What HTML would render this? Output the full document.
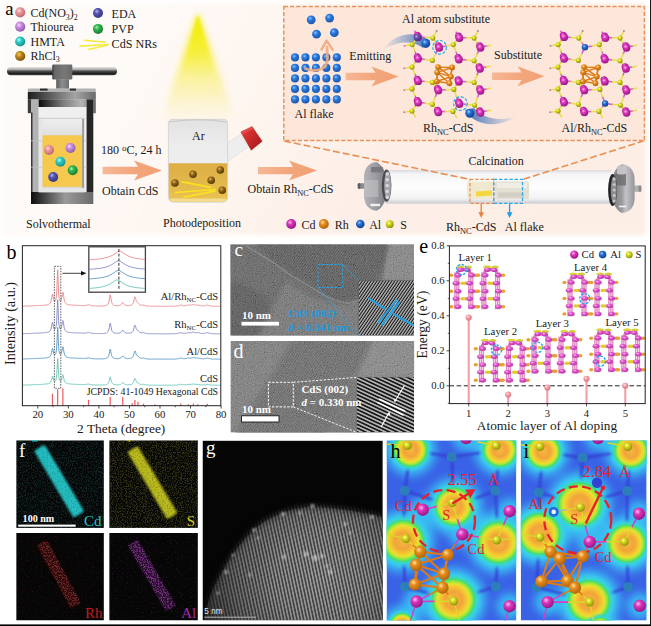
<!DOCTYPE html>
<html><head><meta charset="utf-8"><title>Figure</title>
<style>html,body{margin:0;padding:0;background:#fff;}body{width:651px;height:626px;overflow:hidden;position:relative;font-family:"Liberation Serif",serif;}svg{position:absolute;left:0;top:0;display:block;}text{font-family:"Liberation Serif",serif;}</style></head>
<body>
<svg width="651" height="626" viewBox="0 0 651 626">
<defs><radialGradient id="g_pink" cx="0.38" cy="0.34" r="0.7"><stop offset="0" stop-color="#ffdcd8"/><stop offset="0.35" stop-color="#ec969c"/><stop offset="1" stop-color="#b8646c"/></radialGradient><radialGradient id="g_purp" cx="0.38" cy="0.34" r="0.7"><stop offset="0" stop-color="#f4dcff"/><stop offset="0.35" stop-color="#c88ce0"/><stop offset="1" stop-color="#8a58a8"/></radialGradient><radialGradient id="g_teal" cx="0.38" cy="0.34" r="0.7"><stop offset="0" stop-color="#b8fff8"/><stop offset="0.35" stop-color="#30ccc4"/><stop offset="1" stop-color="#188c88"/></radialGradient><radialGradient id="g_gold" cx="0.38" cy="0.34" r="0.7"><stop offset="0" stop-color="#f4cc70"/><stop offset="0.35" stop-color="#c08a1c"/><stop offset="1" stop-color="#74500a"/></radialGradient><radialGradient id="g_gold2" cx="0.38" cy="0.34" r="0.7"><stop offset="0" stop-color="#e0b860"/><stop offset="0.35" stop-color="#94691a"/><stop offset="1" stop-color="#4e3406"/></radialGradient><radialGradient id="g_cds" cx="0.38" cy="0.34" r="0.7"><stop offset="0" stop-color="#ffd0f6"/><stop offset="0.35" stop-color="#e050cc"/><stop offset="1" stop-color="#b434a4"/></radialGradient><radialGradient id="g_al2" cx="0.38" cy="0.34" r="0.7"><stop offset="0" stop-color="#8cc4ff"/><stop offset="0.35" stop-color="#2a7ade"/><stop offset="1" stop-color="#1a52a8"/></radialGradient><radialGradient id="g_navy" cx="0.38" cy="0.34" r="0.7"><stop offset="0" stop-color="#b4b4f4"/><stop offset="0.35" stop-color="#5454b0"/><stop offset="1" stop-color="#34347c"/></radialGradient><radialGradient id="g_green" cx="0.38" cy="0.34" r="0.7"><stop offset="0" stop-color="#a8f4b0"/><stop offset="0.35" stop-color="#30b44c"/><stop offset="1" stop-color="#187834"/></radialGradient><radialGradient id="g_cd" cx="0.38" cy="0.34" r="0.7"><stop offset="0" stop-color="#ffbcee"/><stop offset="0.35" stop-color="#dc34bc"/><stop offset="1" stop-color="#92147e"/></radialGradient><radialGradient id="g_rh" cx="0.38" cy="0.34" r="0.7"><stop offset="0" stop-color="#ffe0a0"/><stop offset="0.35" stop-color="#e68c1c"/><stop offset="1" stop-color="#ae620c"/></radialGradient><radialGradient id="g_al" cx="0.38" cy="0.34" r="0.7"><stop offset="0" stop-color="#9cc8ff"/><stop offset="0.35" stop-color="#2470d4"/><stop offset="1" stop-color="#103c86"/></radialGradient><radialGradient id="g_s" cx="0.38" cy="0.34" r="0.7"><stop offset="0" stop-color="#ffffa0"/><stop offset="0.35" stop-color="#d6d61c"/><stop offset="1" stop-color="#8c8c0c"/></radialGradient><radialGradient id="g_cdm" cx="0.38" cy="0.34" r="0.7"><stop offset="0" stop-color="#ffa8ec"/><stop offset="0.35" stop-color="#c824b0"/><stop offset="1" stop-color="#7e1270"/></radialGradient><radialGradient id="g_stem" cx="0.38" cy="0.34" r="0.7"><stop offset="0" stop-color="#ffe8e8"/><stop offset="0.35" stop-color="#f4a0a6"/><stop offset="1" stop-color="#d87680"/></radialGradient><filter id="blur05" x="-10%" y="-10%" width="120%" height="120%"><feGaussianBlur stdDeviation="0.5"/></filter><filter id="blur08" x="-20%" y="-20%" width="140%" height="140%"><feGaussianBlur stdDeviation="0.8"/></filter><filter id="blur1" x="-20%" y="-20%" width="140%" height="140%"><feGaussianBlur stdDeviation="1"/></filter><filter id="blur2" x="-20%" y="-20%" width="140%" height="140%"><feGaussianBlur stdDeviation="2"/></filter><filter id="blur3" x="-20%" y="-20%" width="140%" height="140%"><feGaussianBlur stdDeviation="3"/></filter><filter id="blur4" x="-30%" y="-30%" width="160%" height="160%"><feGaussianBlur stdDeviation="5"/></filter><linearGradient id="bgA" x1="0" y1="0" x2="1" y2="0.2"><stop offset="0" stop-color="#fefaf8"/><stop offset="0.22" stop-color="#fefaf7"/><stop offset="0.42" stop-color="#fef6f1"/><stop offset="0.65" stop-color="#fdf0e8"/><stop offset="1" stop-color="#fdeee5"/></linearGradient><linearGradient id="barG" x1="0" y1="0" x2="0" y2="1"><stop offset="0" stop-color="#e4e4e4"/><stop offset="0.28" stop-color="#b4b4b4"/><stop offset="0.5" stop-color="#4c4c4c"/><stop offset="0.82" stop-color="#1a1a1a"/><stop offset="1" stop-color="#4a4a4a"/></linearGradient><linearGradient id="knobG" x1="0" y1="0" x2="1" y2="0"><stop offset="0" stop-color="#3a3a3a"/><stop offset="0.12" stop-color="#686868"/><stop offset="0.6" stop-color="#787878"/><stop offset="1" stop-color="#6a6a6a"/></linearGradient><linearGradient id="neckG" x1="0" y1="0" x2="1" y2="0"><stop offset="0" stop-color="#5a5a5a"/><stop offset="0.45" stop-color="#8e8e8e"/><stop offset="1" stop-color="#6e6e6e"/></linearGradient><linearGradient id="lidG" x1="0" y1="0" x2="1" y2="0"><stop offset="0" stop-color="#1e1e1e"/><stop offset="0.15" stop-color="#3a3a3a"/><stop offset="0.7" stop-color="#a4a4a4"/><stop offset="1" stop-color="#6a6a6a"/></linearGradient><linearGradient id="lid2G" x1="0" y1="0" x2="1" y2="0"><stop offset="0" stop-color="#8a8a8a"/><stop offset="0.3" stop-color="#cfcfcf"/><stop offset="0.8" stop-color="#7a7a7a"/><stop offset="1" stop-color="#3a3a3a"/></linearGradient><linearGradient id="bodyG" x1="0" y1="0" x2="1" y2="0"><stop offset="0" stop-color="#9c9c9c"/><stop offset="0.8" stop-color="#777"/><stop offset="1" stop-color="#333"/></linearGradient><linearGradient id="underG" x1="0" y1="0" x2="1" y2="0"><stop offset="0" stop-color="#0c0c0c"/><stop offset="0.5" stop-color="#7a7a7a"/><stop offset="0.9" stop-color="#b4b4b4"/><stop offset="1" stop-color="#9a9a9a"/></linearGradient><linearGradient id="baseG" x1="0" y1="0" x2="1" y2="0"><stop offset="0" stop-color="#0c0c0c"/><stop offset="0.55" stop-color="#9a9a9a"/><stop offset="1" stop-color="#6a6a6a"/></linearGradient><linearGradient id="glassG" x1="0" y1="0" x2="0" y2="1"><stop offset="0" stop-color="#eeeeee"/><stop offset="1" stop-color="#e0e0e0"/></linearGradient><linearGradient id="coneG" x1="0" y1="0" x2="0" y2="1"><stop offset="0" stop-color="#f4f000" stop-opacity="1"/><stop offset="0.3" stop-color="#f6ee30" stop-opacity="0.9"/><stop offset="0.7" stop-color="#f8ee80" stop-opacity="0.45"/><stop offset="1" stop-color="#fbf2c0" stop-opacity="0"/></linearGradient><linearGradient id="flaskG" x1="0" y1="0" x2="0" y2="1"><stop offset="0" stop-color="#e2e2e2"/><stop offset="0.3" stop-color="#ececec"/><stop offset="1" stop-color="#f2f2f2"/></linearGradient><linearGradient id="liqG" x1="0" y1="0" x2="0" y2="1"><stop offset="0" stop-color="#dcae44"/><stop offset="1" stop-color="#eac252"/></linearGradient><linearGradient id="capG" x1="0" y1="0" x2="1" y2="1"><stop offset="0" stop-color="#e04040"/><stop offset="0.5" stop-color="#c82828"/><stop offset="1" stop-color="#9c1818"/></linearGradient><linearGradient id="arrG" x1="0" y1="0" x2="1" y2="0"><stop offset="0" stop-color="#f6b896"/><stop offset="0.5" stop-color="#f3a67c"/><stop offset="1" stop-color="#f2a074"/></linearGradient><linearGradient id="coneG2" x1="0" y1="0" x2="0" y2="1"><stop offset="0" stop-color="#f0ec00" stop-opacity="1"/><stop offset="0.5" stop-color="#f4ee20" stop-opacity="0.6"/><stop offset="1" stop-color="#f6f040" stop-opacity="0"/></linearGradient><linearGradient id="swoosh1" x1="0" y1="0" x2="1" y2="0"><stop offset="0" stop-color="#3c78c8" stop-opacity="0"/><stop offset="1" stop-color="#2c62b0" stop-opacity="0.9"/></linearGradient><linearGradient id="swoosh2" x1="0" y1="0" x2="1" y2="0"><stop offset="0" stop-color="#2c62b0" stop-opacity="0.9"/><stop offset="1" stop-color="#3c78c8" stop-opacity="0"/></linearGradient><linearGradient id="tubeG" x1="0" y1="0" x2="0" y2="1"><stop offset="0" stop-color="#d9d9dd"/><stop offset="0.12" stop-color="#f6f6f8"/><stop offset="0.5" stop-color="#ffffff"/><stop offset="0.85" stop-color="#f2f2f4"/><stop offset="1" stop-color="#cfcfd4"/></linearGradient><linearGradient id="tubeShadeG" x1="0" y1="0" x2="0" y2="1"><stop offset="0" stop-color="#fff" stop-opacity="0"/><stop offset="1" stop-color="#c8c8ce"/></linearGradient><linearGradient id="flangeG" x1="0" y1="0" x2="1" y2="1"><stop offset="0" stop-color="#dcdce0"/><stop offset="0.35" stop-color="#b4b4b8"/><stop offset="0.7" stop-color="#98989c"/><stop offset="1" stop-color="#c8c8cc"/></linearGradient><linearGradient id="flangeL" x1="0" y1="0" x2="1" y2="0"><stop offset="0" stop-color="#b4b4b8"/><stop offset="0.45" stop-color="#a0a0a4"/><stop offset="0.8" stop-color="#8a8a8e"/><stop offset="1" stop-color="#76767a"/></linearGradient><linearGradient id="flangeR" x1="0" y1="0" x2="1" y2="0"><stop offset="0" stop-color="#7c7c80"/><stop offset="0.45" stop-color="#9c9ca0"/><stop offset="0.62" stop-color="#c4c4c8"/><stop offset="1" stop-color="#94949a"/></linearGradient><filter id="noiseG" x="0" y="0" width="100%" height="100%"><feTurbulence type="fractalNoise" baseFrequency="0.9" numOctaves="2" seed="3"/><feColorMatrix type="matrix" values="0.33 0.33 0.33 0 0  0.33 0.33 0.33 0 0  0.33 0.33 0.33 0 0  0 0 0 0 1"/><feComponentTransfer><feFuncR type="linear" slope="1.8" intercept="-0.46"/><feFuncG type="linear" slope="1.8" intercept="-0.46"/><feFuncB type="linear" slope="1.8" intercept="-0.46"/></feComponentTransfer></filter><filter id="noiseCy" x="0" y="0" width="100%" height="100%"><feTurbulence type="fractalNoise" baseFrequency="0.8" numOctaves="2" seed="5"/><feColorMatrix type="matrix" values="0 0 0 0 0.12  0 0 0 0 0.78  0 0 0 0 0.8  4 4 0 0 -3.88"/><feGaussianBlur stdDeviation="0.6"/></filter><filter id="noiseYe" x="0" y="0" width="100%" height="100%"><feTurbulence type="fractalNoise" baseFrequency="0.8" numOctaves="2" seed="7"/><feColorMatrix type="matrix" values="0 0 0 0 0.8  0 0 0 0 0.8  0 0 0 0 0.12  4 4 0 0 -3.8"/><feGaussianBlur stdDeviation="0.6"/></filter><filter id="noiseRe" x="0" y="0" width="100%" height="100%"><feTurbulence type="fractalNoise" baseFrequency="0.8" numOctaves="2" seed="9"/><feColorMatrix type="matrix" values="0 0 0 0 0.75  0 0 0 0 0.08  0 0 0 0 0.08  6 6 0 0 -7.08"/><feGaussianBlur stdDeviation="0.6"/></filter><filter id="noiseMa" x="0" y="0" width="100%" height="100%"><feTurbulence type="fractalNoise" baseFrequency="0.8" numOctaves="2" seed="11"/><feColorMatrix type="matrix" values="0 0 0 0 0.62  0 0 0 0 0.12  0 0 0 0 0.7  6 6 0 0 -7.08"/><feGaussianBlur stdDeviation="0.6"/></filter><filter id="noiseReD" x="0" y="0" width="100%" height="100%"><feTurbulence type="fractalNoise" baseFrequency="0.8" numOctaves="2" seed="21"/><feColorMatrix type="matrix" values="0 0 0 0 0.85  0 0 0 0 0.1  0 0 0 0 0.1  5 5 0 0 -4.75"/><feGaussianBlur stdDeviation="0.6"/></filter><filter id="noiseMaD" x="0" y="0" width="100%" height="100%"><feTurbulence type="fractalNoise" baseFrequency="0.8" numOctaves="2" seed="23"/><feColorMatrix type="matrix" values="0 0 0 0 0.68  0 0 0 0 0.14  0 0 0 0 0.78  5 5 0 0 -4.75"/><feGaussianBlur stdDeviation="0.6"/></filter><filter id="noiseDark" x="0" y="0" width="100%" height="100%"><feTurbulence type="fractalNoise" baseFrequency="0.8" numOctaves="2" seed="13"/><feColorMatrix type="matrix" values="0 0 0 0 0.0  0 0 0 0 0.0  0 0 0 0 0.0  6 6 0 0 -6.12"/><feGaussianBlur stdDeviation="0.6"/></filter><pattern id="stripeC" width="2.45" height="2.45" patternUnits="userSpaceOnUse" patternTransform="rotate(-55.7)"><rect width="2.45" height="1.3" fill="#c0c0c0"/></pattern><pattern id="stripeD" width="3.35" height="3.35" patternUnits="userSpaceOnUse" patternTransform="rotate(25)"><rect width="3.35" height="1.7" fill="#b4b4b4"/></pattern><pattern id="fringeC" width="2" height="2" patternUnits="userSpaceOnUse" patternTransform="rotate(-55)"><rect width="2" height="1" fill="#828282"/></pattern><pattern id="fringeD" width="2.1" height="2.1" patternUnits="userSpaceOnUse" patternTransform="rotate(-55)"><rect width="2.1" height="1" fill="#8c8c8c"/></pattern><pattern id="stripeG" width="3.25" height="3.25" patternUnits="userSpaceOnUse" patternTransform="rotate(-12)"><rect width="3.25" height="3.25" fill="#343434"/><rect width="1.6" height="3.25" fill="#9c9c9c"/></pattern><radialGradient id="domeShade" gradientUnits="userSpaceOnUse" cx="322" cy="578" r="118"><stop offset="0" stop-color="#000" stop-opacity="0"/><stop offset="0.4" stop-color="#000" stop-opacity="0.1"/><stop offset="0.75" stop-color="#000" stop-opacity="0.4"/><stop offset="1" stop-color="#000" stop-opacity="0.75"/></radialGradient><radialGradient id="elf"><stop offset="0" stop-color="#f4b840"/><stop offset="0.30" stop-color="#f2a43a"/><stop offset="0.46" stop-color="#f4c832"/><stop offset="0.55" stop-color="#e8e030"/><stop offset="0.64" stop-color="#98e83c"/><stop offset="0.72" stop-color="#44dc74"/><stop offset="0.80" stop-color="#36d8d8" stop-opacity="0.9"/><stop offset="1" stop-color="#38c8f0" stop-opacity="0"/></radialGradient></defs>
<rect width="651" height="626" fill="#fff"/>
<g id="p_bgA">
<rect x="2.5" y="3" width="643.5" height="232" fill="url(#bgA)" filter="url(#blur2)"/>
</g>
<g id="p_legend">
<circle cx="20.20" cy="12.30" r="5.10" fill="url(#g_pink)" /><circle cx="20.20" cy="26.70" r="5.10" fill="url(#g_purp)" /><circle cx="20.20" cy="41.50" r="5.10" fill="url(#g_teal)" /><circle cx="20.20" cy="56.00" r="5.10" fill="url(#g_gold)" /><text x="30.50" y="17.00" font-size="12" fill="#1a1a1a" text-anchor="start" font-weight="normal" font-style="normal" >Cd(NO<tspan font-size="8" dy="2.5">3</tspan><tspan dy="-2.5">)</tspan><tspan font-size="8" dy="2.5">2</tspan></text><text x="30.50" y="31.00" font-size="12" fill="#1a1a1a" text-anchor="start" font-weight="normal" font-style="normal" >Thiourea</text><text x="30.50" y="45.50" font-size="12" fill="#1a1a1a" text-anchor="start" font-weight="normal" font-style="normal" >HMTA</text><text x="30.50" y="59.50" font-size="12" fill="#1a1a1a" text-anchor="start" font-weight="normal" font-style="normal" >RhCl<tspan font-size="8" dy="2.5">3</tspan></text><circle cx="98.00" cy="13.00" r="5.00" fill="url(#g_navy)" /><circle cx="98.00" cy="28.90" r="5.00" fill="url(#g_green)" /><text x="111.60" y="17.50" font-size="12" fill="#1a1a1a" text-anchor="start" font-weight="normal" font-style="normal" >EDA</text><text x="111.60" y="33.00" font-size="12" fill="#1a1a1a" text-anchor="start" font-weight="normal" font-style="normal" >PVP</text><text x="111.60" y="47.50" font-size="12.1" fill="#1a1a1a" text-anchor="start" font-weight="normal" font-style="normal" >CdS NRs</text><g stroke="#f6ea40" stroke-width="1.6" stroke-linecap="round" fill="none"><path d="M84.6,40.2 L105.3,42.2"/><path d="M80,46.1 L108.4,44.5"/><path d="M88.4,49.5 L106.9,45.3"/></g>
</g>
<g id="p_autoclave">
<rect x="7" y="67" width="110" height="8.3" rx="4" fill="url(#barG)"/><rect x="52.3" y="64.4" width="20" height="15" rx="1.2" fill="url(#knobG)"/><rect x="56.2" y="79.2" width="12.8" height="9.6" fill="url(#neckG)"/><rect x="27.8" y="88.4" width="68" height="3.8" rx="0.8" fill="#b2b2b2"/><rect x="40" y="88.6" width="7.6" height="2" fill="#2a2a2a"/><rect x="69.8" y="88.6" width="6.2" height="2" fill="#2a2a2a"/><rect x="27.8" y="92" width="68" height="7.6" fill="url(#lidG)"/><rect x="27.8" y="99.4" width="3.4" height="13.8" fill="#3c3c3c"/><rect x="93.2" y="99.4" width="2.6" height="13.8" fill="#6c6c6c"/><rect x="31" y="99.4" width="7.8" height="93" fill="#b2b2b2"/><rect x="31" y="112.5" width="1.5" height="80" fill="#36363e"/><rect x="86.3" y="99.4" width="7" height="93" fill="#262626"/><rect x="85" y="107" width="1.4" height="85.4" fill="#f0f0f0"/><rect x="38.7" y="99.4" width="47.7" height="7.8" fill="url(#underG)"/><rect x="31" y="192" width="62.3" height="12" fill="url(#baseG)"/><rect x="38.7" y="107" width="46.4" height="85.4" fill="#e6e6e6"/><rect x="38.7" y="107" width="46.4" height="11" fill="#efefef"/><rect x="38.7" y="117.8" width="46.4" height="0.9" fill="#c8c8c8"/><rect x="31" y="140.5" width="55.4" height="0.7" fill="#c4c4c4"/><rect x="31" y="166.8" width="55.4" height="0.7" fill="#c4c4c4"/><rect x="42.5" y="119" width="40" height="69.5" fill="#dadada"/><rect x="42.5" y="119" width="40" height="16.5" fill="url(#glassG)"/><rect x="42.5" y="135.3" width="40" height="51.5" fill="#f6c84e"/><rect x="82.3" y="119" width="1.5" height="69" fill="#8a8a8a"/><circle cx="49.00" cy="150.00" r="5.00" fill="url(#g_pink)" /><circle cx="70.50" cy="148.00" r="5.00" fill="url(#g_purp)" /><circle cx="60.40" cy="161.70" r="5.00" fill="url(#g_teal)" /><circle cx="72.70" cy="170.30" r="5.00" fill="url(#g_green)" /><circle cx="53.20" cy="177.00" r="5.00" fill="url(#g_navy)" />
</g>
<g id="p_flask">
<path d="M197.9,13 L160,121 Q197,136 236,121 Z" fill="url(#coneG)" filter="url(#blur3)"/><path d="M197.9,14.5 L181,75 L215,75 Z" fill="url(#coneG2)" filter="url(#blur1)"/><path d="M226.5,143.5 L240.8,134.6 L247.9,147.2 L228,161 Z" fill="#eeeeee" stroke="#d4d4d8" stroke-width="0.5"/><path d="M240.8,132 L252.1,126.6 L262.2,141.3 L251.2,150.3 Z" fill="url(#capG)" stroke="#9a1818" stroke-width="0.4" stroke-linejoin="round"/><path d="M240.8,132 L252.1,126.6 L253.6,128.8 L242.3,134.4 Z" fill="#e85050" opacity="0.8"/><path d="M168.4,123.5 Q168.4,119.4 172.5,119.4 L223.5,119.4 Q227.6,119.4 227.6,123.5 L227.6,196.5 Q227.6,202.2 221.8,202.2 L174.2,202.2 Q168.4,202.2 168.4,196.5 Z" fill="url(#flaskG)" stroke="#cfcfcf" stroke-width="0.8"/><path d="M169.5,122 Q198,117.5 226.5,122" fill="none" stroke="#c4c4c4" stroke-width="0.9"/><path d="M168.8,163.3 L227.2,163.3 L227.2,196.3 Q227.2,201.8 221.6,201.8 L174.4,201.8 Q168.8,201.8 168.8,196.3 Z" fill="url(#liqG)"/><path d="M170,198.4 L226,198.4 Q225,201.6 221.6,201.6 L174.4,201.6 Q171,201.6 170,198.4 Z" fill="#f4e4a0" opacity="0.8"/><text x="198.40" y="139.60" font-size="12" fill="#1a1a1a" text-anchor="middle" font-weight="normal" font-style="normal" >Ar</text><g stroke="#fae220" stroke-width="1.7" stroke-linecap="round"><path d="M182,181.9 L210.7,187.3"/><path d="M175.2,192.5 L214.9,189.5"/><path d="M183.7,197.1 L214.9,191.2"/></g><circle cx="193.00" cy="174.30" r="3.80" fill="url(#g_gold2)" /><circle cx="220.30" cy="170.00" r="3.80" fill="url(#g_gold2)" /><circle cx="211.20" cy="180.20" r="3.80" fill="url(#g_gold2)" /><circle cx="174.90" cy="183.00" r="3.80" fill="url(#g_gold2)" /><circle cx="222.20" cy="190.30" r="3.80" fill="url(#g_gold2)" />
</g>
<g id="p_steps">
<text x="101.00" y="153.60" font-size="12" fill="#1a1a1a" text-anchor="start" font-weight="normal" font-style="normal" >180 <tspan font-size="9" dy="-3">o</tspan><tspan dy="3">C, 24 h</tspan></text><path d="M102.6,166.85 L138,166.85 L134,160.6 L162,170.6 L134,180.6 L138,174.35 L102.6,174.35 Z" fill="url(#arrG)"/><text x="102.00" y="195.30" font-size="12" fill="#1a1a1a" text-anchor="start" font-weight="normal" font-style="normal" >Obtain CdS</text><text x="26.00" y="228.20" font-size="12" fill="#1a1a1a" text-anchor="start" font-weight="normal" font-style="normal" >Solvothermal</text><text x="163.00" y="227.10" font-size="12" fill="#1a1a1a" text-anchor="start" font-weight="normal" font-style="normal" >Photodeposition</text><path d="M258,167.0 L293,167.0 L289,160.6 L317,170.6 L289,180.6 L293,174.2 L258,174.2 Z" fill="url(#arrG)"/><text x="247.50" y="193.20" font-size="12" fill="#1a1a1a" text-anchor="start" font-weight="normal" font-style="normal" >Obtain Rh<tspan font-size="8.4" dy="2.5">NC</tspan><tspan dy="-2.5">-CdS</tspan></text>
</g>
<g id="p_legend2">
<circle cx="291.20" cy="224.00" r="5.00" fill="url(#g_cd)" /><text x="301.40" y="228.60" font-size="12" fill="#1a1a1a" text-anchor="start" font-weight="normal" font-style="normal" >Cd</text><circle cx="323.80" cy="224.00" r="5.00" fill="url(#g_rh)" /><text x="334.80" y="228.60" font-size="12" fill="#1a1a1a" text-anchor="start" font-weight="normal" font-style="normal" >Rh</text><circle cx="360.30" cy="224.00" r="4.30" fill="url(#g_al)" /><text x="369.20" y="228.60" font-size="12" fill="#1a1a1a" text-anchor="start" font-weight="normal" font-style="normal" >Al</text><circle cx="389.80" cy="224.20" r="3.90" fill="url(#g_s)" /><text x="400.20" y="228.60" font-size="12" fill="#1a1a1a" text-anchor="start" font-weight="normal" font-style="normal" >S</text>
</g>
<g id="p_tube">
<rect x="384" y="170" width="228" height="33.8" rx="3" fill="url(#tubeG)" opacity="0.94"/><rect x="386" y="195.5" width="224" height="7.5" fill="url(#tubeShadeG)" opacity="0.55"/><path d="M284,141 L470,179.4 M644.4,140.6 L523,179.4" stroke="#e88e52" stroke-width="1.6" stroke-dasharray="7,3" fill="none"/><rect x="467" y="181.5" width="26.5" height="17.5" rx="1.5" fill="#efe8cc" opacity="0.95"/><path d="M476,191.5 L492,190.4 L492,195.4 L476,196.4 Z" fill="#f6d63c" filter="url(#blur05)"/><rect x="495" y="181.5" width="34" height="17.5" rx="1.5" fill="#e2ded2" opacity="0.95"/><rect x="497" y="183" width="30" height="5" fill="#f0eee6" opacity="0.9"/><rect x="498" y="192.5" width="26" height="5" fill="#cfcbc0" opacity="0.8"/><rect x="470" y="179.4" width="23.8" height="23.9" fill="none" stroke="#e98a4c" stroke-width="1.2" stroke-dasharray="3.4,1.8"/><rect x="493.8" y="179.4" width="28.7" height="23.9" fill="none" stroke="#2aa8ec" stroke-width="1.2" stroke-dasharray="3.4,1.8"/><path d="M481.2,203.5 L481.2,214" stroke="#e8823c" stroke-width="1.3"/><path d="M478.4,212.3 L481.2,218 L484,212.3 Z" fill="#e8823c"/><path d="M509.6,203.5 L509.6,214" stroke="#1e9ce8" stroke-width="1.3"/><path d="M506.8,212.3 L509.6,218 L512.4,212.3 Z" fill="#1e9ce8"/><text x="468.40" y="165.00" font-size="12" fill="#1a1a1a" text-anchor="start" font-weight="normal" font-style="normal" >Calcination</text><text x="446.00" y="231.00" font-size="12" fill="#1a1a1a" text-anchor="start" font-weight="normal" font-style="normal" >Rh<tspan font-size="8.4" dy="2.5">NC</tspan><tspan dy="-2.5">-CdS</tspan></text><text x="504.80" y="231.00" font-size="12" fill="#1a1a1a" text-anchor="start" font-weight="normal" font-style="normal" >Al flake</text><rect x="357.8" y="183.2" width="7" height="5.6" rx="1.3" fill="#8a8a90"/><rect x="357.8" y="183.2" width="2.6" height="5.6" rx="1.1" fill="#5c5c66"/><path d="M376.5,162 Q364,163.5 364,178 L364,195 Q364,209 376.5,210.8 Q386.8,206 386.8,186.4 Q386.8,167 376.5,162 Z" fill="url(#flangeL)"/><rect x="371" y="167" width="12" height="5.4" fill="#747478" opacity="0.85"/><rect x="364.4" y="180" width="14" height="17" fill="#c4c4c8" opacity="0.55"/><rect x="370.5" y="203.8" width="9.5" height="2.4" fill="#f6f6f6" opacity="0.95"/><ellipse cx="386.6" cy="185.6" rx="4.8" ry="16.2" fill="#4a4a4e"/><ellipse cx="387.6" cy="185.6" rx="3.4" ry="14" fill="#a4a4a8"/><circle cx="387.2" cy="174.0" r="1.7" fill="#e0e0e4" opacity="0.9"/><circle cx="387.2" cy="179.8" r="1.7" fill="#e0e0e4" opacity="0.9"/><circle cx="387.2" cy="185.6" r="1.7" fill="#e0e0e4" opacity="0.9"/><circle cx="387.2" cy="191.4" r="1.7" fill="#e0e0e4" opacity="0.9"/><circle cx="387.2" cy="197.2" r="1.7" fill="#e0e0e4" opacity="0.9"/><rect x="633.5" y="185.6" width="7.8" height="6.2" rx="1.3" fill="#b0b0b4"/><rect x="638.6" y="185.6" width="2.7" height="6.2" rx="1.1" fill="#8a8a8e"/><path d="M622,164.3 Q634.6,166 634.6,180 L634.6,198 Q634.6,211.5 622,213.1 Q611.6,208 611.6,188.7 Q611.6,169 622,164.3 Z" fill="url(#flangeR)"/><rect x="615" y="174" width="11" height="11.5" fill="#6c6c70" opacity="0.8"/><rect x="617" y="165.5" width="8.4" height="9" rx="2" fill="#c8c8cc" opacity="0.9"/><rect x="619" y="205.7" width="7.4" height="1.6" fill="#f6f6f6" opacity="0.95"/><ellipse cx="612.6" cy="190" rx="4.5" ry="16" fill="#26262a"/><ellipse cx="613.8" cy="190" rx="3" ry="13.6" fill="#8c8c90"/><circle cx="614.2" cy="179.0" r="1.5" fill="#d0d0d4" opacity="0.85"/><circle cx="614.2" cy="184.5" r="1.5" fill="#d0d0d4" opacity="0.85"/><circle cx="614.2" cy="190.0" r="1.5" fill="#d0d0d4" opacity="0.85"/><circle cx="614.2" cy="195.5" r="1.5" fill="#d0d0d4" opacity="0.85"/><circle cx="614.2" cy="201.0" r="1.5" fill="#d0d0d4" opacity="0.85"/>
</g>
<g id="p_topbox">
<rect x="283.8" y="6.6" width="360.6" height="134" fill="#fde7db"/><rect x="283.8" y="6.6" width="360.6" height="134" fill="none" stroke="#e8925a" stroke-width="1.5" stroke-dasharray="4.2,2"/><circle cx="295.00" cy="57.40" r="4.05" fill="url(#g_al2)" /><circle cx="305.45" cy="57.40" r="4.05" fill="url(#g_al2)" /><circle cx="315.90" cy="57.40" r="4.05" fill="url(#g_al2)" /><circle cx="326.35" cy="57.40" r="4.05" fill="url(#g_al2)" /><circle cx="336.80" cy="57.40" r="4.05" fill="url(#g_al2)" /><circle cx="295.00" cy="67.90" r="4.05" fill="url(#g_al2)" /><circle cx="305.45" cy="67.90" r="4.05" fill="url(#g_al2)" /><circle cx="315.90" cy="67.90" r="4.05" fill="url(#g_al2)" /><circle cx="326.35" cy="67.90" r="4.05" fill="url(#g_al2)" /><circle cx="336.80" cy="67.90" r="4.05" fill="url(#g_al2)" /><circle cx="295.00" cy="78.40" r="4.05" fill="url(#g_al2)" /><circle cx="305.45" cy="78.40" r="4.05" fill="url(#g_al2)" /><circle cx="315.90" cy="78.40" r="4.05" fill="url(#g_al2)" /><circle cx="326.35" cy="78.40" r="4.05" fill="url(#g_al2)" /><circle cx="336.80" cy="78.40" r="4.05" fill="url(#g_al2)" /><circle cx="295.00" cy="88.90" r="4.05" fill="url(#g_al2)" /><circle cx="305.45" cy="88.90" r="4.05" fill="url(#g_al2)" /><circle cx="315.90" cy="88.90" r="4.05" fill="url(#g_al2)" /><circle cx="326.35" cy="88.90" r="4.05" fill="url(#g_al2)" /><circle cx="336.80" cy="88.90" r="4.05" fill="url(#g_al2)" /><circle cx="295.00" cy="99.40" r="4.05" fill="url(#g_al2)" /><circle cx="305.45" cy="99.40" r="4.05" fill="url(#g_al2)" /><circle cx="315.90" cy="99.40" r="4.05" fill="url(#g_al2)" /><circle cx="326.35" cy="99.40" r="4.05" fill="url(#g_al2)" /><circle cx="336.80" cy="99.40" r="4.05" fill="url(#g_al2)" /><circle cx="311.20" cy="19.80" r="4.40" fill="url(#g_al2)" /><circle cx="329.60" cy="18.10" r="4.40" fill="url(#g_al2)" /><circle cx="316.50" cy="34.20" r="4.40" fill="url(#g_al2)" /><circle cx="334.30" cy="32.70" r="4.40" fill="url(#g_al2)" /><path d="M305.5,68.8 C316,72.5 327.5,70 327.5,58 L327,47" fill="none" stroke="#f0ac84" stroke-width="2.8" stroke-linecap="round" opacity="0.9"/><path d="M321.6,49.3 L326.6,40.6 L332.6,49.6" fill="none" stroke="#f0ac84" stroke-width="2.6" stroke-linecap="round" stroke-linejoin="round" opacity="0.95"/><text x="294.60" y="118.00" font-size="12" fill="#1a1a1a" text-anchor="start" font-weight="normal" font-style="normal" >Al flake</text><text x="349.30" y="59.80" font-size="12" fill="#1a1a1a" text-anchor="start" font-weight="normal" font-style="normal" >Emitting</text><path d="M345.7,72.75 L375.5,72.75 L371.5,66.5 L398.5,76.5 L371.5,86.5 L375.5,80.25 L345.7,80.25 Z" fill="url(#arrG)"/><text x="402.00" y="23.30" font-size="12" fill="#1a1a1a" text-anchor="start" font-weight="normal" font-style="normal" >Al atom substitute</text><path d="M382,50 C394,34 414,29 430,40.5 L423,48 C412,40 398,41 382,50 Z" fill="url(#swoosh1)"/><path d="M465,110 C474,126 498,129 517,116 C500,122 484,119 474,108 Z" fill="url(#swoosh2)"/><g stroke-width="1.5" stroke-linecap="round"><path d="M417.8,36.7 L425.3,37.4" stroke="#d45ccc"/><path d="M425.3,37.4 L432.8,38.1" stroke="#e6e04a"/><path d="M417.8,36.7 L415.0,40.7" stroke="#d45ccc"/><path d="M415.0,40.7 L412.2,44.6" stroke="#e6e04a"/><path d="M459.1,37.6 L466.6,37.8" stroke="#d45ccc"/><path d="M466.6,37.8 L474.1,38.1" stroke="#e6e04a"/><path d="M459.1,37.6 L456.2,41.1" stroke="#d45ccc"/><path d="M456.2,41.1 L453.3,44.6" stroke="#e6e04a"/><path d="M438.9,47.2 L435.9,42.7" stroke="#d45ccc"/><path d="M435.9,42.7 L432.8,38.1" stroke="#e6e04a"/><path d="M438.9,47.2 L446.1,45.9" stroke="#d45ccc"/><path d="M446.1,45.9 L453.3,44.6" stroke="#e6e04a"/><path d="M438.9,47.2 L435.7,53.8" stroke="#d45ccc"/><path d="M435.7,53.8 L432.4,60.4" stroke="#e6e04a"/><path d="M480.2,47.2 L477.2,42.7" stroke="#d45ccc"/><path d="M477.2,42.7 L474.1,38.1" stroke="#e6e04a"/><path d="M480.2,47.2 L477.2,54.0" stroke="#d45ccc"/><path d="M477.2,54.0 L474.1,60.8" stroke="#e6e04a"/><path d="M417.8,58.3 L415.0,51.5" stroke="#d45ccc"/><path d="M415.0,51.5 L412.2,44.6" stroke="#e6e04a"/><path d="M417.8,58.3 L425.1,59.4" stroke="#d45ccc"/><path d="M425.1,59.4 L432.4,60.4" stroke="#e6e04a"/><path d="M417.8,58.3 L414.9,62.7" stroke="#d45ccc"/><path d="M414.9,62.7 L412.0,67.1" stroke="#e6e04a"/><path d="M458.6,59.0 L456.0,51.8" stroke="#d45ccc"/><path d="M456.0,51.8 L453.3,44.6" stroke="#e6e04a"/><path d="M458.6,59.0 L466.4,59.9" stroke="#d45ccc"/><path d="M466.4,59.9 L474.1,60.8" stroke="#e6e04a"/><path d="M479.7,68.3 L476.9,64.6" stroke="#d45ccc"/><path d="M476.9,64.6 L474.1,60.8" stroke="#e6e04a"/><path d="M479.7,68.3 L476.9,75.4" stroke="#d45ccc"/><path d="M476.9,75.4 L474.1,82.4" stroke="#e6e04a"/><path d="M417.8,80.6 L414.9,73.9" stroke="#d45ccc"/><path d="M414.9,73.9 L412.0,67.1" stroke="#e6e04a"/><path d="M417.8,80.6 L425.1,81.5" stroke="#d45ccc"/><path d="M425.1,81.5 L432.4,82.4" stroke="#e6e04a"/><path d="M417.8,80.6 L414.9,84.8" stroke="#d45ccc"/><path d="M414.9,84.8 L412.0,88.9" stroke="#e6e04a"/><path d="M458.6,81.2 L466.4,81.8" stroke="#d45ccc"/><path d="M466.4,81.8 L474.1,82.4" stroke="#e6e04a"/><path d="M458.6,81.2 L456.2,85.3" stroke="#d45ccc"/><path d="M456.2,85.3 L453.9,89.4" stroke="#e6e04a"/><path d="M438.1,89.9 L435.2,86.2" stroke="#d45ccc"/><path d="M435.2,86.2 L432.4,82.4" stroke="#e6e04a"/><path d="M438.1,89.9 L446.0,89.7" stroke="#d45ccc"/><path d="M446.0,89.7 L453.9,89.4" stroke="#e6e04a"/><path d="M438.1,89.9 L435.2,97.2" stroke="#d45ccc"/><path d="M435.2,97.2 L432.4,104.4" stroke="#e6e04a"/><path d="M480.2,90.3 L477.2,86.3" stroke="#d45ccc"/><path d="M477.2,86.3 L474.1,82.4" stroke="#e6e04a"/><path d="M480.2,90.3 L477.4,97.8" stroke="#d45ccc"/><path d="M477.4,97.8 L474.6,105.2" stroke="#e6e04a"/><path d="M417.8,102.1 L414.9,95.5" stroke="#d45ccc"/><path d="M414.9,95.5 L412.0,88.9" stroke="#e6e04a"/><path d="M417.8,102.1 L425.1,103.2" stroke="#d45ccc"/><path d="M425.1,103.2 L432.4,104.4" stroke="#e6e04a"/><path d="M417.8,102.1 L414.9,106.6" stroke="#d45ccc"/><path d="M414.9,106.6 L412.0,111.0" stroke="#e6e04a"/><path d="M459.1,103.5 L456.5,96.4" stroke="#d45ccc"/><path d="M456.5,96.4 L453.9,89.4" stroke="#e6e04a"/><path d="M459.1,103.5 L466.9,104.4" stroke="#d45ccc"/><path d="M466.9,104.4 L474.6,105.2" stroke="#e6e04a"/><path d="M459.1,103.5 L456.1,107.4" stroke="#d45ccc"/><path d="M456.1,107.4 L453.0,111.4" stroke="#e6e04a"/><path d="M438.1,111.7 L435.2,108.0" stroke="#d45ccc"/><path d="M435.2,108.0 L432.4,104.4" stroke="#e6e04a"/><path d="M438.1,111.7 L445.5,111.6" stroke="#d45ccc"/><path d="M445.5,111.6 L453.0,111.4" stroke="#e6e04a"/><path d="M480.2,112.3 L477.4,108.8" stroke="#d45ccc"/><path d="M477.4,108.8 L474.6,105.2" stroke="#e6e04a"/><path d="M412.2,44.6 L404.7,45.8" stroke="#e6e04a"/><circle cx="404.4" cy="45.8" r="0.9" fill="#c66ab0" stroke="none"/><path d="M412.0,67.1 L404.5,68.3" stroke="#e6e04a"/><circle cx="404.2" cy="68.3" r="0.9" fill="#c66ab0" stroke="none"/><path d="M412.0,88.9 L404.5,90.1" stroke="#e6e04a"/><circle cx="404.2" cy="90.1" r="0.9" fill="#c66ab0" stroke="none"/><path d="M412.0,111.0 L404.5,112.2" stroke="#e6e04a"/><circle cx="404.2" cy="112.2" r="0.9" fill="#c66ab0" stroke="none"/><path d="M480.2,47.2 L487.2,45.7" stroke="#d45ccc"/><path d="M487.2,45.7 L490.7,45.2" stroke="#e6e04a"/><path d="M479.7,68.3 L486.7,66.8" stroke="#d45ccc"/><path d="M486.7,66.8 L490.2,66.3" stroke="#e6e04a"/><path d="M480.2,90.3 L487.2,88.8" stroke="#d45ccc"/><path d="M487.2,88.8 L490.7,88.3" stroke="#e6e04a"/><path d="M480.2,112.3 L487.2,110.8" stroke="#d45ccc"/><path d="M487.2,110.8 L490.7,110.3" stroke="#e6e04a"/><path d="M432.8,38.1 L436.3,31.6" stroke="#e6e04a"/><circle cx="436.6" cy="31.1" r="1" fill="#b08a70" stroke="none"/><path d="M474.1,38.1 L477.6,31.6" stroke="#e6e04a"/><circle cx="477.9" cy="31.1" r="1" fill="#b08a70" stroke="none"/><path d="M412.0,111.0 L415.5,117.0" stroke="#e6e04a"/><path d="M453.0,111.4 L456.5,117.4" stroke="#e6e04a"/><path d="M417.8,36.7 L414.8,31.2" stroke="#d45ccc"/><path d="M459.1,37.6 L456.1,32.1" stroke="#d45ccc"/></g><g stroke="#e07a14" stroke-width="1.4" stroke-linecap="round"><path d="M438.1,67.1 L452.1,67.5"/><path d="M438.1,67.1 L437.2,72.4"/><path d="M438.1,67.1 L450.9,76.6"/><path d="M438.1,67.1 L436.8,81.5"/><path d="M452.1,67.5 L437.2,72.4"/><path d="M452.1,67.5 L450.9,76.6"/><path d="M452.1,67.5 L449.5,83.3"/><path d="M437.2,72.4 L450.9,76.6"/><path d="M437.2,72.4 L436.8,81.5"/><path d="M437.2,72.4 L449.5,83.3"/><path d="M450.9,76.6 L436.8,81.5"/><path d="M450.9,76.6 L449.5,83.3"/><path d="M436.8,81.5 L449.5,83.3"/></g><circle cx="432.79" cy="38.10" r="2.55" fill="url(#g_s)" /><circle cx="474.09" cy="38.10" r="2.55" fill="url(#g_s)" /><circle cx="412.22" cy="44.60" r="2.55" fill="url(#g_s)" /><circle cx="453.35" cy="44.60" r="2.55" fill="url(#g_s)" /><circle cx="432.43" cy="60.42" r="2.55" fill="url(#g_s)" /><circle cx="474.09" cy="60.77" r="2.55" fill="url(#g_s)" /><circle cx="412.05" cy="67.10" r="2.55" fill="url(#g_s)" /><circle cx="432.43" cy="82.39" r="2.55" fill="url(#g_s)" /><circle cx="474.09" cy="82.39" r="2.55" fill="url(#g_s)" /><circle cx="412.05" cy="88.89" r="2.55" fill="url(#g_s)" /><circle cx="453.88" cy="89.42" r="2.55" fill="url(#g_s)" /><circle cx="432.43" cy="104.36" r="2.55" fill="url(#g_s)" /><circle cx="474.61" cy="105.24" r="2.55" fill="url(#g_s)" /><circle cx="412.05" cy="111.04" r="2.55" fill="url(#g_s)" /><circle cx="453.00" cy="111.39" r="2.55" fill="url(#g_s)" /><circle cx="417.25" cy="35.20" r="3.50" fill="url(#g_cdm)" /><circle cx="418.15" cy="37.20" r="3.90" fill="url(#g_cd)" /><circle cx="458.55" cy="36.07" r="3.50" fill="url(#g_cdm)" /><circle cx="459.45" cy="38.07" r="3.90" fill="url(#g_cd)" /><circle cx="438.34" cy="45.74" r="3.50" fill="url(#g_cdm)" /><circle cx="439.24" cy="47.74" r="3.90" fill="url(#g_cd)" /><circle cx="479.64" cy="45.74" r="3.50" fill="url(#g_cdm)" /><circle cx="480.54" cy="47.74" r="3.90" fill="url(#g_cd)" /><circle cx="417.25" cy="56.81" r="3.50" fill="url(#g_cdm)" /><circle cx="418.15" cy="58.81" r="3.90" fill="url(#g_cd)" /><circle cx="458.02" cy="57.52" r="3.50" fill="url(#g_cdm)" /><circle cx="458.92" cy="59.52" r="3.90" fill="url(#g_cd)" /><circle cx="479.11" cy="66.83" r="3.50" fill="url(#g_cdm)" /><circle cx="480.01" cy="68.83" r="3.90" fill="url(#g_cd)" /><circle cx="417.25" cy="79.13" r="3.50" fill="url(#g_cdm)" /><circle cx="418.15" cy="81.13" r="3.90" fill="url(#g_cd)" /><circle cx="458.02" cy="79.66" r="3.50" fill="url(#g_cdm)" /><circle cx="458.92" cy="81.66" r="3.90" fill="url(#g_cd)" /><circle cx="437.46" cy="88.45" r="3.50" fill="url(#g_cdm)" /><circle cx="438.36" cy="90.45" r="3.90" fill="url(#g_cd)" /><circle cx="479.64" cy="88.80" r="3.50" fill="url(#g_cdm)" /><circle cx="480.54" cy="90.80" r="3.90" fill="url(#g_cd)" /><circle cx="417.25" cy="100.57" r="3.50" fill="url(#g_cdm)" /><circle cx="418.15" cy="102.57" r="3.90" fill="url(#g_cd)" /><circle cx="458.55" cy="101.98" r="3.50" fill="url(#g_cdm)" /><circle cx="459.45" cy="103.98" r="3.90" fill="url(#g_cd)" /><circle cx="437.46" cy="110.24" r="3.50" fill="url(#g_cdm)" /><circle cx="438.36" cy="112.24" r="3.90" fill="url(#g_cd)" /><circle cx="479.64" cy="110.77" r="3.50" fill="url(#g_cdm)" /><circle cx="480.54" cy="112.77" r="3.90" fill="url(#g_cd)" /><circle cx="438.06" cy="67.10" r="2.90" fill="url(#g_rh)" /><circle cx="452.12" cy="67.45" r="2.90" fill="url(#g_rh)" /><circle cx="437.18" cy="72.37" r="2.90" fill="url(#g_rh)" /><circle cx="450.89" cy="76.59" r="2.90" fill="url(#g_rh)" /><circle cx="436.83" cy="81.51" r="2.90" fill="url(#g_rh)" /><circle cx="449.48" cy="83.27" r="2.90" fill="url(#g_rh)" /><circle cx="417.20" cy="37.60" r="3.60" fill="url(#g_navy)" opacity="0.85"/><circle cx="425.80" cy="43.40" r="4.50" fill="url(#g_al)" /><circle cx="469.80" cy="113.20" r="4.50" fill="url(#g_al)" /><circle cx="439.6" cy="47.3" r="6.8" fill="none" stroke="#2aa8ec" stroke-width="1.2" stroke-dasharray="3,1.6"/><circle cx="460.4" cy="103.6" r="6.8" fill="none" stroke="#2aa8ec" stroke-width="1.2" stroke-dasharray="3,1.6"/><text x="494.00" y="59.30" font-size="12" fill="#1a1a1a" text-anchor="start" font-weight="normal" font-style="normal" >Substitute</text><path d="M492,72.45 L521.5,72.45 L517.5,66.2 L544.5,76.2 L517.5,86.2 L521.5,79.95 L492,79.95 Z" fill="url(#arrG)"/><g stroke-width="1.5" stroke-linecap="round"><path d="M563.8,36.7 L571.3,37.4" stroke="#d45ccc"/><path d="M571.3,37.4 L578.8,38.1" stroke="#e6e04a"/><path d="M563.8,36.7 L561.0,40.7" stroke="#d45ccc"/><path d="M561.0,40.7 L558.2,44.6" stroke="#e6e04a"/><path d="M605.1,37.6 L612.6,37.8" stroke="#d45ccc"/><path d="M612.6,37.8 L620.1,38.1" stroke="#e6e04a"/><path d="M605.1,37.6 L602.2,41.1" stroke="#d45ccc"/><path d="M602.2,41.1 L599.3,44.6" stroke="#e6e04a"/><path d="M584.9,47.2 L581.9,42.7" stroke="#d45ccc"/><path d="M581.9,42.7 L578.8,38.1" stroke="#e6e04a"/><path d="M584.9,47.2 L592.1,45.9" stroke="#d45ccc"/><path d="M592.1,45.9 L599.3,44.6" stroke="#e6e04a"/><path d="M584.9,47.2 L581.7,53.8" stroke="#d45ccc"/><path d="M581.7,53.8 L578.4,60.4" stroke="#e6e04a"/><path d="M626.2,47.2 L623.2,42.7" stroke="#d45ccc"/><path d="M623.2,42.7 L620.1,38.1" stroke="#e6e04a"/><path d="M626.2,47.2 L623.2,54.0" stroke="#d45ccc"/><path d="M623.2,54.0 L620.1,60.8" stroke="#e6e04a"/><path d="M563.8,58.3 L561.0,51.5" stroke="#d45ccc"/><path d="M561.0,51.5 L558.2,44.6" stroke="#e6e04a"/><path d="M563.8,58.3 L571.1,59.4" stroke="#d45ccc"/><path d="M571.1,59.4 L578.4,60.4" stroke="#e6e04a"/><path d="M563.8,58.3 L560.9,62.7" stroke="#d45ccc"/><path d="M560.9,62.7 L558.0,67.1" stroke="#e6e04a"/><path d="M604.6,59.0 L602.0,51.8" stroke="#d45ccc"/><path d="M602.0,51.8 L599.3,44.6" stroke="#e6e04a"/><path d="M604.6,59.0 L612.4,59.9" stroke="#d45ccc"/><path d="M612.4,59.9 L620.1,60.8" stroke="#e6e04a"/><path d="M625.7,68.3 L622.9,64.6" stroke="#d45ccc"/><path d="M622.9,64.6 L620.1,60.8" stroke="#e6e04a"/><path d="M625.7,68.3 L622.9,75.4" stroke="#d45ccc"/><path d="M622.9,75.4 L620.1,82.4" stroke="#e6e04a"/><path d="M563.8,80.6 L560.9,73.9" stroke="#d45ccc"/><path d="M560.9,73.9 L558.0,67.1" stroke="#e6e04a"/><path d="M563.8,80.6 L571.1,81.5" stroke="#d45ccc"/><path d="M571.1,81.5 L578.4,82.4" stroke="#e6e04a"/><path d="M563.8,80.6 L560.9,84.8" stroke="#d45ccc"/><path d="M560.9,84.8 L558.0,88.9" stroke="#e6e04a"/><path d="M604.6,81.2 L612.4,81.8" stroke="#d45ccc"/><path d="M612.4,81.8 L620.1,82.4" stroke="#e6e04a"/><path d="M604.6,81.2 L602.2,85.3" stroke="#d45ccc"/><path d="M602.2,85.3 L599.9,89.4" stroke="#e6e04a"/><path d="M584.1,89.9 L581.2,86.2" stroke="#d45ccc"/><path d="M581.2,86.2 L578.4,82.4" stroke="#e6e04a"/><path d="M584.1,89.9 L592.0,89.7" stroke="#d45ccc"/><path d="M592.0,89.7 L599.9,89.4" stroke="#e6e04a"/><path d="M584.1,89.9 L581.2,97.2" stroke="#d45ccc"/><path d="M581.2,97.2 L578.4,104.4" stroke="#e6e04a"/><path d="M626.2,90.3 L623.2,86.3" stroke="#d45ccc"/><path d="M623.2,86.3 L620.1,82.4" stroke="#e6e04a"/><path d="M626.2,90.3 L623.4,97.8" stroke="#d45ccc"/><path d="M623.4,97.8 L620.6,105.2" stroke="#e6e04a"/><path d="M563.8,102.1 L560.9,95.5" stroke="#d45ccc"/><path d="M560.9,95.5 L558.0,88.9" stroke="#e6e04a"/><path d="M563.8,102.1 L571.1,103.2" stroke="#d45ccc"/><path d="M571.1,103.2 L578.4,104.4" stroke="#e6e04a"/><path d="M563.8,102.1 L560.9,106.6" stroke="#d45ccc"/><path d="M560.9,106.6 L558.0,111.0" stroke="#e6e04a"/><path d="M605.1,103.5 L602.5,96.4" stroke="#d45ccc"/><path d="M602.5,96.4 L599.9,89.4" stroke="#e6e04a"/><path d="M605.1,103.5 L612.9,104.4" stroke="#d45ccc"/><path d="M612.9,104.4 L620.6,105.2" stroke="#e6e04a"/><path d="M605.1,103.5 L602.1,107.4" stroke="#d45ccc"/><path d="M602.1,107.4 L599.0,111.4" stroke="#e6e04a"/><path d="M584.1,111.7 L581.2,108.0" stroke="#d45ccc"/><path d="M581.2,108.0 L578.4,104.4" stroke="#e6e04a"/><path d="M584.1,111.7 L591.5,111.6" stroke="#d45ccc"/><path d="M591.5,111.6 L599.0,111.4" stroke="#e6e04a"/><path d="M626.2,112.3 L623.4,108.8" stroke="#d45ccc"/><path d="M623.4,108.8 L620.6,105.2" stroke="#e6e04a"/><path d="M558.2,44.6 L550.7,45.8" stroke="#e6e04a"/><circle cx="550.4" cy="45.8" r="0.9" fill="#c66ab0" stroke="none"/><path d="M558.0,67.1 L550.5,68.3" stroke="#e6e04a"/><circle cx="550.2" cy="68.3" r="0.9" fill="#c66ab0" stroke="none"/><path d="M558.0,88.9 L550.5,90.1" stroke="#e6e04a"/><circle cx="550.2" cy="90.1" r="0.9" fill="#c66ab0" stroke="none"/><path d="M558.0,111.0 L550.5,112.2" stroke="#e6e04a"/><circle cx="550.2" cy="112.2" r="0.9" fill="#c66ab0" stroke="none"/><path d="M626.2,47.2 L633.2,45.7" stroke="#d45ccc"/><path d="M633.2,45.7 L636.7,45.2" stroke="#e6e04a"/><path d="M625.7,68.3 L632.7,66.8" stroke="#d45ccc"/><path d="M632.7,66.8 L636.2,66.3" stroke="#e6e04a"/><path d="M626.2,90.3 L633.2,88.8" stroke="#d45ccc"/><path d="M633.2,88.8 L636.7,88.3" stroke="#e6e04a"/><path d="M626.2,112.3 L633.2,110.8" stroke="#d45ccc"/><path d="M633.2,110.8 L636.7,110.3" stroke="#e6e04a"/><path d="M578.8,38.1 L582.3,31.6" stroke="#e6e04a"/><circle cx="582.6" cy="31.1" r="1" fill="#b08a70" stroke="none"/><path d="M620.1,38.1 L623.6,31.6" stroke="#e6e04a"/><circle cx="623.9" cy="31.1" r="1" fill="#b08a70" stroke="none"/><path d="M558.0,111.0 L561.5,117.0" stroke="#e6e04a"/><path d="M599.0,111.4 L602.5,117.4" stroke="#e6e04a"/><path d="M563.8,36.7 L560.8,31.2" stroke="#d45ccc"/><path d="M605.1,37.6 L602.1,32.1" stroke="#d45ccc"/></g><g stroke="#e07a14" stroke-width="1.4" stroke-linecap="round"><path d="M584.1,67.1 L598.1,67.5"/><path d="M584.1,67.1 L583.2,72.4"/><path d="M584.1,67.1 L596.9,76.6"/><path d="M584.1,67.1 L582.8,81.5"/><path d="M598.1,67.5 L583.2,72.4"/><path d="M598.1,67.5 L596.9,76.6"/><path d="M598.1,67.5 L595.5,83.3"/><path d="M583.2,72.4 L596.9,76.6"/><path d="M583.2,72.4 L582.8,81.5"/><path d="M583.2,72.4 L595.5,83.3"/><path d="M596.9,76.6 L582.8,81.5"/><path d="M596.9,76.6 L595.5,83.3"/><path d="M582.8,81.5 L595.5,83.3"/></g><circle cx="578.79" cy="38.10" r="2.55" fill="url(#g_s)" /><circle cx="620.09" cy="38.10" r="2.55" fill="url(#g_s)" /><circle cx="558.22" cy="44.60" r="2.55" fill="url(#g_s)" /><circle cx="599.35" cy="44.60" r="2.55" fill="url(#g_s)" /><circle cx="578.43" cy="60.42" r="2.55" fill="url(#g_s)" /><circle cx="620.09" cy="60.77" r="2.55" fill="url(#g_s)" /><circle cx="558.05" cy="67.10" r="2.55" fill="url(#g_s)" /><circle cx="578.43" cy="82.39" r="2.55" fill="url(#g_s)" /><circle cx="620.09" cy="82.39" r="2.55" fill="url(#g_s)" /><circle cx="558.05" cy="88.89" r="2.55" fill="url(#g_s)" /><circle cx="599.88" cy="89.42" r="2.55" fill="url(#g_s)" /><circle cx="578.43" cy="104.36" r="2.55" fill="url(#g_s)" /><circle cx="620.61" cy="105.24" r="2.55" fill="url(#g_s)" /><circle cx="558.05" cy="111.04" r="2.55" fill="url(#g_s)" /><circle cx="599.00" cy="111.39" r="2.55" fill="url(#g_s)" /><circle cx="563.25" cy="35.20" r="3.50" fill="url(#g_cdm)" /><circle cx="564.15" cy="37.20" r="3.90" fill="url(#g_cd)" /><circle cx="604.55" cy="36.07" r="3.50" fill="url(#g_cdm)" /><circle cx="605.45" cy="38.07" r="3.90" fill="url(#g_cd)" /><circle cx="584.94" cy="47.24" r="3.20" fill="url(#g_al)" /><circle cx="625.64" cy="45.74" r="3.50" fill="url(#g_cdm)" /><circle cx="626.54" cy="47.74" r="3.90" fill="url(#g_cd)" /><circle cx="563.25" cy="56.81" r="3.50" fill="url(#g_cdm)" /><circle cx="564.15" cy="58.81" r="3.90" fill="url(#g_cd)" /><circle cx="604.02" cy="57.52" r="3.50" fill="url(#g_cdm)" /><circle cx="604.92" cy="59.52" r="3.90" fill="url(#g_cd)" /><circle cx="625.11" cy="66.83" r="3.50" fill="url(#g_cdm)" /><circle cx="626.01" cy="68.83" r="3.90" fill="url(#g_cd)" /><circle cx="563.25" cy="79.13" r="3.50" fill="url(#g_cdm)" /><circle cx="564.15" cy="81.13" r="3.90" fill="url(#g_cd)" /><circle cx="604.02" cy="79.66" r="3.50" fill="url(#g_cdm)" /><circle cx="604.92" cy="81.66" r="3.90" fill="url(#g_cd)" /><circle cx="583.46" cy="88.45" r="3.50" fill="url(#g_cdm)" /><circle cx="584.36" cy="90.45" r="3.90" fill="url(#g_cd)" /><circle cx="625.64" cy="88.80" r="3.50" fill="url(#g_cdm)" /><circle cx="626.54" cy="90.80" r="3.90" fill="url(#g_cd)" /><circle cx="563.25" cy="100.57" r="3.50" fill="url(#g_cdm)" /><circle cx="564.15" cy="102.57" r="3.90" fill="url(#g_cd)" /><circle cx="605.15" cy="103.48" r="3.20" fill="url(#g_al)" /><circle cx="583.46" cy="110.24" r="3.50" fill="url(#g_cdm)" /><circle cx="584.36" cy="112.24" r="3.90" fill="url(#g_cd)" /><circle cx="625.64" cy="110.77" r="3.50" fill="url(#g_cdm)" /><circle cx="626.54" cy="112.77" r="3.90" fill="url(#g_cd)" /><circle cx="584.06" cy="67.10" r="2.90" fill="url(#g_rh)" /><circle cx="598.12" cy="67.45" r="2.90" fill="url(#g_rh)" /><circle cx="583.18" cy="72.37" r="2.90" fill="url(#g_rh)" /><circle cx="596.89" cy="76.59" r="2.90" fill="url(#g_rh)" /><circle cx="582.83" cy="81.51" r="2.90" fill="url(#g_rh)" /><circle cx="595.48" cy="83.27" r="2.90" fill="url(#g_rh)" /><text x="423.00" y="132.20" font-size="12" fill="#1a1a1a" text-anchor="start" font-weight="normal" font-style="normal" >Rh<tspan font-size="8.4" dy="2.5">NC</tspan><tspan dy="-2.5">-CdS</tspan></text><text x="561.60" y="132.20" font-size="12" fill="#1a1a1a" text-anchor="start" font-weight="normal" font-style="normal" >Al/Rh<tspan font-size="8.4" dy="2.5">NC</tspan><tspan dy="-2.5">-CdS</tspan></text>
</g>
<g id="p_b">
<text x="6.50" y="259.20" font-size="20" fill="#000" text-anchor="start" font-weight="normal" font-style="normal" >b</text><rect x="22.4" y="245.7" width="198.4" height="160.0" fill="#fff"/><path d="M22.5,306.23 L22.8,306.08 L23.1,306.09 L23.4,306.18 L23.7,306.13 L24.1,306.13 L24.4,306.08 L24.7,306.05 L25.0,306.18 L25.3,306.18 L25.6,306.02 L25.9,306.09 L26.2,306.01 L26.5,306.16 L26.8,306.06 L27.1,306.00 L27.4,306.08 L27.7,305.93 L28.0,305.93 L28.3,306.10 L28.6,306.09 L28.9,305.97 L29.2,305.88 L29.6,305.99 L29.9,306.01 L30.2,305.96 L30.5,306.02 L30.8,305.98 L31.1,305.92 L31.4,305.90 L31.7,305.94 L32.0,305.93 L32.3,305.92 L32.6,305.86 L32.9,305.88 L33.2,305.92 L33.5,305.75 L33.8,305.79 L34.1,305.76 L34.4,305.84 L34.7,305.66 L35.1,305.68 L35.4,305.81 L35.7,305.76 L36.0,305.66 L36.3,305.65 L36.6,305.59 L36.9,305.68 L37.2,305.58 L37.5,305.60 L37.8,305.66 L38.1,305.59 L38.4,305.51 L38.7,305.50 L39.0,305.56 L39.3,305.52 L39.6,305.62 L39.9,305.56 L40.2,305.43 L40.5,305.49 L40.9,305.52 L41.2,305.42 L41.5,305.37 L41.8,305.36 L42.1,305.40 L42.4,305.36 L42.7,305.33 L43.0,305.25 L43.3,305.28 L43.6,305.28 L43.9,305.23 L44.2,305.30 L44.5,305.27 L44.8,305.10 L45.1,305.01 L45.4,305.06 L45.7,305.06 L46.0,305.06 L46.4,304.95 L46.7,304.81 L47.0,304.79 L47.3,304.78 L47.6,304.64 L47.9,304.69 L48.2,304.54 L48.5,304.34 L48.8,304.28 L49.1,304.14 L49.4,303.98 L49.7,303.67 L50.0,303.26 L50.3,303.02 L50.6,302.28 L50.9,301.46 L51.2,300.32 L51.5,298.79 L51.9,296.83 L52.2,294.96 L52.5,294.04 L52.8,294.81 L53.1,296.65 L53.4,298.26 L53.7,299.68 L54.0,300.66 L54.3,301.14 L54.6,301.41 L54.9,301.46 L55.2,301.25 L55.5,300.73 L55.8,299.87 L56.1,298.47 L56.4,296.16 L56.7,292.25 L57.0,285.41 L57.4,275.73 L57.7,269.73 L58.0,275.56 L58.3,285.23 L58.6,291.99 L58.9,295.95 L59.2,298.36 L59.5,299.59 L59.8,300.41 L60.1,300.93 L60.4,301.05 L60.7,300.91 L61.0,300.35 L61.3,299.71 L61.6,298.58 L61.9,296.83 L62.2,294.83 L62.5,292.93 L62.9,292.10 L63.2,292.99 L63.5,295.17 L63.8,297.38 L64.1,299.12 L64.4,300.54 L64.7,301.56 L65.0,302.26 L65.3,302.89 L65.6,303.23 L65.9,303.54 L66.2,303.83 L66.5,304.05 L66.8,304.05 L67.1,304.27 L67.4,304.44 L67.7,304.46 L68.0,304.50 L68.4,304.73 L68.7,304.80 L69.0,304.83 L69.3,304.77 L69.6,304.92 L69.9,304.86 L70.2,304.90 L70.5,304.96 L70.8,305.06 L71.1,304.94 L71.4,305.01 L71.7,305.09 L72.0,305.17 L72.3,305.11 L72.6,305.19 L72.9,305.17 L73.2,305.24 L73.5,305.20 L73.8,305.34 L74.2,305.31 L74.5,305.19 L74.8,305.23 L75.1,305.36 L75.4,305.27 L75.7,305.39 L76.0,305.28 L76.3,305.34 L76.6,305.42 L76.9,305.47 L77.2,305.53 L77.5,305.37 L77.8,305.55 L78.1,305.41 L78.4,305.39 L78.7,305.48 L79.0,305.58 L79.3,305.45 L79.7,305.44 L80.0,305.50 L80.3,305.55 L80.6,305.59 L80.9,305.60 L81.2,305.64 L81.5,305.55 L81.8,305.61 L82.1,305.66 L82.4,305.68 L82.7,305.57 L83.0,305.65 L83.3,305.61 L83.6,305.64 L83.9,305.52 L84.2,305.51 L84.5,305.67 L84.8,305.62 L85.2,305.57 L85.5,305.40 L85.8,305.40 L86.1,305.44 L86.4,305.40 L86.7,305.23 L87.0,305.10 L87.3,304.96 L87.6,304.96 L87.9,304.74 L88.2,304.70 L88.5,304.72 L88.8,304.66 L89.1,304.91 L89.4,304.94 L89.7,305.21 L90.0,305.32 L90.3,305.29 L90.7,305.53 L91.0,305.50 L91.3,305.60 L91.6,305.61 L91.9,305.76 L92.2,305.80 L92.5,305.85 L92.8,305.76 L93.1,305.84 L93.4,305.80 L93.7,305.83 L94.0,306.00 L94.3,305.93 L94.6,306.04 L94.9,306.06 L95.2,306.07 L95.5,305.92 L95.8,305.94 L96.2,305.94 L96.5,306.05 L96.8,306.00 L97.1,305.97 L97.4,306.06 L97.7,306.02 L98.0,306.10 L98.3,306.13 L98.6,306.09 L98.9,305.97 L99.2,306.03 L99.5,305.96 L99.8,306.05 L100.1,306.09 L100.4,305.98 L100.7,305.97 L101.0,306.13 L101.3,305.99 L101.6,306.10 L102.0,306.08 L102.3,305.92 L102.6,306.07 L102.9,306.02 L103.2,305.85 L103.5,305.94 L103.8,305.98 L104.1,305.94 L104.4,305.89 L104.7,305.74 L105.0,305.82 L105.3,305.60 L105.6,305.64 L105.9,305.44 L106.2,305.34 L106.5,305.34 L106.8,305.18 L107.1,304.93 L107.5,304.74 L107.8,304.28 L108.1,303.94 L108.4,303.30 L108.7,302.23 L109.0,301.15 L109.3,299.44 L109.6,297.47 L109.9,295.61 L110.2,294.84 L110.5,295.49 L110.8,297.36 L111.1,299.36 L111.4,301.17 L111.7,302.37 L112.0,303.17 L112.3,303.73 L112.6,304.28 L113.0,304.60 L113.3,304.86 L113.6,305.15 L113.9,305.25 L114.2,305.42 L114.5,305.53 L114.8,305.64 L115.1,305.66 L115.4,305.57 L115.7,305.71 L116.0,305.70 L116.3,305.72 L116.6,305.68 L116.9,305.79 L117.2,305.81 L117.5,305.80 L117.8,305.78 L118.1,305.65 L118.5,305.61 L118.8,305.68 L119.1,305.62 L119.4,305.50 L119.7,305.40 L120.0,305.27 L120.3,305.19 L120.6,305.03 L120.9,304.73 L121.2,304.44 L121.5,303.96 L121.8,303.60 L122.1,303.14 L122.4,302.67 L122.7,302.60 L123.0,302.64 L123.3,303.06 L123.6,303.44 L124.0,304.02 L124.3,304.35 L124.6,304.61 L124.9,305.00 L125.2,305.02 L125.5,305.33 L125.8,305.33 L126.1,305.38 L126.4,305.49 L126.7,305.64 L127.0,305.72 L127.3,305.67 L127.6,305.61 L127.9,305.74 L128.2,305.62 L128.5,305.77 L128.8,305.60 L129.1,305.75 L129.5,305.66 L129.8,305.50 L130.1,305.46 L130.4,305.37 L130.7,305.30 L131.0,305.22 L131.3,305.10 L131.6,305.03 L131.9,304.77 L132.2,304.56 L132.5,304.10 L132.8,303.66 L133.1,303.15 L133.4,302.41 L133.7,301.20 L134.0,299.96 L134.3,298.60 L134.6,297.37 L134.9,296.76 L135.3,297.25 L135.6,298.34 L135.9,299.60 L136.2,300.70 L136.5,301.54 L136.8,301.94 L137.1,302.29 L137.4,302.41 L137.7,302.62 L138.0,302.74 L138.3,303.06 L138.6,303.44 L138.9,303.81 L139.2,304.07 L139.5,304.47 L139.8,304.73 L140.1,304.88 L140.4,305.11 L140.8,305.27 L141.1,305.24 L141.4,305.28 L141.7,305.26 L142.0,305.28 L142.3,305.18 L142.6,305.10 L142.9,305.11 L143.2,305.00 L143.5,305.00 L143.8,305.12 L144.1,305.20 L144.4,305.32 L144.7,305.40 L145.0,305.53 L145.3,305.76 L145.6,305.77 L145.9,305.96 L146.3,306.02 L146.6,305.98 L146.9,305.94 L147.2,306.12 L147.5,306.02 L147.8,306.02 L148.1,306.16 L148.4,306.10 L148.7,306.09 L149.0,306.20 L149.3,306.14 L149.6,306.15 L149.9,306.18 L150.2,306.14 L150.5,306.14 L150.8,306.14 L151.1,306.22 L151.4,306.31 L151.8,306.30 L152.1,306.31 L152.4,306.24 L152.7,306.21 L153.0,306.35 L153.3,306.23 L153.6,306.23 L153.9,306.31 L154.2,306.28 L154.5,306.35 L154.8,306.24 L155.1,306.38 L155.4,306.19 L155.7,306.23 L156.0,306.27 L156.3,306.34 L156.6,306.22 L156.9,306.21 L157.3,306.37 L157.6,306.25 L157.9,306.24 L158.2,306.27 L158.5,306.27 L158.8,306.32 L159.1,306.22 L159.4,306.22 L159.7,306.33 L160.0,306.25 L160.3,306.32 L160.6,306.38 L160.9,306.35 L161.2,306.39 L161.5,306.23 L161.8,306.22 L162.1,306.39 L162.4,306.29 L162.7,306.33 L163.1,306.39 L163.4,306.35 L163.7,306.36 L164.0,306.26 L164.3,306.41 L164.6,306.37 L164.9,306.32 L165.2,306.41 L165.5,306.29 L165.8,306.29 L166.1,306.24 L166.4,306.37 L166.7,306.35 L167.0,306.30 L167.3,306.35 L167.6,306.29 L167.9,306.35 L168.2,306.26 L168.6,306.24 L168.9,306.23 L169.2,306.20 L169.5,306.28 L169.8,306.29 L170.1,306.21 L170.4,306.23 L170.7,306.27 L171.0,306.30 L171.3,306.31 L171.6,306.35 L171.9,306.20 L172.2,306.33 L172.5,306.20 L172.8,306.24 L173.1,306.14 L173.4,306.18 L173.7,306.13 L174.1,306.28 L174.4,306.20 L174.7,306.17 L175.0,306.21 L175.3,306.16 L175.6,306.17 L175.9,306.11 L176.2,306.19 L176.5,306.08 L176.8,306.04 L177.1,306.03 L177.4,305.97 L177.7,305.84 L178.0,305.80 L178.3,305.77 L178.6,305.65 L178.9,305.61 L179.2,305.54 L179.6,305.46 L179.9,305.29 L180.2,305.13 L180.5,305.00 L180.8,304.98 L181.1,305.06 L181.4,305.02 L181.7,305.21 L182.0,305.23 L182.3,305.41 L182.6,305.44 L182.9,305.46 L183.2,305.66 L183.5,305.73 L183.8,305.68 L184.1,305.72 L184.4,305.76 L184.7,305.83 L185.1,305.74 L185.4,305.71 L185.7,305.68 L186.0,305.54 L186.3,305.54 L186.6,305.43 L186.9,305.31 L187.2,305.24 L187.5,305.20 L187.8,305.05 L188.1,305.00 L188.4,304.96 L188.7,304.96 L189.0,305.03 L189.3,305.03 L189.6,305.08 L189.9,305.06 L190.2,305.11 L190.6,305.10 L190.9,305.09 L191.2,305.03 L191.5,305.00 L191.8,304.96 L192.1,304.86 L192.4,304.66 L192.7,304.52 L193.0,304.51 L193.3,304.56 L193.6,304.44 L193.9,304.59 L194.2,304.69 L194.5,304.89 L194.8,304.90 L195.1,304.94 L195.4,305.07 L195.7,305.12 L196.0,305.08 L196.4,305.19 L196.7,305.07 L197.0,304.94 L197.3,304.96 L197.6,305.00 L197.9,304.96 L198.2,305.02 L198.5,305.18 L198.8,305.28 L199.1,305.25 L199.4,305.48 L199.7,305.61 L200.0,305.54 L200.3,305.68 L200.6,305.77 L200.9,305.79 L201.2,305.78 L201.5,305.93 L201.9,305.85 L202.2,305.85 L202.5,305.84 L202.8,305.95 L203.1,305.88 L203.4,305.95 L203.7,305.86 L204.0,305.91 L204.3,305.76 L204.6,305.69 L204.9,305.74 L205.2,305.70 L205.5,305.46 L205.8,305.42 L206.1,305.29 L206.4,305.35 L206.7,305.09 L207.0,305.08 L207.4,305.12 L207.7,305.13 L208.0,305.14 L208.3,305.23 L208.6,305.46 L208.9,305.49 L209.2,305.69 L209.5,305.62 L209.8,305.81 L210.1,305.79 L210.4,305.88 L210.7,305.96 L211.0,306.07 L211.3,306.06 L211.6,306.17 L211.9,306.19 L212.2,306.10 L212.5,306.19 L212.9,306.13 L213.2,306.25 L213.5,306.17 L213.8,306.18 L214.1,306.28 L214.4,306.33 L214.7,306.28 L215.0,306.27 L215.3,306.35 L215.6,306.34 L215.9,306.37 L216.2,306.27 L216.5,306.22 L216.8,306.36 L217.1,306.40 L217.4,306.27 L217.7,306.25 L218.0,306.22 L218.4,306.30 L218.7,306.35 L219.0,306.26 L219.3,306.40 L219.6,306.29 L219.9,306.41 L220.2,306.35 L220.5,306.34 L220.8,306.36 L221.1,306.41" fill="none" stroke="#ee7f83" stroke-width="0.9" stroke-linejoin="round"/><path d="M22.5,333.57 L22.8,333.56 L23.1,333.73 L23.4,333.72 L23.7,333.56 L24.1,333.58 L24.4,333.58 L24.7,333.65 L25.0,333.58 L25.3,333.57 L25.6,333.57 L25.9,333.65 L26.2,333.58 L26.5,333.58 L26.8,333.51 L27.1,333.44 L27.4,333.44 L27.7,333.52 L28.0,333.53 L28.3,333.55 L28.6,333.59 L28.9,333.58 L29.2,333.48 L29.6,333.50 L29.9,333.48 L30.2,333.37 L30.5,333.43 L30.8,333.41 L31.1,333.47 L31.4,333.50 L31.7,333.43 L32.0,333.45 L32.3,333.37 L32.6,333.26 L32.9,333.31 L33.2,333.40 L33.5,333.24 L33.8,333.25 L34.1,333.25 L34.4,333.20 L34.7,333.22 L35.1,333.20 L35.4,333.27 L35.7,333.13 L36.0,333.12 L36.3,333.27 L36.6,333.14 L36.9,333.13 L37.2,333.17 L37.5,333.14 L37.8,333.13 L38.1,333.03 L38.4,333.10 L38.7,333.02 L39.0,333.10 L39.3,332.97 L39.6,332.95 L39.9,333.02 L40.2,332.99 L40.5,332.90 L40.9,332.92 L41.2,332.95 L41.5,332.98 L41.8,332.94 L42.1,332.85 L42.4,332.93 L42.7,332.76 L43.0,332.87 L43.3,332.72 L43.6,332.81 L43.9,332.66 L44.2,332.68 L44.5,332.70 L44.8,332.66 L45.1,332.61 L45.4,332.59 L45.7,332.61 L46.0,332.59 L46.4,332.48 L46.7,332.35 L47.0,332.36 L47.3,332.41 L47.6,332.20 L47.9,332.14 L48.2,332.02 L48.5,332.05 L48.8,331.82 L49.1,331.81 L49.4,331.50 L49.7,331.34 L50.0,331.04 L50.3,330.51 L50.6,330.12 L50.9,329.28 L51.2,328.17 L51.5,326.84 L51.9,325.03 L52.2,323.11 L52.5,322.35 L52.8,322.99 L53.1,324.76 L53.4,326.35 L53.7,327.65 L54.0,328.39 L54.3,329.01 L54.6,329.08 L54.9,329.29 L55.2,328.95 L55.5,328.65 L55.8,327.82 L56.1,326.40 L56.4,324.36 L56.7,320.63 L57.0,314.21 L57.4,305.25 L57.7,299.82 L58.0,305.10 L58.3,314.25 L58.6,320.56 L58.9,324.19 L59.2,326.27 L59.5,327.50 L59.8,328.35 L60.1,328.68 L60.4,328.85 L60.7,328.63 L61.0,328.18 L61.3,327.50 L61.6,326.39 L61.9,324.89 L62.2,322.96 L62.5,321.17 L62.9,320.46 L63.2,321.40 L63.5,323.28 L63.8,325.42 L64.1,327.17 L64.4,328.37 L64.7,329.21 L65.0,330.04 L65.3,330.45 L65.6,330.87 L65.9,331.14 L66.2,331.45 L66.5,331.47 L66.8,331.76 L67.1,331.82 L67.4,331.96 L67.7,332.14 L68.0,332.11 L68.4,332.26 L68.7,332.33 L69.0,332.39 L69.3,332.42 L69.6,332.47 L69.9,332.40 L70.2,332.47 L70.5,332.40 L70.8,332.45 L71.1,332.46 L71.4,332.64 L71.7,332.63 L72.0,332.69 L72.3,332.65 L72.6,332.66 L72.9,332.65 L73.2,332.69 L73.5,332.80 L73.8,332.78 L74.2,332.78 L74.5,332.90 L74.8,332.91 L75.1,332.86 L75.4,332.93 L75.7,332.83 L76.0,332.94 L76.3,332.98 L76.6,332.98 L76.9,332.98 L77.2,333.00 L77.5,332.95 L77.8,332.98 L78.1,333.02 L78.4,332.97 L78.7,333.07 L79.0,332.94 L79.3,332.94 L79.7,333.00 L80.0,333.07 L80.3,333.06 L80.6,333.06 L80.9,333.17 L81.2,333.11 L81.5,333.09 L81.8,333.17 L82.1,333.19 L82.4,333.06 L82.7,333.15 L83.0,333.12 L83.3,333.04 L83.6,333.10 L83.9,333.16 L84.2,333.01 L84.5,333.12 L84.8,333.18 L85.2,333.02 L85.5,333.11 L85.8,333.03 L86.1,332.88 L86.4,332.85 L86.7,332.91 L87.0,332.73 L87.3,332.63 L87.6,332.51 L87.9,332.46 L88.2,332.31 L88.5,332.39 L88.8,332.39 L89.1,332.46 L89.4,332.47 L89.7,332.77 L90.0,332.76 L90.3,332.98 L90.7,333.00 L91.0,333.11 L91.3,333.16 L91.6,333.16 L91.9,333.28 L92.2,333.37 L92.5,333.41 L92.8,333.44 L93.1,333.31 L93.4,333.38 L93.7,333.33 L94.0,333.40 L94.3,333.55 L94.6,333.44 L94.9,333.43 L95.2,333.45 L95.5,333.51 L95.8,333.54 L96.2,333.53 L96.5,333.47 L96.8,333.58 L97.1,333.54 L97.4,333.55 L97.7,333.46 L98.0,333.49 L98.3,333.47 L98.6,333.49 L98.9,333.60 L99.2,333.62 L99.5,333.56 L99.8,333.61 L100.1,333.57 L100.4,333.52 L100.7,333.47 L101.0,333.53 L101.3,333.48 L101.6,333.62 L102.0,333.56 L102.3,333.42 L102.6,333.57 L102.9,333.51 L103.2,333.56 L103.5,333.54 L103.8,333.35 L104.1,333.30 L104.4,333.34 L104.7,333.41 L105.0,333.33 L105.3,333.28 L105.6,333.13 L105.9,333.05 L106.2,333.00 L106.5,332.87 L106.8,332.80 L107.1,332.52 L107.5,332.19 L107.8,331.91 L108.1,331.60 L108.4,330.92 L108.7,330.06 L109.0,329.02 L109.3,327.37 L109.6,325.59 L109.9,323.79 L110.2,323.08 L110.5,323.73 L110.8,325.52 L111.1,327.42 L111.4,329.03 L111.7,330.11 L112.0,331.01 L112.3,331.48 L112.6,331.86 L113.0,332.32 L113.3,332.50 L113.6,332.69 L113.9,332.85 L114.2,332.91 L114.5,332.95 L114.8,333.07 L115.1,333.17 L115.4,333.12 L115.7,333.28 L116.0,333.23 L116.3,333.26 L116.6,333.26 L116.9,333.24 L117.2,333.37 L117.5,333.28 L117.8,333.31 L118.1,333.23 L118.5,333.14 L118.8,333.17 L119.1,333.24 L119.4,333.08 L119.7,332.94 L120.0,332.79 L120.3,332.69 L120.6,332.47 L120.9,332.40 L121.2,331.91 L121.5,331.59 L121.8,331.20 L122.1,330.71 L122.4,330.38 L122.7,330.41 L123.0,330.39 L123.3,330.73 L123.6,331.27 L124.0,331.58 L124.3,331.97 L124.6,332.35 L124.9,332.46 L125.2,332.78 L125.5,332.82 L125.8,332.97 L126.1,333.09 L126.4,333.10 L126.7,333.17 L127.0,333.26 L127.3,333.13 L127.6,333.33 L127.9,333.35 L128.2,333.25 L128.5,333.18 L128.8,333.20 L129.1,333.16 L129.5,333.18 L129.8,333.10 L130.1,333.12 L130.4,333.07 L130.7,332.94 L131.0,332.94 L131.3,332.81 L131.6,332.52 L131.9,332.44 L132.2,332.08 L132.5,331.75 L132.8,331.40 L133.1,330.80 L133.4,330.05 L133.7,329.08 L134.0,328.04 L134.3,326.72 L134.6,325.53 L134.9,325.01 L135.3,325.42 L135.6,326.48 L135.9,327.54 L136.2,328.46 L136.5,329.32 L136.8,329.77 L137.1,330.08 L137.4,330.21 L137.7,330.23 L138.0,330.50 L138.3,330.70 L138.6,331.08 L138.9,331.44 L139.2,331.71 L139.5,332.17 L139.8,332.26 L140.1,332.55 L140.4,332.62 L140.8,332.69 L141.1,332.79 L141.4,332.88 L141.7,332.80 L142.0,332.93 L142.3,332.78 L142.6,332.75 L142.9,332.65 L143.2,332.53 L143.5,332.53 L143.8,332.63 L144.1,332.81 L144.4,332.96 L144.7,333.05 L145.0,333.22 L145.3,333.31 L145.6,333.25 L145.9,333.49 L146.3,333.40 L146.6,333.53 L146.9,333.57 L147.2,333.61 L147.5,333.68 L147.8,333.63 L148.1,333.71 L148.4,333.67 L148.7,333.71 L149.0,333.61 L149.3,333.61 L149.6,333.72 L149.9,333.69 L150.2,333.64 L150.5,333.77 L150.8,333.82 L151.1,333.80 L151.4,333.81 L151.8,333.72 L152.1,333.79 L152.4,333.80 L152.7,333.71 L153.0,333.83 L153.3,333.72 L153.6,333.76 L153.9,333.80 L154.2,333.72 L154.5,333.82 L154.8,333.72 L155.1,333.71 L155.4,333.80 L155.7,333.76 L156.0,333.71 L156.3,333.75 L156.6,333.75 L156.9,333.73 L157.3,333.72 L157.6,333.76 L157.9,333.71 L158.2,333.85 L158.5,333.79 L158.8,333.78 L159.1,333.84 L159.4,333.84 L159.7,333.88 L160.0,333.73 L160.3,333.85 L160.6,333.82 L160.9,333.74 L161.2,333.88 L161.5,333.73 L161.8,333.89 L162.1,333.91 L162.4,333.85 L162.7,333.85 L163.1,333.74 L163.4,333.74 L163.7,333.77 L164.0,333.83 L164.3,333.81 L164.6,333.87 L164.9,333.75 L165.2,333.84 L165.5,333.86 L165.8,333.79 L166.1,333.89 L166.4,333.85 L166.7,333.73 L167.0,333.89 L167.3,333.88 L167.6,333.87 L167.9,333.86 L168.2,333.82 L168.6,333.86 L168.9,333.84 L169.2,333.85 L169.5,333.85 L169.8,333.77 L170.1,333.83 L170.4,333.82 L170.7,333.73 L171.0,333.87 L171.3,333.85 L171.6,333.71 L171.9,333.79 L172.2,333.71 L172.5,333.83 L172.8,333.75 L173.1,333.68 L173.4,333.77 L173.7,333.68 L174.1,333.70 L174.4,333.73 L174.7,333.60 L175.0,333.71 L175.3,333.68 L175.6,333.63 L175.9,333.67 L176.2,333.55 L176.5,333.57 L176.8,333.54 L177.1,333.52 L177.4,333.39 L177.7,333.34 L178.0,333.31 L178.3,333.32 L178.6,333.25 L178.9,333.14 L179.2,333.13 L179.6,333.01 L179.9,332.73 L180.2,332.81 L180.5,332.58 L180.8,332.60 L181.1,332.57 L181.4,332.79 L181.7,332.82 L182.0,332.82 L182.3,333.06 L182.6,333.13 L182.9,333.15 L183.2,333.24 L183.5,333.29 L183.8,333.22 L184.1,333.35 L184.4,333.19 L184.7,333.25 L185.1,333.36 L185.4,333.17 L185.7,333.27 L186.0,333.17 L186.3,333.10 L186.6,333.12 L186.9,332.96 L187.2,332.96 L187.5,332.84 L187.8,332.61 L188.1,332.56 L188.4,332.59 L188.7,332.55 L189.0,332.54 L189.3,332.72 L189.6,332.70 L189.9,332.80 L190.2,332.83 L190.6,332.83 L190.9,332.79 L191.2,332.78 L191.5,332.68 L191.8,332.56 L192.1,332.40 L192.4,332.25 L192.7,332.14 L193.0,332.10 L193.3,332.12 L193.6,332.06 L193.9,332.28 L194.2,332.38 L194.5,332.35 L194.8,332.48 L195.1,332.65 L195.4,332.68 L195.7,332.73 L196.0,332.71 L196.4,332.70 L196.7,332.68 L197.0,332.57 L197.3,332.54 L197.6,332.57 L197.9,332.60 L198.2,332.68 L198.5,332.66 L198.8,332.70 L199.1,332.95 L199.4,332.96 L199.7,333.05 L200.0,333.13 L200.3,333.33 L200.6,333.28 L200.9,333.39 L201.2,333.43 L201.5,333.38 L201.9,333.39 L202.2,333.41 L202.5,333.39 L202.8,333.40 L203.1,333.44 L203.4,333.52 L203.7,333.36 L204.0,333.32 L204.3,333.29 L204.6,333.29 L204.9,333.35 L205.2,333.25 L205.5,333.19 L205.8,333.00 L206.1,332.92 L206.4,332.90 L206.7,332.66 L207.0,332.60 L207.4,332.60 L207.7,332.71 L208.0,332.81 L208.3,332.92 L208.6,332.91 L208.9,333.04 L209.2,333.22 L209.5,333.18 L209.8,333.33 L210.1,333.42 L210.4,333.48 L210.7,333.47 L211.0,333.56 L211.3,333.55 L211.6,333.69 L211.9,333.60 L212.2,333.71 L212.5,333.60 L212.9,333.76 L213.2,333.75 L213.5,333.72 L213.8,333.76 L214.1,333.74 L214.4,333.67 L214.7,333.83 L215.0,333.72 L215.3,333.74 L215.6,333.73 L215.9,333.80 L216.2,333.81 L216.5,333.83 L216.8,333.81 L217.1,333.86 L217.4,333.88 L217.7,333.82 L218.0,333.88 L218.4,333.83 L218.7,333.81 L219.0,333.87 L219.3,333.90 L219.6,333.81 L219.9,333.76 L220.2,333.89 L220.5,333.82 L220.8,333.81 L221.1,333.77" fill="none" stroke="#7d86c4" stroke-width="0.9" stroke-linejoin="round"/><path d="M22.5,359.01 L22.8,358.95 L23.1,358.97 L23.4,358.92 L23.7,358.91 L24.1,359.01 L24.4,359.02 L24.7,358.85 L25.0,358.95 L25.3,358.95 L25.6,358.79 L25.9,358.89 L26.2,358.81 L26.5,358.87 L26.8,358.83 L27.1,358.92 L27.4,358.81 L27.7,358.76 L28.0,358.81 L28.3,358.76 L28.6,358.77 L28.9,358.88 L29.2,358.73 L29.6,358.75 L29.9,358.80 L30.2,358.84 L30.5,358.67 L30.8,358.73 L31.1,358.67 L31.4,358.63 L31.7,358.65 L32.0,358.60 L32.3,358.69 L32.6,358.60 L32.9,358.66 L33.2,358.55 L33.5,358.55 L33.8,358.69 L34.1,358.67 L34.4,358.64 L34.7,358.48 L35.1,358.58 L35.4,358.52 L35.7,358.58 L36.0,358.52 L36.3,358.53 L36.6,358.52 L36.9,358.46 L37.2,358.45 L37.5,358.37 L37.8,358.40 L38.1,358.34 L38.4,358.34 L38.7,358.29 L39.0,358.34 L39.3,358.43 L39.6,358.27 L39.9,358.23 L40.2,358.23 L40.5,358.28 L40.9,358.23 L41.2,358.32 L41.5,358.17 L41.8,358.21 L42.1,358.25 L42.4,358.27 L42.7,358.09 L43.0,358.04 L43.3,358.20 L43.6,358.04 L43.9,358.09 L44.2,358.12 L44.5,358.06 L44.8,357.94 L45.1,357.89 L45.4,358.02 L45.7,357.87 L46.0,357.95 L46.4,357.78 L46.7,357.81 L47.0,357.65 L47.3,357.58 L47.6,357.61 L47.9,357.44 L48.2,357.49 L48.5,357.44 L48.8,357.22 L49.1,357.20 L49.4,356.99 L49.7,356.73 L50.0,356.41 L50.3,356.12 L50.6,355.64 L50.9,354.78 L51.2,353.92 L51.5,352.45 L51.9,350.78 L52.2,349.23 L52.5,348.43 L52.8,349.06 L53.1,350.55 L53.4,352.09 L53.7,353.26 L54.0,354.02 L54.3,354.43 L54.6,354.74 L54.9,354.77 L55.2,354.54 L55.5,354.22 L55.8,353.48 L56.1,352.14 L56.4,350.22 L56.7,346.77 L57.0,341.03 L57.4,332.62 L57.7,327.49 L58.0,332.67 L58.3,340.85 L58.6,346.66 L58.9,350.19 L59.2,352.05 L59.5,353.24 L59.8,353.87 L60.1,354.28 L60.4,354.31 L60.7,354.18 L61.0,353.97 L61.3,353.32 L61.6,352.21 L61.9,350.74 L62.2,349.11 L62.5,347.38 L62.9,346.66 L63.2,347.54 L63.5,349.35 L63.8,351.28 L64.1,352.84 L64.4,353.97 L64.7,354.89 L65.0,355.50 L65.3,355.89 L65.6,356.39 L65.9,356.55 L66.2,356.73 L66.5,356.99 L66.8,357.15 L67.1,357.15 L67.4,357.37 L67.7,357.46 L68.0,357.48 L68.4,357.49 L68.7,357.67 L69.0,357.68 L69.3,357.72 L69.6,357.66 L69.9,357.78 L70.2,357.73 L70.5,357.90 L70.8,357.89 L71.1,357.86 L71.4,357.84 L71.7,357.95 L72.0,358.02 L72.3,358.06 L72.6,358.00 L72.9,358.09 L73.2,357.98 L73.5,358.00 L73.8,358.15 L74.2,358.15 L74.5,358.06 L74.8,358.11 L75.1,358.09 L75.4,358.20 L75.7,358.26 L76.0,358.24 L76.3,358.16 L76.6,358.27 L76.9,358.27 L77.2,358.27 L77.5,358.29 L77.8,358.30 L78.1,358.21 L78.4,358.38 L78.7,358.42 L79.0,358.25 L79.3,358.27 L79.7,358.26 L80.0,358.38 L80.3,358.29 L80.6,358.30 L80.9,358.45 L81.2,358.36 L81.5,358.35 L81.8,358.39 L82.1,358.42 L82.4,358.47 L82.7,358.47 L83.0,358.49 L83.3,358.53 L83.6,358.42 L83.9,358.48 L84.2,358.37 L84.5,358.51 L84.8,358.32 L85.2,358.35 L85.5,358.27 L85.8,358.25 L86.1,358.20 L86.4,358.21 L86.7,358.26 L87.0,358.03 L87.3,358.05 L87.6,357.92 L87.9,357.75 L88.2,357.71 L88.5,357.72 L88.8,357.65 L89.1,357.80 L89.4,357.96 L89.7,358.10 L90.0,358.09 L90.3,358.27 L90.7,358.30 L91.0,358.46 L91.3,358.55 L91.6,358.53 L91.9,358.52 L92.2,358.69 L92.5,358.59 L92.8,358.59 L93.1,358.64 L93.4,358.66 L93.7,358.84 L94.0,358.73 L94.3,358.70 L94.6,358.88 L94.9,358.84 L95.2,358.86 L95.5,358.81 L95.8,358.84 L96.2,358.84 L96.5,358.79 L96.8,358.95 L97.1,358.94 L97.4,358.94 L97.7,358.94 L98.0,358.95 L98.3,358.78 L98.6,358.80 L98.9,358.96 L99.2,358.88 L99.5,358.91 L99.8,358.91 L100.1,358.91 L100.4,358.84 L100.7,358.85 L101.0,358.89 L101.3,358.92 L101.6,358.89 L102.0,358.92 L102.3,358.83 L102.6,358.78 L102.9,358.84 L103.2,358.88 L103.5,358.84 L103.8,358.78 L104.1,358.71 L104.4,358.65 L104.7,358.69 L105.0,358.57 L105.3,358.55 L105.6,358.53 L105.9,358.47 L106.2,358.35 L106.5,358.20 L106.8,358.12 L107.1,357.89 L107.5,357.71 L107.8,357.45 L108.1,356.99 L108.4,356.41 L108.7,355.77 L109.0,354.65 L109.3,353.24 L109.6,351.43 L109.9,349.80 L110.2,349.20 L110.5,349.80 L110.8,351.45 L111.1,353.27 L111.4,354.64 L111.7,355.75 L112.0,356.37 L112.3,356.95 L112.6,357.30 L113.0,357.62 L113.3,357.87 L113.6,358.03 L113.9,358.20 L114.2,358.40 L114.5,358.38 L114.8,358.57 L115.1,358.59 L115.4,358.51 L115.7,358.69 L116.0,358.70 L116.3,358.72 L116.6,358.57 L116.9,358.72 L117.2,358.75 L117.5,358.58 L117.8,358.71 L118.1,358.55 L118.5,358.55 L118.8,358.48 L119.1,358.41 L119.4,358.42 L119.7,358.29 L120.0,358.34 L120.3,358.06 L120.6,357.94 L120.9,357.68 L121.2,357.52 L121.5,357.06 L121.8,356.63 L122.1,356.41 L122.4,356.05 L122.7,355.89 L123.0,355.95 L123.3,356.37 L123.6,356.78 L124.0,357.15 L124.3,357.41 L124.6,357.66 L124.9,357.95 L125.2,358.12 L125.5,358.25 L125.8,358.36 L126.1,358.42 L126.4,358.55 L126.7,358.51 L127.0,358.45 L127.3,358.59 L127.6,358.54 L127.9,358.67 L128.2,358.56 L128.5,358.54 L128.8,358.54 L129.1,358.56 L129.5,358.53 L129.8,358.47 L130.1,358.37 L130.4,358.46 L130.7,358.40 L131.0,358.17 L131.3,358.03 L131.6,357.96 L131.9,357.80 L132.2,357.51 L132.5,357.32 L132.8,356.92 L133.1,356.42 L133.4,355.67 L133.7,354.85 L134.0,353.77 L134.3,352.46 L134.6,351.35 L134.9,351.01 L135.3,351.28 L135.6,352.27 L135.9,353.26 L136.2,354.24 L136.5,354.99 L136.8,355.45 L137.1,355.74 L137.4,355.79 L137.7,355.90 L138.0,356.09 L138.3,356.30 L138.6,356.62 L138.9,356.88 L139.2,357.33 L139.5,357.43 L139.8,357.75 L140.1,357.90 L140.4,358.05 L140.8,358.07 L141.1,358.14 L141.4,358.23 L141.7,358.25 L142.0,358.18 L142.3,358.11 L142.6,358.14 L142.9,358.00 L143.2,357.90 L143.5,358.00 L143.8,358.10 L144.1,358.21 L144.4,358.24 L144.7,358.37 L145.0,358.43 L145.3,358.54 L145.6,358.74 L145.9,358.81 L146.3,358.84 L146.6,358.90 L146.9,358.83 L147.2,358.83 L147.5,358.84 L147.8,358.99 L148.1,358.89 L148.4,359.01 L148.7,359.01 L149.0,358.96 L149.3,359.10 L149.6,359.10 L149.9,358.96 L150.2,359.08 L150.5,359.07 L150.8,359.04 L151.1,359.02 L151.4,359.16 L151.8,359.10 L152.1,359.09 L152.4,359.08 L152.7,359.14 L153.0,359.07 L153.3,359.00 L153.6,359.11 L153.9,359.08 L154.2,359.17 L154.5,359.14 L154.8,359.07 L155.1,359.18 L155.4,359.03 L155.7,359.03 L156.0,359.19 L156.3,359.02 L156.6,359.14 L156.9,359.06 L157.3,359.06 L157.6,359.16 L157.9,359.08 L158.2,359.09 L158.5,359.06 L158.8,359.17 L159.1,359.07 L159.4,359.03 L159.7,359.09 L160.0,359.12 L160.3,359.20 L160.6,359.13 L160.9,359.15 L161.2,359.08 L161.5,359.09 L161.8,359.11 L162.1,359.19 L162.4,359.10 L162.7,359.10 L163.1,359.19 L163.4,359.05 L163.7,359.09 L164.0,359.20 L164.3,359.04 L164.6,359.20 L164.9,359.16 L165.2,359.08 L165.5,359.10 L165.8,359.11 L166.1,359.09 L166.4,359.13 L166.7,359.16 L167.0,359.18 L167.3,359.20 L167.6,359.07 L167.9,359.06 L168.2,359.11 L168.6,359.06 L168.9,359.14 L169.2,359.16 L169.5,359.13 L169.8,359.03 L170.1,359.19 L170.4,359.10 L170.7,359.15 L171.0,359.04 L171.3,359.12 L171.6,359.12 L171.9,359.10 L172.2,359.07 L172.5,359.02 L172.8,359.10 L173.1,358.99 L173.4,359.13 L173.7,359.09 L174.1,359.12 L174.4,359.10 L174.7,358.96 L175.0,358.96 L175.3,359.05 L175.6,359.04 L175.9,358.97 L176.2,358.89 L176.5,358.85 L176.8,358.83 L177.1,358.83 L177.4,358.88 L177.7,358.79 L178.0,358.78 L178.3,358.65 L178.6,358.57 L178.9,358.56 L179.2,358.46 L179.6,358.25 L179.9,358.30 L180.2,358.06 L180.5,357.98 L180.8,357.94 L181.1,358.07 L181.4,358.08 L181.7,358.15 L182.0,358.23 L182.3,358.24 L182.6,358.38 L182.9,358.52 L183.2,358.46 L183.5,358.57 L183.8,358.58 L184.1,358.57 L184.4,358.73 L184.7,358.57 L185.1,358.58 L185.4,358.60 L185.7,358.56 L186.0,358.53 L186.3,358.53 L186.6,358.40 L186.9,358.43 L187.2,358.25 L187.5,358.13 L187.8,358.10 L188.1,358.01 L188.4,357.90 L188.7,357.91 L189.0,358.08 L189.3,357.99 L189.6,358.06 L189.9,358.21 L190.2,358.17 L190.6,358.19 L190.9,358.21 L191.2,358.07 L191.5,357.93 L191.8,357.97 L192.1,357.76 L192.4,357.70 L192.7,357.72 L193.0,357.51 L193.3,357.53 L193.6,357.49 L193.9,357.59 L194.2,357.68 L194.5,357.85 L194.8,357.85 L195.1,357.90 L195.4,357.97 L195.7,358.09 L196.0,358.04 L196.4,358.08 L196.7,358.14 L197.0,358.12 L197.3,358.08 L197.6,358.04 L197.9,358.06 L198.2,358.03 L198.5,358.06 L198.8,358.18 L199.1,358.29 L199.4,358.34 L199.7,358.49 L200.0,358.53 L200.3,358.53 L200.6,358.65 L200.9,358.74 L201.2,358.63 L201.5,358.69 L201.9,358.78 L202.2,358.79 L202.5,358.77 L202.8,358.76 L203.1,358.83 L203.4,358.86 L203.7,358.81 L204.0,358.67 L204.3,358.77 L204.6,358.66 L204.9,358.67 L205.2,358.60 L205.5,358.54 L205.8,358.41 L206.1,358.37 L206.4,358.31 L206.7,358.22 L207.0,358.15 L207.4,358.07 L207.7,358.18 L208.0,358.25 L208.3,358.25 L208.6,358.36 L208.9,358.40 L209.2,358.62 L209.5,358.63 L209.8,358.70 L210.1,358.84 L210.4,358.70 L210.7,358.90 L211.0,358.96 L211.3,358.91 L211.6,359.00 L211.9,358.94 L212.2,359.01 L212.5,359.07 L212.9,359.10 L213.2,358.98 L213.5,359.08 L213.8,358.99 L214.1,359.07 L214.4,358.98 L214.7,359.12 L215.0,359.13 L215.3,359.14 L215.6,359.03 L215.9,359.07 L216.2,359.14 L216.5,359.19 L216.8,359.08 L217.1,359.02 L217.4,359.10 L217.7,359.22 L218.0,359.22 L218.4,359.21 L218.7,359.20 L219.0,359.23 L219.3,359.23 L219.6,359.11 L219.9,359.06 L220.2,359.20 L220.5,359.05 L220.8,359.15 L221.1,359.09" fill="none" stroke="#4f93c4" stroke-width="0.9" stroke-linejoin="round"/><path d="M22.5,385.12 L22.8,385.14 L23.1,385.08 L23.4,385.12 L23.7,385.13 L24.1,385.05 L24.4,384.94 L24.7,384.96 L25.0,384.96 L25.3,385.06 L25.6,384.99 L25.9,385.03 L26.2,385.05 L26.5,385.05 L26.8,385.02 L27.1,384.87 L27.4,384.88 L27.7,384.88 L28.0,384.87 L28.3,384.98 L28.6,384.95 L28.9,384.87 L29.2,384.84 L29.6,384.81 L29.9,384.79 L30.2,384.94 L30.5,384.83 L30.8,384.80 L31.1,384.83 L31.4,384.88 L31.7,384.81 L32.0,384.88 L32.3,384.70 L32.6,384.70 L32.9,384.75 L33.2,384.79 L33.5,384.66 L33.8,384.71 L34.1,384.64 L34.4,384.63 L34.7,384.69 L35.1,384.69 L35.4,384.64 L35.7,384.66 L36.0,384.70 L36.3,384.66 L36.6,384.55 L36.9,384.69 L37.2,384.67 L37.5,384.54 L37.8,384.60 L38.1,384.53 L38.4,384.53 L38.7,384.54 L39.0,384.40 L39.3,384.54 L39.6,384.48 L39.9,384.51 L40.2,384.41 L40.5,384.46 L40.9,384.43 L41.2,384.34 L41.5,384.40 L41.8,384.34 L42.1,384.25 L42.4,384.39 L42.7,384.38 L43.0,384.33 L43.3,384.20 L43.6,384.21 L43.9,384.26 L44.2,384.22 L44.5,384.23 L44.8,384.15 L45.1,384.20 L45.4,384.05 L45.7,383.98 L46.0,383.93 L46.4,383.94 L46.7,383.86 L47.0,384.00 L47.3,383.90 L47.6,383.71 L47.9,383.69 L48.2,383.69 L48.5,383.50 L48.8,383.47 L49.1,383.31 L49.4,383.27 L49.7,383.10 L50.0,382.82 L50.3,382.56 L50.6,382.09 L50.9,381.39 L51.2,380.70 L51.5,379.65 L51.9,378.23 L52.2,376.81 L52.5,376.03 L52.8,376.66 L53.1,377.94 L53.4,379.25 L53.7,380.05 L54.0,380.81 L54.3,381.25 L54.6,381.46 L54.9,381.48 L55.2,381.31 L55.5,380.86 L55.8,380.36 L56.1,379.37 L56.4,377.59 L56.7,374.76 L57.0,369.71 L57.4,362.91 L57.7,358.57 L58.0,362.76 L58.3,369.78 L58.6,374.53 L58.9,377.49 L59.2,379.19 L59.5,380.13 L59.8,380.77 L60.1,380.98 L60.4,381.10 L60.7,380.87 L61.0,380.58 L61.3,380.11 L61.6,379.37 L61.9,378.15 L62.2,376.67 L62.5,375.27 L62.9,374.68 L63.2,375.24 L63.5,376.91 L63.8,378.54 L64.1,379.68 L64.4,380.74 L64.7,381.37 L65.0,382.01 L65.3,382.31 L65.6,382.65 L65.9,382.85 L66.2,383.04 L66.5,383.24 L66.8,383.44 L67.1,383.52 L67.4,383.47 L67.7,383.53 L68.0,383.59 L68.4,383.76 L68.7,383.75 L69.0,383.76 L69.3,383.83 L69.6,383.83 L69.9,383.92 L70.2,383.93 L70.5,383.95 L70.8,384.06 L71.1,383.95 L71.4,383.97 L71.7,384.17 L72.0,384.01 L72.3,384.03 L72.6,384.11 L72.9,384.26 L73.2,384.10 L73.5,384.28 L73.8,384.12 L74.2,384.20 L74.5,384.34 L74.8,384.33 L75.1,384.26 L75.4,384.28 L75.7,384.26 L76.0,384.24 L76.3,384.40 L76.6,384.46 L76.9,384.29 L77.2,384.48 L77.5,384.32 L77.8,384.49 L78.1,384.36 L78.4,384.38 L78.7,384.37 L79.0,384.45 L79.3,384.40 L79.7,384.54 L80.0,384.46 L80.3,384.54 L80.6,384.43 L80.9,384.47 L81.2,384.54 L81.5,384.53 L81.8,384.64 L82.1,384.65 L82.4,384.54 L82.7,384.57 L83.0,384.50 L83.3,384.55 L83.6,384.65 L83.9,384.60 L84.2,384.52 L84.5,384.56 L84.8,384.65 L85.2,384.47 L85.5,384.45 L85.8,384.57 L86.1,384.45 L86.4,384.44 L86.7,384.30 L87.0,384.33 L87.3,384.26 L87.6,384.13 L87.9,383.96 L88.2,384.08 L88.5,384.06 L88.8,383.99 L89.1,384.01 L89.4,384.18 L89.7,384.30 L90.0,384.31 L90.3,384.41 L90.7,384.63 L91.0,384.53 L91.3,384.71 L91.6,384.74 L91.9,384.67 L92.2,384.78 L92.5,384.74 L92.8,384.89 L93.1,384.77 L93.4,384.92 L93.7,384.95 L94.0,384.89 L94.3,384.94 L94.6,384.91 L94.9,384.85 L95.2,384.90 L95.5,385.05 L95.8,384.99 L96.2,384.95 L96.5,384.97 L96.8,384.93 L97.1,384.99 L97.4,385.07 L97.7,385.04 L98.0,384.93 L98.3,385.03 L98.6,384.95 L98.9,384.91 L99.2,384.98 L99.5,384.97 L99.8,384.99 L100.1,385.04 L100.4,384.92 L100.7,385.01 L101.0,384.92 L101.3,385.04 L101.6,384.92 L102.0,384.93 L102.3,384.96 L102.6,384.98 L102.9,385.03 L103.2,384.89 L103.5,384.96 L103.8,384.88 L104.1,384.97 L104.4,384.95 L104.7,384.91 L105.0,384.75 L105.3,384.83 L105.6,384.64 L105.9,384.68 L106.2,384.57 L106.5,384.52 L106.8,384.35 L107.1,384.31 L107.5,384.05 L107.8,383.70 L108.1,383.51 L108.4,382.96 L108.7,382.39 L109.0,381.51 L109.3,380.39 L109.6,378.95 L109.9,377.40 L110.2,376.83 L110.5,377.43 L110.8,378.79 L111.1,380.20 L111.4,381.54 L111.7,382.33 L112.0,382.98 L112.3,383.42 L112.6,383.69 L113.0,383.97 L113.3,384.12 L113.6,384.43 L113.9,384.44 L114.2,384.52 L114.5,384.58 L114.8,384.66 L115.1,384.66 L115.4,384.80 L115.7,384.71 L116.0,384.83 L116.3,384.81 L116.6,384.76 L116.9,384.80 L117.2,384.88 L117.5,384.89 L117.8,384.86 L118.1,384.78 L118.5,384.68 L118.8,384.67 L119.1,384.73 L119.4,384.68 L119.7,384.52 L120.0,384.54 L120.3,384.41 L120.6,384.34 L120.9,384.12 L121.2,383.82 L121.5,383.51 L121.8,383.20 L122.1,382.92 L122.4,382.54 L122.7,382.51 L123.0,382.70 L123.3,382.98 L123.6,383.12 L124.0,383.44 L124.3,383.74 L124.6,384.03 L124.9,384.27 L125.2,384.46 L125.5,384.53 L125.8,384.63 L126.1,384.55 L126.4,384.61 L126.7,384.67 L127.0,384.83 L127.3,384.83 L127.6,384.83 L127.9,384.71 L128.2,384.86 L128.5,384.73 L128.8,384.74 L129.1,384.75 L129.5,384.65 L129.8,384.76 L130.1,384.66 L130.4,384.69 L130.7,384.64 L131.0,384.58 L131.3,384.42 L131.6,384.34 L131.9,384.21 L132.2,383.83 L132.5,383.72 L132.8,383.27 L133.1,382.89 L133.4,382.31 L133.7,381.59 L134.0,380.62 L134.3,379.61 L134.6,378.76 L134.9,378.40 L135.3,378.66 L135.6,379.44 L135.9,380.37 L136.2,381.16 L136.5,381.80 L136.8,382.04 L137.1,382.33 L137.4,382.52 L137.7,382.58 L138.0,382.57 L138.3,382.89 L138.6,383.14 L138.9,383.37 L139.2,383.60 L139.5,383.93 L139.8,384.10 L140.1,384.24 L140.4,384.43 L140.8,384.34 L141.1,384.56 L141.4,384.40 L141.7,384.57 L142.0,384.56 L142.3,384.38 L142.6,384.33 L142.9,384.39 L143.2,384.28 L143.5,384.29 L143.8,384.29 L144.1,384.49 L144.4,384.47 L144.7,384.54 L145.0,384.69 L145.3,384.72 L145.6,384.78 L145.9,384.94 L146.3,384.89 L146.6,384.93 L146.9,385.01 L147.2,385.13 L147.5,385.04 L147.8,385.00 L148.1,385.14 L148.4,385.08 L148.7,385.04 L149.0,385.11 L149.3,385.24 L149.6,385.12 L149.9,385.21 L150.2,385.09 L150.5,385.14 L150.8,385.21 L151.1,385.10 L151.4,385.16 L151.8,385.22 L152.1,385.13 L152.4,385.12 L152.7,385.12 L153.0,385.13 L153.3,385.17 L153.6,385.17 L153.9,385.19 L154.2,385.21 L154.5,385.12 L154.8,385.25 L155.1,385.30 L155.4,385.18 L155.7,385.22 L156.0,385.21 L156.3,385.21 L156.6,385.28 L156.9,385.29 L157.3,385.31 L157.6,385.17 L157.9,385.15 L158.2,385.19 L158.5,385.31 L158.8,385.14 L159.1,385.17 L159.4,385.23 L159.7,385.34 L160.0,385.17 L160.3,385.21 L160.6,385.21 L160.9,385.33 L161.2,385.19 L161.5,385.33 L161.8,385.24 L162.1,385.31 L162.4,385.27 L162.7,385.16 L163.1,385.19 L163.4,385.17 L163.7,385.28 L164.0,385.26 L164.3,385.22 L164.6,385.33 L164.9,385.25 L165.2,385.14 L165.5,385.19 L165.8,385.16 L166.1,385.28 L166.4,385.20 L166.7,385.18 L167.0,385.19 L167.3,385.24 L167.6,385.30 L167.9,385.33 L168.2,385.15 L168.6,385.14 L168.9,385.27 L169.2,385.17 L169.5,385.24 L169.8,385.19 L170.1,385.15 L170.4,385.25 L170.7,385.19 L171.0,385.26 L171.3,385.21 L171.6,385.30 L171.9,385.25 L172.2,385.24 L172.5,385.11 L172.8,385.26 L173.1,385.13 L173.4,385.26 L173.7,385.07 L174.1,385.23 L174.4,385.24 L174.7,385.20 L175.0,385.05 L175.3,385.09 L175.6,385.03 L175.9,385.10 L176.2,385.16 L176.5,385.09 L176.8,385.04 L177.1,384.91 L177.4,385.04 L177.7,384.99 L178.0,384.83 L178.3,384.92 L178.6,384.69 L178.9,384.75 L179.2,384.62 L179.6,384.52 L179.9,384.39 L180.2,384.48 L180.5,384.28 L180.8,384.39 L181.1,384.29 L181.4,384.47 L181.7,384.38 L182.0,384.57 L182.3,384.64 L182.6,384.73 L182.9,384.73 L183.2,384.77 L183.5,384.68 L183.8,384.78 L184.1,384.84 L184.4,384.72 L184.7,384.89 L185.1,384.87 L185.4,384.70 L185.7,384.68 L186.0,384.70 L186.3,384.59 L186.6,384.73 L186.9,384.49 L187.2,384.46 L187.5,384.40 L187.8,384.30 L188.1,384.39 L188.4,384.35 L188.7,384.36 L189.0,384.31 L189.3,384.32 L189.6,384.36 L189.9,384.42 L190.2,384.36 L190.6,384.35 L190.9,384.34 L191.2,384.45 L191.5,384.38 L191.8,384.30 L192.1,384.21 L192.4,384.06 L192.7,384.06 L193.0,383.92 L193.3,383.95 L193.6,383.97 L193.9,383.95 L194.2,383.98 L194.5,384.21 L194.8,384.25 L195.1,384.19 L195.4,384.39 L195.7,384.46 L196.0,384.43 L196.4,384.30 L196.7,384.30 L197.0,384.23 L197.3,384.29 L197.6,384.37 L197.9,384.33 L198.2,384.28 L198.5,384.40 L198.8,384.52 L199.1,384.55 L199.4,384.61 L199.7,384.70 L200.0,384.74 L200.3,384.86 L200.6,384.92 L200.9,384.80 L201.2,384.84 L201.5,384.93 L201.9,385.00 L202.2,384.98 L202.5,384.93 L202.8,384.87 L203.1,384.95 L203.4,384.84 L203.7,384.92 L204.0,384.97 L204.3,384.85 L204.6,384.82 L204.9,384.78 L205.2,384.71 L205.5,384.79 L205.8,384.64 L206.1,384.49 L206.4,384.55 L206.7,384.50 L207.0,384.43 L207.4,384.40 L207.7,384.39 L208.0,384.46 L208.3,384.47 L208.6,384.65 L208.9,384.69 L209.2,384.70 L209.5,384.80 L209.8,384.78 L210.1,384.83 L210.4,385.01 L210.7,385.03 L211.0,385.02 L211.3,385.05 L211.6,385.11 L211.9,385.03 L212.2,385.18 L212.5,385.14 L212.9,385.22 L213.2,385.08 L213.5,385.15 L213.8,385.08 L214.1,385.25 L214.4,385.15 L214.7,385.18 L215.0,385.29 L215.3,385.14 L215.6,385.14 L215.9,385.30 L216.2,385.13 L216.5,385.17 L216.8,385.21 L217.1,385.22 L217.4,385.28 L217.7,385.32 L218.0,385.24 L218.4,385.17 L218.7,385.30 L219.0,385.25 L219.3,385.29 L219.6,385.21 L219.9,385.16 L220.2,385.17 L220.5,385.30 L220.8,385.27 L221.1,385.36" fill="none" stroke="#5fc2b4" stroke-width="0.9" stroke-linejoin="round"/><rect x="51.86" y="393.70" width="1.2" height="12" fill="#ee5a60"/><rect x="57.06" y="389.20" width="1.2" height="16.5" fill="#ee5a60"/><rect x="62.25" y="388.30" width="1.2" height="17.4" fill="#ee5a60"/><rect x="87.91" y="399.90" width="1.2" height="5.8" fill="#ee5a60"/><rect x="109.60" y="396.70" width="1.2" height="9" fill="#ee5a60"/><rect x="122.13" y="397.00" width="1.2" height="8.7" fill="#ee5a60"/><rect x="131.60" y="403.20" width="1.2" height="2.5" fill="#ee5a60"/><rect x="134.35" y="399.90" width="1.2" height="5.8" fill="#ee5a60"/><rect x="137.40" y="401.70" width="1.2" height="4" fill="#ee5a60"/><rect x="142.90" y="403.70" width="1.2" height="2" fill="#ee5a60"/><rect x="154.21" y="404.20" width="1.2" height="1.5" fill="#ee5a60"/><rect x="180.17" y="403.50" width="1.2" height="2.2" fill="#ee5a60"/><rect x="187.81" y="404.20" width="1.2" height="1.5" fill="#ee5a60"/><rect x="192.70" y="403.50" width="1.2" height="2.2" fill="#ee5a60"/><rect x="197.28" y="404.20" width="1.2" height="1.5" fill="#ee5a60"/><rect x="206.75" y="403.70" width="1.2" height="2" fill="#ee5a60"/><rect x="54.4" y="266.3" width="6.4" height="122" fill="none" stroke="#222" stroke-width="0.7" stroke-dasharray="1.6,1.1"/><path d="M62.5,273.3 L82,273.3" stroke="#111" stroke-width="0.8"/><path d="M81,271 L86.5,273.3 L81,275.6 Z" fill="#111"/><rect x="88.8" y="246.8" width="56.6" height="45.4" fill="#fff" stroke="#444" stroke-width="1.3"/><path d="M89.0,259.72 L90.0,259.67 L91.0,259.62 L92.0,259.56 L93.0,259.49 L94.0,259.42 L95.0,259.35 L96.0,259.26 L97.0,259.17 L98.0,259.07 L99.0,258.96 L100.0,258.83 L101.0,258.69 L102.0,258.54 L103.0,258.37 L104.0,258.18 L105.0,257.96 L106.0,257.72 L107.0,257.45 L108.0,257.14 L109.0,256.79 L110.0,256.39 L111.0,255.95 L112.0,255.44 L113.0,254.88 L114.0,254.27 L115.0,253.60 L116.0,252.91 L117.0,252.23 L118.0,251.63 L119.0,251.20 L120.0,251.15 L121.0,251.53 L122.0,252.10 L123.0,252.77 L124.0,253.46 L125.0,254.14 L126.0,254.76 L127.0,255.34 L128.0,255.85 L129.0,256.31 L130.0,256.72 L131.0,257.07 L132.0,257.39 L133.0,257.67 L134.0,257.92 L135.0,258.14 L136.0,258.33 L137.0,258.51 L138.0,258.66 L139.0,258.81 L140.0,258.93 L141.0,259.05 L142.0,259.15 L143.0,259.24 L144.0,259.33 L145.0,259.41" fill="none" stroke="#ee7f83" stroke-width="0.8"/><path d="M89.0,269.27 L90.0,269.22 L91.0,269.16 L92.0,269.09 L93.0,269.02 L94.0,268.95 L95.0,268.86 L96.0,268.77 L97.0,268.67 L98.0,268.56 L99.0,268.43 L100.0,268.29 L101.0,268.14 L102.0,267.97 L103.0,267.78 L104.0,267.56 L105.0,267.32 L106.0,267.05 L107.0,266.74 L108.0,266.39 L109.0,265.99 L110.0,265.55 L111.0,265.04 L112.0,264.48 L113.0,263.87 L114.0,263.20 L115.0,262.51 L116.0,261.83 L117.0,261.23 L118.0,260.80 L119.0,260.75 L120.0,261.13 L121.0,261.70 L122.0,262.37 L123.0,263.06 L124.0,263.74 L125.0,264.36 L126.0,264.94 L127.0,265.45 L128.0,265.91 L129.0,266.32 L130.0,266.67 L131.0,266.99 L132.0,267.27 L133.0,267.52 L134.0,267.74 L135.0,267.93 L136.0,268.11 L137.0,268.26 L138.0,268.41 L139.0,268.53 L140.0,268.65 L141.0,268.75 L142.0,268.84 L143.0,268.93 L144.0,269.01 L145.0,269.08" fill="none" stroke="#7d86c4" stroke-width="0.8"/><path d="M89.0,278.86 L90.0,278.81 L91.0,278.75 L92.0,278.68 L93.0,278.61 L94.0,278.53 L95.0,278.44 L96.0,278.35 L97.0,278.25 L98.0,278.13 L99.0,278.01 L100.0,277.86 L101.0,277.71 L102.0,277.53 L103.0,277.34 L104.0,277.12 L105.0,276.87 L106.0,276.59 L107.0,276.27 L108.0,275.92 L109.0,275.51 L110.0,275.05 L111.0,274.54 L112.0,273.96 L113.0,273.34 L114.0,272.66 L115.0,271.97 L116.0,271.30 L117.0,270.73 L118.0,270.35 L119.0,270.40 L120.0,270.83 L121.0,271.43 L122.0,272.11 L123.0,272.80 L124.0,273.47 L125.0,274.08 L126.0,274.64 L127.0,275.15 L128.0,275.59 L129.0,275.99 L130.0,276.34 L131.0,276.65 L132.0,276.92 L133.0,277.16 L134.0,277.38 L135.0,277.57 L136.0,277.74 L137.0,277.89 L138.0,278.03 L139.0,278.16 L140.0,278.27 L141.0,278.37 L142.0,278.46 L143.0,278.55 L144.0,278.62 L145.0,278.69" fill="none" stroke="#4f93c4" stroke-width="0.8"/><path d="M89.0,288.38 L90.0,288.32 L91.0,288.25 L92.0,288.18 L93.0,288.10 L94.0,288.01 L95.0,287.91 L96.0,287.80 L97.0,287.68 L98.0,287.55 L99.0,287.40 L100.0,287.24 L101.0,287.06 L102.0,286.85 L103.0,286.62 L104.0,286.36 L105.0,286.07 L106.0,285.74 L107.0,285.36 L108.0,284.93 L109.0,284.45 L110.0,283.91 L111.0,283.32 L112.0,282.67 L113.0,281.99 L114.0,281.30 L115.0,280.66 L116.0,280.15 L117.0,279.90 L118.0,280.15 L119.0,280.66 L120.0,281.30 L121.0,281.99 L122.0,282.67 L123.0,283.32 L124.0,283.91 L125.0,284.45 L126.0,284.93 L127.0,285.36 L128.0,285.74 L129.0,286.07 L130.0,286.36 L131.0,286.62 L132.0,286.85 L133.0,287.06 L134.0,287.24 L135.0,287.40 L136.0,287.55 L137.0,287.68 L138.0,287.80 L139.0,287.91 L140.0,288.01 L141.0,288.10 L142.0,288.18 L143.0,288.25 L144.0,288.32 L145.0,288.38" fill="none" stroke="#5fc2b4" stroke-width="0.8"/><path d="M118.9,249 L118.9,290" stroke="#333" stroke-width="1" stroke-dasharray="3,1.6"/><rect x="22.4" y="245.7" width="198.4" height="160.0" fill="none" stroke="#222" stroke-width="1"/><path d="M37.80,405.7 L37.80,408.5" stroke="#222" stroke-width="0.8"/><text x="37.80" y="417.80" font-size="10.8" fill="#1a1a1a" text-anchor="middle" font-weight="normal" font-style="normal" >20</text><path d="M68.35,405.7 L68.35,408.5" stroke="#222" stroke-width="0.8"/><text x="68.35" y="417.80" font-size="10.8" fill="#1a1a1a" text-anchor="middle" font-weight="normal" font-style="normal" >30</text><path d="M98.90,405.7 L98.90,408.5" stroke="#222" stroke-width="0.8"/><text x="98.90" y="417.80" font-size="10.8" fill="#1a1a1a" text-anchor="middle" font-weight="normal" font-style="normal" >40</text><path d="M129.45,405.7 L129.45,408.5" stroke="#222" stroke-width="0.8"/><text x="129.45" y="417.80" font-size="10.8" fill="#1a1a1a" text-anchor="middle" font-weight="normal" font-style="normal" >50</text><path d="M160.00,405.7 L160.00,408.5" stroke="#222" stroke-width="0.8"/><text x="160.00" y="417.80" font-size="10.8" fill="#1a1a1a" text-anchor="middle" font-weight="normal" font-style="normal" >60</text><path d="M190.55,405.7 L190.55,408.5" stroke="#222" stroke-width="0.8"/><text x="190.55" y="417.80" font-size="10.8" fill="#1a1a1a" text-anchor="middle" font-weight="normal" font-style="normal" >70</text><path d="M221.10,405.7 L221.10,408.5" stroke="#222" stroke-width="0.8"/><text x="221.10" y="417.80" font-size="10.8" fill="#1a1a1a" text-anchor="middle" font-weight="normal" font-style="normal" >80</text><path d="M53.07,405.7 L53.07,407.3" stroke="#222" stroke-width="0.7"/><path d="M83.62,405.7 L83.62,407.3" stroke="#222" stroke-width="0.7"/><path d="M114.17,405.7 L114.17,407.3" stroke="#222" stroke-width="0.7"/><path d="M144.73,405.7 L144.73,407.3" stroke="#222" stroke-width="0.7"/><path d="M175.27,405.7 L175.27,407.3" stroke="#222" stroke-width="0.7"/><path d="M205.82,405.7 L205.82,407.3" stroke="#222" stroke-width="0.7"/><text x="121.20" y="432.60" font-size="13.4" fill="#1a1a1a" text-anchor="middle" font-weight="normal" font-style="normal" >2 Theta (degree)</text><text transform="translate(14.6,323.5) rotate(-90)" font-size="14.2" text-anchor="middle" fill="#1a1a1a">Intensity (a.u.)</text><text x="218.10" y="300.00" font-size="10.6" fill="#1a1a1a" text-anchor="end" font-weight="normal" font-style="normal" >Al/Rh<tspan font-size="7" dy="2.3">NC</tspan><tspan dy="-2.3">-CdS</tspan></text><text x="218.10" y="327.60" font-size="10.6" fill="#1a1a1a" text-anchor="end" font-weight="normal" font-style="normal" >Rh<tspan font-size="7" dy="2.3">NC</tspan><tspan dy="-2.3">-CdS</tspan></text><text x="218.10" y="354.80" font-size="10.5" fill="#1a1a1a" text-anchor="end" font-weight="normal" font-style="normal" >Al/CdS</text><text x="218.10" y="381.80" font-size="10.5" fill="#1a1a1a" text-anchor="end" font-weight="normal" font-style="normal" >CdS</text><text x="218.10" y="394.60" font-size="9.9" fill="#1a1a1a" text-anchor="end" font-weight="normal" font-style="normal" >JCPDS: 41-1049 Hexagonal CdS</text>
</g>
<g id="p_c">
<clipPath id="clipC"><rect x="230.5" y="244.5" width="183.5" height="91.10000000000002"/></clipPath><g clip-path="url(#clipC)"><rect x="230.5" y="244.5" width="183.5" height="91.10000000000002" fill="#585858"/><path d="M228,277 L263,294.5 L271.8,309 L260,338 L228,338 Z" fill="#484848" filter="url(#blur3)"/><path d="M228,242 L256,242 L290,275 L262,292 L228,276 Z" fill="#5a5a5a" filter="url(#blur2)"/><path d="M286.4,281.4 L306.8,294.5 L327.2,301.8 L344.8,304.8 L360,300.4 L360,338 L258,338 L271.8,309.1 L282,288.7 Z" fill="#6c6c6c" filter="url(#blur2)"/><path d="M384,262 L414,262 L414,300 L358,302 Q372,290 380,274 Z" fill="#626262" filter="url(#blur2)"/><path d="M389,242 L416,242 L416,281.4 L383,280 L386,259.5 Z" fill="#7e7e7e" filter="url(#blur1)"/><path d="M254.3,242 L388,242 L384.2,259.5 L379.8,274.1 Q376,283 371,288.7 Q364,296 356.4,298.9 Q349,301.8 341.8,301.8 Q334,300 327.2,296 L312.6,285.8 L292.2,274.1 L271.8,259.5 Z" fill="#3e3e3e" filter="url(#blur1)"/><path d="M254.3,242 L388,242 L384.2,259.5 L379.8,274.1 Q376,283 371,288.7 Q364,296 356.4,298.9 Q349,301.8 341.8,301.8 Q334,300 327.2,296 L312.6,285.8 L292.2,274.1 L271.8,259.5 Z" fill="url(#fringeC)" opacity="0.45"/><path d="M246,246 L271.8,261.5 L292.2,276 L312.6,288 Q332,302 348,303 Q366,300 377,284" stroke="#a0a0a0" stroke-width="1.1" fill="none" opacity="0.55" filter="url(#blur05)"/><rect x="230.5" y="244.5" width="183.5" height="91.10000000000002" filter="url(#noiseG)" opacity="0.3"/><rect x="358.8" y="280.6" width="55.2" height="55" fill="#141414"/><rect x="358.8" y="280.6" width="55.2" height="55" fill="url(#stripeC)"/></g><rect x="318" y="264.5" width="24.7" height="23" fill="none" stroke="#2ba4e0" stroke-width="1" stroke-dasharray="2.6,1.5"/><path d="M342.7,264.5 L358.8,280.6 M318,287.5 L358.8,335.6" stroke="#2ba4e0" stroke-width="0.8" opacity="0.85"/><g stroke="#1fa4ea" stroke-width="1.9" stroke-linecap="round"><path d="M378.5,322.6 L396.4,300.2"/><path d="M381.9,324.8 L399.2,302.4"/><path d="M369,298.5 L384.7,308.6"/><path d="M393.6,314.2 L412.6,324.8"/></g><rect x="241.5" y="321.8" width="37.5" height="3.8" fill="#fff"/><text x="242.00" y="319.00" font-size="11" fill="#fff" text-anchor="start" font-weight="bold" font-style="normal" >10 nm</text><text x="288.00" y="317.40" font-size="11.2" fill="#1e9be0" text-anchor="start" font-weight="bold" font-style="normal" >CdS (002)</text><text x="288.00" y="330.50" font-size="11.2" fill="#1e9be0" text-anchor="start" font-weight="bold" font-style="normal" ><tspan font-style="italic">d</tspan> = 0.341 nm</text><text x="234.50" y="256.30" font-size="19" fill="#fff" text-anchor="start" font-weight="normal" font-style="normal" >c</text>
</g>
<g id="p_d">
<clipPath id="clipD"><rect x="230.5" y="341" width="183.60000000000002" height="91.39999999999998"/></clipPath><g clip-path="url(#clipD)"><rect x="230.5" y="341" width="183.60000000000002" height="91.39999999999998" fill="#767676"/><path d="M371,338 L418,338 L418,376 L357,376 Z" fill="#828282" filter="url(#blur2)"/><path d="M300,386 L360,380 L360,436 L322,436 Z" fill="#686868" filter="url(#blur3)"/><path d="M293.7,338 L372,338 L365.2,355.5 L356.4,373 L322,436 L234,436 L266,384.7 Z" fill="#525252" filter="url(#blur2)"/><path d="M293.7,338 L372,338 L365.2,355.5 L356.4,373 L322,436 L234,436 L266,384.7 Z" fill="url(#fringeD)" opacity="0.5"/><rect x="230.5" y="341" width="183.60000000000002" height="91.39999999999998" filter="url(#noiseG)" opacity="0.3"/><rect x="356.9" y="377.4" width="57.2" height="55" fill="#161616"/><rect x="356.9" y="377.4" width="57.2" height="55" fill="url(#stripeD)"/></g><rect x="268.4" y="382.3" width="24.9" height="24.6" fill="none" stroke="#fff" stroke-width="1" stroke-dasharray="2.4,1.4"/><path d="M293.3,382.3 L356.9,377.4 M293.3,406.9 L356.9,432.4" stroke="#fff" stroke-width="0.9" stroke-dasharray="2.4,1.4"/><g stroke="#fff" stroke-width="1.5" stroke-linecap="round"><path d="M379.6,399.3 L404.8,411"/><path d="M378,402.7 L403.1,415"/></g><g stroke="#fff" stroke-width="1.1" stroke-linecap="round"><path d="M404.2,385.9 L395.2,400.7"/><path d="M381.3,426.7 L388.7,413"/></g><path d="M393.4,398.6 L394.5,402 L397.6,400.4 Z M386.6,414.6 L389.3,411.8 L390.6,415.6 Z" fill="#fff"/><rect x="241.5" y="415.8" width="37.5" height="6.2" fill="#fff" stroke="#1a1a1a" stroke-width="0.9"/><text x="242.00" y="413.00" font-size="11" fill="#fff" text-anchor="start" font-weight="bold" font-style="normal" >10 nm</text><text x="301.40" y="392.80" font-size="11" fill="#fff" text-anchor="start" font-weight="bold" font-style="normal" >CdS (002)</text><text x="301.40" y="406.40" font-size="11" fill="#fff" text-anchor="start" font-weight="bold" font-style="normal" ><tspan font-style="italic">d</tspan> = 0.330 nm</text><text x="233.50" y="357.50" font-size="20" fill="#fff" text-anchor="start" font-weight="normal" font-style="normal" >d</text>
</g>
<g id="p_e">
<text x="419.30" y="253.30" font-size="20" fill="#000" text-anchor="start" font-weight="normal" font-style="normal" >e</text><rect x="449.4" y="245.9" width="195.80000000000007" height="157.70000000000002" fill="#fff"/><rect x="454.1" y="272.3" width="5.4" height="37" fill="#ee9ccc" opacity="0.5"/><path d="M454.8,272.3 L454.8,309.3" stroke="#d65cb0" stroke-width="0.8" opacity="0.8"/><path d="M456.8,272.3 L456.8,309.3" stroke="#d65cb0" stroke-width="0.8" opacity="0.8"/><path d="M458.8,272.3 L458.8,309.3" stroke="#d65cb0" stroke-width="0.8" opacity="0.8"/><rect x="468.1" y="272.3" width="5.4" height="37" fill="#ee9ccc" opacity="0.5"/><path d="M468.8,272.3 L468.8,309.3" stroke="#d65cb0" stroke-width="0.8" opacity="0.8"/><path d="M470.8,272.3 L470.8,309.3" stroke="#d65cb0" stroke-width="0.8" opacity="0.8"/><path d="M472.8,272.3 L472.8,309.3" stroke="#d65cb0" stroke-width="0.8" opacity="0.8"/><rect x="481.1" y="272.3" width="5.4" height="37" fill="#ee9ccc" opacity="0.5"/><path d="M481.8,272.3 L481.8,309.3" stroke="#d65cb0" stroke-width="0.8" opacity="0.8"/><path d="M483.8,272.3 L483.8,309.3" stroke="#d65cb0" stroke-width="0.8" opacity="0.8"/><path d="M485.8,272.3 L485.8,309.3" stroke="#d65cb0" stroke-width="0.8" opacity="0.8"/><rect x="494.9" y="272.3" width="5.4" height="37" fill="#ee9ccc" opacity="0.5"/><path d="M495.6,272.3 L495.6,309.3" stroke="#d65cb0" stroke-width="0.8" opacity="0.8"/><path d="M497.6,272.3 L497.6,309.3" stroke="#d65cb0" stroke-width="0.8" opacity="0.8"/><path d="M499.6,272.3 L499.6,309.3" stroke="#d65cb0" stroke-width="0.8" opacity="0.8"/><path d="M456.8,276.3 Q456.8,268.8 463.8,269.3 Q470.8,268.8 470.8,276.3" fill="none" stroke="#dc66b8" stroke-width="3.2" opacity="0.85"/><ellipse cx="460.2" cy="266.9" rx="4" ry="1.6" fill="#dcd43c"/><ellipse cx="468.2" cy="267.1" rx="3.6" ry="1.6" fill="#d4cc34"/><ellipse cx="460.6" cy="269.7" rx="3.4" ry="2.2" fill="url(#g_cds)"/><ellipse cx="467.4" cy="269.9" rx="3.3" ry="2.1" fill="url(#g_cds)"/><path d="M483.8,276.3 Q483.8,268.8 490.7,269.3 Q497.6,268.8 497.6,276.3" fill="none" stroke="#dc66b8" stroke-width="3.2" opacity="0.85"/><ellipse cx="487.1" cy="266.9" rx="4" ry="1.6" fill="#dcd43c"/><ellipse cx="495.1" cy="267.1" rx="3.6" ry="1.6" fill="#d4cc34"/><ellipse cx="487.5" cy="269.7" rx="3.4" ry="2.2" fill="url(#g_cds)"/><ellipse cx="494.3" cy="269.9" rx="3.3" ry="2.1" fill="url(#g_cds)"/><ellipse cx="451.2" cy="275.3" rx="2.1" ry="1.7" fill="#e8a030"/><ellipse cx="458.0" cy="275.3" rx="3.5" ry="2.2" fill="url(#g_cds)" opacity="0.95"/><ellipse cx="462.4" cy="283.3" rx="2.1" ry="1.7" fill="#e0cc30"/><ellipse cx="456.0" cy="283.3" rx="3.5" ry="2.2" fill="url(#g_cds)" opacity="0.95"/><ellipse cx="451.2" cy="291.3" rx="2.1" ry="1.7" fill="#e8a030"/><ellipse cx="458.0" cy="291.3" rx="3.5" ry="2.2" fill="url(#g_cds)" opacity="0.95"/><ellipse cx="462.4" cy="298.8" rx="2.1" ry="1.7" fill="#e0cc30"/><ellipse cx="456.0" cy="298.8" rx="3.5" ry="2.2" fill="url(#g_cds)" opacity="0.95"/><ellipse cx="451.2" cy="306.8" rx="2.1" ry="1.7" fill="#e8a030"/><ellipse cx="458.0" cy="306.8" rx="3.5" ry="2.2" fill="url(#g_cds)" opacity="0.95"/><ellipse cx="476.4" cy="275.3" rx="2.1" ry="1.7" fill="#e8a030"/><ellipse cx="471.6" cy="275.3" rx="3.5" ry="2.2" fill="url(#g_cds)" opacity="0.95"/><ellipse cx="465.2" cy="283.3" rx="2.1" ry="1.7" fill="#e0cc30"/><ellipse cx="469.6" cy="283.3" rx="3.5" ry="2.2" fill="url(#g_cds)" opacity="0.95"/><ellipse cx="476.4" cy="291.3" rx="2.1" ry="1.7" fill="#e8a030"/><ellipse cx="471.6" cy="291.3" rx="3.5" ry="2.2" fill="url(#g_cds)" opacity="0.95"/><ellipse cx="465.2" cy="298.8" rx="2.1" ry="1.7" fill="#e0cc30"/><ellipse cx="469.6" cy="298.8" rx="3.5" ry="2.2" fill="url(#g_cds)" opacity="0.95"/><ellipse cx="476.4" cy="306.8" rx="2.1" ry="1.7" fill="#e8a030"/><ellipse cx="471.6" cy="306.8" rx="3.5" ry="2.2" fill="url(#g_cds)" opacity="0.95"/><ellipse cx="478.2" cy="275.3" rx="2.1" ry="1.7" fill="#e8a030"/><ellipse cx="485.0" cy="275.3" rx="3.5" ry="2.2" fill="url(#g_cds)" opacity="0.95"/><ellipse cx="489.4" cy="283.3" rx="2.1" ry="1.7" fill="#e0cc30"/><ellipse cx="483.0" cy="283.3" rx="3.5" ry="2.2" fill="url(#g_cds)" opacity="0.95"/><ellipse cx="478.2" cy="291.3" rx="2.1" ry="1.7" fill="#e8a030"/><ellipse cx="485.0" cy="291.3" rx="3.5" ry="2.2" fill="url(#g_cds)" opacity="0.95"/><ellipse cx="489.4" cy="298.8" rx="2.1" ry="1.7" fill="#e0cc30"/><ellipse cx="483.0" cy="298.8" rx="3.5" ry="2.2" fill="url(#g_cds)" opacity="0.95"/><ellipse cx="478.2" cy="306.8" rx="2.1" ry="1.7" fill="#e8a030"/><ellipse cx="485.0" cy="306.8" rx="3.5" ry="2.2" fill="url(#g_cds)" opacity="0.95"/><ellipse cx="503.2" cy="275.3" rx="2.1" ry="1.7" fill="#e8a030"/><ellipse cx="498.4" cy="275.3" rx="3.5" ry="2.2" fill="url(#g_cds)" opacity="0.95"/><ellipse cx="492.0" cy="283.3" rx="2.1" ry="1.7" fill="#e0cc30"/><ellipse cx="496.4" cy="283.3" rx="3.5" ry="2.2" fill="url(#g_cds)" opacity="0.95"/><ellipse cx="503.2" cy="291.3" rx="2.1" ry="1.7" fill="#e8a030"/><ellipse cx="498.4" cy="291.3" rx="3.5" ry="2.2" fill="url(#g_cds)" opacity="0.95"/><ellipse cx="492.0" cy="298.8" rx="2.1" ry="1.7" fill="#e0cc30"/><ellipse cx="496.4" cy="298.8" rx="3.5" ry="2.2" fill="url(#g_cds)" opacity="0.95"/><ellipse cx="503.2" cy="306.8" rx="2.1" ry="1.7" fill="#e8a030"/><ellipse cx="498.4" cy="306.8" rx="3.5" ry="2.2" fill="url(#g_cds)" opacity="0.95"/><circle cx="461.5" cy="269.6" r="5.1" fill="none" stroke="#2aa8ec" stroke-width="1.35" stroke-dasharray="2.6,1.3"/><rect x="478.7" y="345.7" width="5.4" height="37" fill="#ee9ccc" opacity="0.5"/><path d="M479.4,345.7 L479.4,382.7" stroke="#d65cb0" stroke-width="0.8" opacity="0.8"/><path d="M481.4,345.7 L481.4,382.7" stroke="#d65cb0" stroke-width="0.8" opacity="0.8"/><path d="M483.4,345.7 L483.4,382.7" stroke="#d65cb0" stroke-width="0.8" opacity="0.8"/><rect x="492.7" y="345.7" width="5.4" height="37" fill="#ee9ccc" opacity="0.5"/><path d="M493.4,345.7 L493.4,382.7" stroke="#d65cb0" stroke-width="0.8" opacity="0.8"/><path d="M495.4,345.7 L495.4,382.7" stroke="#d65cb0" stroke-width="0.8" opacity="0.8"/><path d="M497.4,345.7 L497.4,382.7" stroke="#d65cb0" stroke-width="0.8" opacity="0.8"/><rect x="505.7" y="345.7" width="5.4" height="37" fill="#ee9ccc" opacity="0.5"/><path d="M506.4,345.7 L506.4,382.7" stroke="#d65cb0" stroke-width="0.8" opacity="0.8"/><path d="M508.4,345.7 L508.4,382.7" stroke="#d65cb0" stroke-width="0.8" opacity="0.8"/><path d="M510.4,345.7 L510.4,382.7" stroke="#d65cb0" stroke-width="0.8" opacity="0.8"/><rect x="519.5" y="345.7" width="5.4" height="37" fill="#ee9ccc" opacity="0.5"/><path d="M520.2,345.7 L520.2,382.7" stroke="#d65cb0" stroke-width="0.8" opacity="0.8"/><path d="M522.2,345.7 L522.2,382.7" stroke="#d65cb0" stroke-width="0.8" opacity="0.8"/><path d="M524.2,345.7 L524.2,382.7" stroke="#d65cb0" stroke-width="0.8" opacity="0.8"/><path d="M481.4,349.7 Q481.4,342.2 488.4,342.7 Q495.4,342.2 495.4,349.7" fill="none" stroke="#dc66b8" stroke-width="3.2" opacity="0.85"/><ellipse cx="484.8" cy="340.3" rx="4" ry="1.6" fill="#dcd43c"/><ellipse cx="492.8" cy="340.5" rx="3.6" ry="1.6" fill="#d4cc34"/><ellipse cx="485.2" cy="343.1" rx="3.4" ry="2.2" fill="url(#g_cds)"/><ellipse cx="492.0" cy="343.3" rx="3.3" ry="2.1" fill="url(#g_cds)"/><path d="M508.4,349.7 Q508.4,342.2 515.3,342.7 Q522.2,342.2 522.2,349.7" fill="none" stroke="#dc66b8" stroke-width="3.2" opacity="0.85"/><ellipse cx="511.7" cy="340.3" rx="4" ry="1.6" fill="#dcd43c"/><ellipse cx="519.7" cy="340.5" rx="3.6" ry="1.6" fill="#d4cc34"/><ellipse cx="512.1" cy="343.1" rx="3.4" ry="2.2" fill="url(#g_cds)"/><ellipse cx="518.9" cy="343.3" rx="3.3" ry="2.1" fill="url(#g_cds)"/><ellipse cx="475.8" cy="348.7" rx="2.1" ry="1.7" fill="#e8a030"/><ellipse cx="482.6" cy="348.7" rx="3.5" ry="2.2" fill="url(#g_cds)" opacity="0.95"/><ellipse cx="487.0" cy="356.7" rx="2.1" ry="1.7" fill="#e0cc30"/><ellipse cx="480.6" cy="356.7" rx="3.5" ry="2.2" fill="url(#g_cds)" opacity="0.95"/><ellipse cx="475.8" cy="364.7" rx="2.1" ry="1.7" fill="#e8a030"/><ellipse cx="482.6" cy="364.7" rx="3.5" ry="2.2" fill="url(#g_cds)" opacity="0.95"/><ellipse cx="487.0" cy="372.2" rx="2.1" ry="1.7" fill="#e0cc30"/><ellipse cx="480.6" cy="372.2" rx="3.5" ry="2.2" fill="url(#g_cds)" opacity="0.95"/><ellipse cx="475.8" cy="380.2" rx="2.1" ry="1.7" fill="#e8a030"/><ellipse cx="482.6" cy="380.2" rx="3.5" ry="2.2" fill="url(#g_cds)" opacity="0.95"/><ellipse cx="501.0" cy="348.7" rx="2.1" ry="1.7" fill="#e8a030"/><ellipse cx="496.2" cy="348.7" rx="3.5" ry="2.2" fill="url(#g_cds)" opacity="0.95"/><ellipse cx="489.8" cy="356.7" rx="2.1" ry="1.7" fill="#e0cc30"/><ellipse cx="494.2" cy="356.7" rx="3.5" ry="2.2" fill="url(#g_cds)" opacity="0.95"/><ellipse cx="501.0" cy="364.7" rx="2.1" ry="1.7" fill="#e8a030"/><ellipse cx="496.2" cy="364.7" rx="3.5" ry="2.2" fill="url(#g_cds)" opacity="0.95"/><ellipse cx="489.8" cy="372.2" rx="2.1" ry="1.7" fill="#e0cc30"/><ellipse cx="494.2" cy="372.2" rx="3.5" ry="2.2" fill="url(#g_cds)" opacity="0.95"/><ellipse cx="501.0" cy="380.2" rx="2.1" ry="1.7" fill="#e8a030"/><ellipse cx="496.2" cy="380.2" rx="3.5" ry="2.2" fill="url(#g_cds)" opacity="0.95"/><ellipse cx="502.8" cy="348.7" rx="2.1" ry="1.7" fill="#e8a030"/><ellipse cx="509.6" cy="348.7" rx="3.5" ry="2.2" fill="url(#g_cds)" opacity="0.95"/><ellipse cx="514.0" cy="356.7" rx="2.1" ry="1.7" fill="#e0cc30"/><ellipse cx="507.6" cy="356.7" rx="3.5" ry="2.2" fill="url(#g_cds)" opacity="0.95"/><ellipse cx="502.8" cy="364.7" rx="2.1" ry="1.7" fill="#e8a030"/><ellipse cx="509.6" cy="364.7" rx="3.5" ry="2.2" fill="url(#g_cds)" opacity="0.95"/><ellipse cx="514.0" cy="372.2" rx="2.1" ry="1.7" fill="#e0cc30"/><ellipse cx="507.6" cy="372.2" rx="3.5" ry="2.2" fill="url(#g_cds)" opacity="0.95"/><ellipse cx="502.8" cy="380.2" rx="2.1" ry="1.7" fill="#e8a030"/><ellipse cx="509.6" cy="380.2" rx="3.5" ry="2.2" fill="url(#g_cds)" opacity="0.95"/><ellipse cx="527.8" cy="348.7" rx="2.1" ry="1.7" fill="#e8a030"/><ellipse cx="523.0" cy="348.7" rx="3.5" ry="2.2" fill="url(#g_cds)" opacity="0.95"/><ellipse cx="516.6" cy="356.7" rx="2.1" ry="1.7" fill="#e0cc30"/><ellipse cx="521.0" cy="356.7" rx="3.5" ry="2.2" fill="url(#g_cds)" opacity="0.95"/><ellipse cx="527.8" cy="364.7" rx="2.1" ry="1.7" fill="#e8a030"/><ellipse cx="523.0" cy="364.7" rx="3.5" ry="2.2" fill="url(#g_cds)" opacity="0.95"/><ellipse cx="516.6" cy="372.2" rx="2.1" ry="1.7" fill="#e0cc30"/><ellipse cx="521.0" cy="372.2" rx="3.5" ry="2.2" fill="url(#g_cds)" opacity="0.95"/><ellipse cx="527.8" cy="380.2" rx="2.1" ry="1.7" fill="#e8a030"/><ellipse cx="523.0" cy="380.2" rx="3.5" ry="2.2" fill="url(#g_cds)" opacity="0.95"/><circle cx="496.5" cy="350" r="5.1" fill="none" stroke="#2aa8ec" stroke-width="1.35" stroke-dasharray="2.6,1.3"/><rect x="531.3" y="336.7" width="5.4" height="37" fill="#ee9ccc" opacity="0.5"/><path d="M532.0,336.7 L532.0,373.7" stroke="#d65cb0" stroke-width="0.8" opacity="0.8"/><path d="M534.0,336.7 L534.0,373.7" stroke="#d65cb0" stroke-width="0.8" opacity="0.8"/><path d="M536.0,336.7 L536.0,373.7" stroke="#d65cb0" stroke-width="0.8" opacity="0.8"/><rect x="545.3" y="336.7" width="5.4" height="37" fill="#ee9ccc" opacity="0.5"/><path d="M546.0,336.7 L546.0,373.7" stroke="#d65cb0" stroke-width="0.8" opacity="0.8"/><path d="M548.0,336.7 L548.0,373.7" stroke="#d65cb0" stroke-width="0.8" opacity="0.8"/><path d="M550.0,336.7 L550.0,373.7" stroke="#d65cb0" stroke-width="0.8" opacity="0.8"/><rect x="558.3" y="336.7" width="5.4" height="37" fill="#ee9ccc" opacity="0.5"/><path d="M559.0,336.7 L559.0,373.7" stroke="#d65cb0" stroke-width="0.8" opacity="0.8"/><path d="M561.0,336.7 L561.0,373.7" stroke="#d65cb0" stroke-width="0.8" opacity="0.8"/><path d="M563.0,336.7 L563.0,373.7" stroke="#d65cb0" stroke-width="0.8" opacity="0.8"/><rect x="572.1" y="336.7" width="5.4" height="37" fill="#ee9ccc" opacity="0.5"/><path d="M572.8,336.7 L572.8,373.7" stroke="#d65cb0" stroke-width="0.8" opacity="0.8"/><path d="M574.8,336.7 L574.8,373.7" stroke="#d65cb0" stroke-width="0.8" opacity="0.8"/><path d="M576.8,336.7 L576.8,373.7" stroke="#d65cb0" stroke-width="0.8" opacity="0.8"/><path d="M534.0,340.7 Q534.0,333.2 541.0,333.7 Q548.0,333.2 548.0,340.7" fill="none" stroke="#dc66b8" stroke-width="3.2" opacity="0.85"/><ellipse cx="537.4" cy="331.3" rx="4" ry="1.6" fill="#dcd43c"/><ellipse cx="545.4" cy="331.5" rx="3.6" ry="1.6" fill="#d4cc34"/><ellipse cx="537.8" cy="334.1" rx="3.4" ry="2.2" fill="url(#g_cds)"/><ellipse cx="544.6" cy="334.3" rx="3.3" ry="2.1" fill="url(#g_cds)"/><path d="M561.0,340.7 Q561.0,333.2 567.9,333.7 Q574.8,333.2 574.8,340.7" fill="none" stroke="#dc66b8" stroke-width="3.2" opacity="0.85"/><ellipse cx="564.3" cy="331.3" rx="4" ry="1.6" fill="#dcd43c"/><ellipse cx="572.3" cy="331.5" rx="3.6" ry="1.6" fill="#d4cc34"/><ellipse cx="564.7" cy="334.1" rx="3.4" ry="2.2" fill="url(#g_cds)"/><ellipse cx="571.5" cy="334.3" rx="3.3" ry="2.1" fill="url(#g_cds)"/><ellipse cx="528.4" cy="339.7" rx="2.1" ry="1.7" fill="#e8a030"/><ellipse cx="535.2" cy="339.7" rx="3.5" ry="2.2" fill="url(#g_cds)" opacity="0.95"/><ellipse cx="539.6" cy="347.7" rx="2.1" ry="1.7" fill="#e0cc30"/><ellipse cx="533.2" cy="347.7" rx="3.5" ry="2.2" fill="url(#g_cds)" opacity="0.95"/><ellipse cx="528.4" cy="355.7" rx="2.1" ry="1.7" fill="#e8a030"/><ellipse cx="535.2" cy="355.7" rx="3.5" ry="2.2" fill="url(#g_cds)" opacity="0.95"/><ellipse cx="539.6" cy="363.2" rx="2.1" ry="1.7" fill="#e0cc30"/><ellipse cx="533.2" cy="363.2" rx="3.5" ry="2.2" fill="url(#g_cds)" opacity="0.95"/><ellipse cx="528.4" cy="371.2" rx="2.1" ry="1.7" fill="#e8a030"/><ellipse cx="535.2" cy="371.2" rx="3.5" ry="2.2" fill="url(#g_cds)" opacity="0.95"/><ellipse cx="553.6" cy="339.7" rx="2.1" ry="1.7" fill="#e8a030"/><ellipse cx="548.8" cy="339.7" rx="3.5" ry="2.2" fill="url(#g_cds)" opacity="0.95"/><ellipse cx="542.4" cy="347.7" rx="2.1" ry="1.7" fill="#e0cc30"/><ellipse cx="546.8" cy="347.7" rx="3.5" ry="2.2" fill="url(#g_cds)" opacity="0.95"/><ellipse cx="553.6" cy="355.7" rx="2.1" ry="1.7" fill="#e8a030"/><ellipse cx="548.8" cy="355.7" rx="3.5" ry="2.2" fill="url(#g_cds)" opacity="0.95"/><ellipse cx="542.4" cy="363.2" rx="2.1" ry="1.7" fill="#e0cc30"/><ellipse cx="546.8" cy="363.2" rx="3.5" ry="2.2" fill="url(#g_cds)" opacity="0.95"/><ellipse cx="553.6" cy="371.2" rx="2.1" ry="1.7" fill="#e8a030"/><ellipse cx="548.8" cy="371.2" rx="3.5" ry="2.2" fill="url(#g_cds)" opacity="0.95"/><ellipse cx="555.4" cy="339.7" rx="2.1" ry="1.7" fill="#e8a030"/><ellipse cx="562.2" cy="339.7" rx="3.5" ry="2.2" fill="url(#g_cds)" opacity="0.95"/><ellipse cx="566.6" cy="347.7" rx="2.1" ry="1.7" fill="#e0cc30"/><ellipse cx="560.2" cy="347.7" rx="3.5" ry="2.2" fill="url(#g_cds)" opacity="0.95"/><ellipse cx="555.4" cy="355.7" rx="2.1" ry="1.7" fill="#e8a030"/><ellipse cx="562.2" cy="355.7" rx="3.5" ry="2.2" fill="url(#g_cds)" opacity="0.95"/><ellipse cx="566.6" cy="363.2" rx="2.1" ry="1.7" fill="#e0cc30"/><ellipse cx="560.2" cy="363.2" rx="3.5" ry="2.2" fill="url(#g_cds)" opacity="0.95"/><ellipse cx="555.4" cy="371.2" rx="2.1" ry="1.7" fill="#e8a030"/><ellipse cx="562.2" cy="371.2" rx="3.5" ry="2.2" fill="url(#g_cds)" opacity="0.95"/><ellipse cx="580.4" cy="339.7" rx="2.1" ry="1.7" fill="#e8a030"/><ellipse cx="575.6" cy="339.7" rx="3.5" ry="2.2" fill="url(#g_cds)" opacity="0.95"/><ellipse cx="569.2" cy="347.7" rx="2.1" ry="1.7" fill="#e0cc30"/><ellipse cx="573.6" cy="347.7" rx="3.5" ry="2.2" fill="url(#g_cds)" opacity="0.95"/><ellipse cx="580.4" cy="355.7" rx="2.1" ry="1.7" fill="#e8a030"/><ellipse cx="575.6" cy="355.7" rx="3.5" ry="2.2" fill="url(#g_cds)" opacity="0.95"/><ellipse cx="569.2" cy="363.2" rx="2.1" ry="1.7" fill="#e0cc30"/><ellipse cx="573.6" cy="363.2" rx="3.5" ry="2.2" fill="url(#g_cds)" opacity="0.95"/><ellipse cx="580.4" cy="371.2" rx="2.1" ry="1.7" fill="#e8a030"/><ellipse cx="575.6" cy="371.2" rx="3.5" ry="2.2" fill="url(#g_cds)" opacity="0.95"/><circle cx="537.6" cy="347.3" r="5.1" fill="none" stroke="#2aa8ec" stroke-width="1.35" stroke-dasharray="2.6,1.3"/><rect x="567.3" y="279.4" width="5.4" height="37" fill="#ee9ccc" opacity="0.5"/><path d="M568.0,279.4 L568.0,316.4" stroke="#d65cb0" stroke-width="0.8" opacity="0.8"/><path d="M570.0,279.4 L570.0,316.4" stroke="#d65cb0" stroke-width="0.8" opacity="0.8"/><path d="M572.0,279.4 L572.0,316.4" stroke="#d65cb0" stroke-width="0.8" opacity="0.8"/><rect x="581.3" y="279.4" width="5.4" height="37" fill="#ee9ccc" opacity="0.5"/><path d="M582.0,279.4 L582.0,316.4" stroke="#d65cb0" stroke-width="0.8" opacity="0.8"/><path d="M584.0,279.4 L584.0,316.4" stroke="#d65cb0" stroke-width="0.8" opacity="0.8"/><path d="M586.0,279.4 L586.0,316.4" stroke="#d65cb0" stroke-width="0.8" opacity="0.8"/><rect x="594.3" y="279.4" width="5.4" height="37" fill="#ee9ccc" opacity="0.5"/><path d="M595.0,279.4 L595.0,316.4" stroke="#d65cb0" stroke-width="0.8" opacity="0.8"/><path d="M597.0,279.4 L597.0,316.4" stroke="#d65cb0" stroke-width="0.8" opacity="0.8"/><path d="M599.0,279.4 L599.0,316.4" stroke="#d65cb0" stroke-width="0.8" opacity="0.8"/><rect x="608.1" y="279.4" width="5.4" height="37" fill="#ee9ccc" opacity="0.5"/><path d="M608.8,279.4 L608.8,316.4" stroke="#d65cb0" stroke-width="0.8" opacity="0.8"/><path d="M610.8,279.4 L610.8,316.4" stroke="#d65cb0" stroke-width="0.8" opacity="0.8"/><path d="M612.8,279.4 L612.8,316.4" stroke="#d65cb0" stroke-width="0.8" opacity="0.8"/><path d="M570.0,283.4 Q570.0,275.9 577.0,276.4 Q584.0,275.9 584.0,283.4" fill="none" stroke="#dc66b8" stroke-width="3.2" opacity="0.85"/><ellipse cx="573.4" cy="274.0" rx="4" ry="1.6" fill="#dcd43c"/><ellipse cx="581.4" cy="274.2" rx="3.6" ry="1.6" fill="#d4cc34"/><ellipse cx="573.8" cy="276.8" rx="3.4" ry="2.2" fill="url(#g_cds)"/><ellipse cx="580.6" cy="277.0" rx="3.3" ry="2.1" fill="url(#g_cds)"/><path d="M597.0,283.4 Q597.0,275.9 603.9,276.4 Q610.8,275.9 610.8,283.4" fill="none" stroke="#dc66b8" stroke-width="3.2" opacity="0.85"/><ellipse cx="600.3" cy="274.0" rx="4" ry="1.6" fill="#dcd43c"/><ellipse cx="608.3" cy="274.2" rx="3.6" ry="1.6" fill="#d4cc34"/><ellipse cx="600.7" cy="276.8" rx="3.4" ry="2.2" fill="url(#g_cds)"/><ellipse cx="607.5" cy="277.0" rx="3.3" ry="2.1" fill="url(#g_cds)"/><ellipse cx="564.4" cy="282.4" rx="2.1" ry="1.7" fill="#e8a030"/><ellipse cx="571.2" cy="282.4" rx="3.5" ry="2.2" fill="url(#g_cds)" opacity="0.95"/><ellipse cx="575.6" cy="290.4" rx="2.1" ry="1.7" fill="#e0cc30"/><ellipse cx="569.2" cy="290.4" rx="3.5" ry="2.2" fill="url(#g_cds)" opacity="0.95"/><ellipse cx="564.4" cy="298.4" rx="2.1" ry="1.7" fill="#e8a030"/><ellipse cx="571.2" cy="298.4" rx="3.5" ry="2.2" fill="url(#g_cds)" opacity="0.95"/><ellipse cx="575.6" cy="305.9" rx="2.1" ry="1.7" fill="#e0cc30"/><ellipse cx="569.2" cy="305.9" rx="3.5" ry="2.2" fill="url(#g_cds)" opacity="0.95"/><ellipse cx="564.4" cy="313.9" rx="2.1" ry="1.7" fill="#e8a030"/><ellipse cx="571.2" cy="313.9" rx="3.5" ry="2.2" fill="url(#g_cds)" opacity="0.95"/><ellipse cx="589.6" cy="282.4" rx="2.1" ry="1.7" fill="#e8a030"/><ellipse cx="584.8" cy="282.4" rx="3.5" ry="2.2" fill="url(#g_cds)" opacity="0.95"/><ellipse cx="578.4" cy="290.4" rx="2.1" ry="1.7" fill="#e0cc30"/><ellipse cx="582.8" cy="290.4" rx="3.5" ry="2.2" fill="url(#g_cds)" opacity="0.95"/><ellipse cx="589.6" cy="298.4" rx="2.1" ry="1.7" fill="#e8a030"/><ellipse cx="584.8" cy="298.4" rx="3.5" ry="2.2" fill="url(#g_cds)" opacity="0.95"/><ellipse cx="578.4" cy="305.9" rx="2.1" ry="1.7" fill="#e0cc30"/><ellipse cx="582.8" cy="305.9" rx="3.5" ry="2.2" fill="url(#g_cds)" opacity="0.95"/><ellipse cx="589.6" cy="313.9" rx="2.1" ry="1.7" fill="#e8a030"/><ellipse cx="584.8" cy="313.9" rx="3.5" ry="2.2" fill="url(#g_cds)" opacity="0.95"/><ellipse cx="591.4" cy="282.4" rx="2.1" ry="1.7" fill="#e8a030"/><ellipse cx="598.2" cy="282.4" rx="3.5" ry="2.2" fill="url(#g_cds)" opacity="0.95"/><ellipse cx="602.6" cy="290.4" rx="2.1" ry="1.7" fill="#e0cc30"/><ellipse cx="596.2" cy="290.4" rx="3.5" ry="2.2" fill="url(#g_cds)" opacity="0.95"/><ellipse cx="591.4" cy="298.4" rx="2.1" ry="1.7" fill="#e8a030"/><ellipse cx="598.2" cy="298.4" rx="3.5" ry="2.2" fill="url(#g_cds)" opacity="0.95"/><ellipse cx="602.6" cy="305.9" rx="2.1" ry="1.7" fill="#e0cc30"/><ellipse cx="596.2" cy="305.9" rx="3.5" ry="2.2" fill="url(#g_cds)" opacity="0.95"/><ellipse cx="591.4" cy="313.9" rx="2.1" ry="1.7" fill="#e8a030"/><ellipse cx="598.2" cy="313.9" rx="3.5" ry="2.2" fill="url(#g_cds)" opacity="0.95"/><ellipse cx="616.4" cy="282.4" rx="2.1" ry="1.7" fill="#e8a030"/><ellipse cx="611.6" cy="282.4" rx="3.5" ry="2.2" fill="url(#g_cds)" opacity="0.95"/><ellipse cx="605.2" cy="290.4" rx="2.1" ry="1.7" fill="#e0cc30"/><ellipse cx="609.6" cy="290.4" rx="3.5" ry="2.2" fill="url(#g_cds)" opacity="0.95"/><ellipse cx="616.4" cy="298.4" rx="2.1" ry="1.7" fill="#e8a030"/><ellipse cx="611.6" cy="298.4" rx="3.5" ry="2.2" fill="url(#g_cds)" opacity="0.95"/><ellipse cx="605.2" cy="305.9" rx="2.1" ry="1.7" fill="#e0cc30"/><ellipse cx="609.6" cy="305.9" rx="3.5" ry="2.2" fill="url(#g_cds)" opacity="0.95"/><ellipse cx="616.4" cy="313.9" rx="2.1" ry="1.7" fill="#e8a030"/><ellipse cx="611.6" cy="313.9" rx="3.5" ry="2.2" fill="url(#g_cds)" opacity="0.95"/><circle cx="584.8" cy="298.7" r="5.1" fill="none" stroke="#2aa8ec" stroke-width="1.35" stroke-dasharray="2.6,1.3"/><rect x="594.1" y="335.2" width="5.4" height="37" fill="#ee9ccc" opacity="0.5"/><path d="M594.8,335.2 L594.8,372.2" stroke="#d65cb0" stroke-width="0.8" opacity="0.8"/><path d="M596.8,335.2 L596.8,372.2" stroke="#d65cb0" stroke-width="0.8" opacity="0.8"/><path d="M598.8,335.2 L598.8,372.2" stroke="#d65cb0" stroke-width="0.8" opacity="0.8"/><rect x="608.1" y="335.2" width="5.4" height="37" fill="#ee9ccc" opacity="0.5"/><path d="M608.8,335.2 L608.8,372.2" stroke="#d65cb0" stroke-width="0.8" opacity="0.8"/><path d="M610.8,335.2 L610.8,372.2" stroke="#d65cb0" stroke-width="0.8" opacity="0.8"/><path d="M612.8,335.2 L612.8,372.2" stroke="#d65cb0" stroke-width="0.8" opacity="0.8"/><rect x="621.1" y="335.2" width="5.4" height="37" fill="#ee9ccc" opacity="0.5"/><path d="M621.8,335.2 L621.8,372.2" stroke="#d65cb0" stroke-width="0.8" opacity="0.8"/><path d="M623.8,335.2 L623.8,372.2" stroke="#d65cb0" stroke-width="0.8" opacity="0.8"/><path d="M625.8,335.2 L625.8,372.2" stroke="#d65cb0" stroke-width="0.8" opacity="0.8"/><rect x="634.9" y="335.2" width="5.4" height="37" fill="#ee9ccc" opacity="0.5"/><path d="M635.6,335.2 L635.6,372.2" stroke="#d65cb0" stroke-width="0.8" opacity="0.8"/><path d="M637.6,335.2 L637.6,372.2" stroke="#d65cb0" stroke-width="0.8" opacity="0.8"/><path d="M639.6,335.2 L639.6,372.2" stroke="#d65cb0" stroke-width="0.8" opacity="0.8"/><path d="M596.8,339.2 Q596.8,331.7 603.8,332.2 Q610.8,331.7 610.8,339.2" fill="none" stroke="#dc66b8" stroke-width="3.2" opacity="0.85"/><ellipse cx="600.2" cy="329.8" rx="4" ry="1.6" fill="#dcd43c"/><ellipse cx="608.2" cy="330.0" rx="3.6" ry="1.6" fill="#d4cc34"/><ellipse cx="600.6" cy="332.6" rx="3.4" ry="2.2" fill="url(#g_cds)"/><ellipse cx="607.4" cy="332.8" rx="3.3" ry="2.1" fill="url(#g_cds)"/><path d="M623.8,339.2 Q623.8,331.7 630.7,332.2 Q637.6,331.7 637.6,339.2" fill="none" stroke="#dc66b8" stroke-width="3.2" opacity="0.85"/><ellipse cx="627.1" cy="329.8" rx="4" ry="1.6" fill="#dcd43c"/><ellipse cx="635.1" cy="330.0" rx="3.6" ry="1.6" fill="#d4cc34"/><ellipse cx="627.5" cy="332.6" rx="3.4" ry="2.2" fill="url(#g_cds)"/><ellipse cx="634.3" cy="332.8" rx="3.3" ry="2.1" fill="url(#g_cds)"/><ellipse cx="591.2" cy="338.2" rx="2.1" ry="1.7" fill="#e8a030"/><ellipse cx="598.0" cy="338.2" rx="3.5" ry="2.2" fill="url(#g_cds)" opacity="0.95"/><ellipse cx="602.4" cy="346.2" rx="2.1" ry="1.7" fill="#e0cc30"/><ellipse cx="596.0" cy="346.2" rx="3.5" ry="2.2" fill="url(#g_cds)" opacity="0.95"/><ellipse cx="591.2" cy="354.2" rx="2.1" ry="1.7" fill="#e8a030"/><ellipse cx="598.0" cy="354.2" rx="3.5" ry="2.2" fill="url(#g_cds)" opacity="0.95"/><ellipse cx="602.4" cy="361.7" rx="2.1" ry="1.7" fill="#e0cc30"/><ellipse cx="596.0" cy="361.7" rx="3.5" ry="2.2" fill="url(#g_cds)" opacity="0.95"/><ellipse cx="591.2" cy="369.7" rx="2.1" ry="1.7" fill="#e8a030"/><ellipse cx="598.0" cy="369.7" rx="3.5" ry="2.2" fill="url(#g_cds)" opacity="0.95"/><ellipse cx="616.4" cy="338.2" rx="2.1" ry="1.7" fill="#e8a030"/><ellipse cx="611.6" cy="338.2" rx="3.5" ry="2.2" fill="url(#g_cds)" opacity="0.95"/><ellipse cx="605.2" cy="346.2" rx="2.1" ry="1.7" fill="#e0cc30"/><ellipse cx="609.6" cy="346.2" rx="3.5" ry="2.2" fill="url(#g_cds)" opacity="0.95"/><ellipse cx="616.4" cy="354.2" rx="2.1" ry="1.7" fill="#e8a030"/><ellipse cx="611.6" cy="354.2" rx="3.5" ry="2.2" fill="url(#g_cds)" opacity="0.95"/><ellipse cx="605.2" cy="361.7" rx="2.1" ry="1.7" fill="#e0cc30"/><ellipse cx="609.6" cy="361.7" rx="3.5" ry="2.2" fill="url(#g_cds)" opacity="0.95"/><ellipse cx="616.4" cy="369.7" rx="2.1" ry="1.7" fill="#e8a030"/><ellipse cx="611.6" cy="369.7" rx="3.5" ry="2.2" fill="url(#g_cds)" opacity="0.95"/><ellipse cx="618.2" cy="338.2" rx="2.1" ry="1.7" fill="#e8a030"/><ellipse cx="625.0" cy="338.2" rx="3.5" ry="2.2" fill="url(#g_cds)" opacity="0.95"/><ellipse cx="629.4" cy="346.2" rx="2.1" ry="1.7" fill="#e0cc30"/><ellipse cx="623.0" cy="346.2" rx="3.5" ry="2.2" fill="url(#g_cds)" opacity="0.95"/><ellipse cx="618.2" cy="354.2" rx="2.1" ry="1.7" fill="#e8a030"/><ellipse cx="625.0" cy="354.2" rx="3.5" ry="2.2" fill="url(#g_cds)" opacity="0.95"/><ellipse cx="629.4" cy="361.7" rx="2.1" ry="1.7" fill="#e0cc30"/><ellipse cx="623.0" cy="361.7" rx="3.5" ry="2.2" fill="url(#g_cds)" opacity="0.95"/><ellipse cx="618.2" cy="369.7" rx="2.1" ry="1.7" fill="#e8a030"/><ellipse cx="625.0" cy="369.7" rx="3.5" ry="2.2" fill="url(#g_cds)" opacity="0.95"/><ellipse cx="643.2" cy="338.2" rx="2.1" ry="1.7" fill="#e8a030"/><ellipse cx="638.4" cy="338.2" rx="3.5" ry="2.2" fill="url(#g_cds)" opacity="0.95"/><ellipse cx="632.0" cy="346.2" rx="2.1" ry="1.7" fill="#e0cc30"/><ellipse cx="636.4" cy="346.2" rx="3.5" ry="2.2" fill="url(#g_cds)" opacity="0.95"/><ellipse cx="643.2" cy="354.2" rx="2.1" ry="1.7" fill="#e8a030"/><ellipse cx="638.4" cy="354.2" rx="3.5" ry="2.2" fill="url(#g_cds)" opacity="0.95"/><ellipse cx="632.0" cy="361.7" rx="2.1" ry="1.7" fill="#e0cc30"/><ellipse cx="636.4" cy="361.7" rx="3.5" ry="2.2" fill="url(#g_cds)" opacity="0.95"/><ellipse cx="643.2" cy="369.7" rx="2.1" ry="1.7" fill="#e8a030"/><ellipse cx="638.4" cy="369.7" rx="3.5" ry="2.2" fill="url(#g_cds)" opacity="0.95"/><circle cx="600.3" cy="361.2" r="5.1" fill="none" stroke="#2aa8ec" stroke-width="1.35" stroke-dasharray="2.6,1.3"/><path d="M449.4,385.8 L645.2,385.8" stroke="#222" stroke-width="1" stroke-dasharray="4.6,2.6"/><path d="M468.7,403.6 L468.7,317.55" stroke="#f39aa2" stroke-width="2"/><circle cx="468.70" cy="317.55" r="3.10" fill="url(#g_stem)" /><path d="M508.2,403.6 L508.2,394.55" stroke="#f39aa2" stroke-width="2"/><circle cx="508.20" cy="394.55" r="3.10" fill="url(#g_stem)" /><path d="M547.3,403.6 L547.3,387.55" stroke="#f39aa2" stroke-width="2"/><circle cx="547.30" cy="387.55" r="3.10" fill="url(#g_stem)" /><path d="M586.5,403.6 L586.5,378.8" stroke="#f39aa2" stroke-width="2"/><circle cx="586.50" cy="378.80" r="3.10" fill="url(#g_stem)" /><path d="M625.3,403.6 L625.3,385.8" stroke="#f39aa2" stroke-width="2"/><circle cx="625.30" cy="385.80" r="3.10" fill="url(#g_stem)" /><rect x="449.4" y="245.9" width="195.80000000000007" height="157.70000000000002" fill="none" stroke="#222" stroke-width="1"/><path d="M468.7,403.6 L468.7,406.40000000000003" stroke="#222" stroke-width="0.8"/><text x="468.70" y="416.50" font-size="10.6" fill="#1a1a1a" text-anchor="middle" font-weight="normal" font-style="normal" >1</text><path d="M508.2,403.6 L508.2,406.40000000000003" stroke="#222" stroke-width="0.8"/><text x="508.20" y="416.50" font-size="10.6" fill="#1a1a1a" text-anchor="middle" font-weight="normal" font-style="normal" >2</text><path d="M547.3,403.6 L547.3,406.40000000000003" stroke="#222" stroke-width="0.8"/><text x="547.30" y="416.50" font-size="10.6" fill="#1a1a1a" text-anchor="middle" font-weight="normal" font-style="normal" >3</text><path d="M586.5,403.6 L586.5,406.40000000000003" stroke="#222" stroke-width="0.8"/><text x="586.50" y="416.50" font-size="10.6" fill="#1a1a1a" text-anchor="middle" font-weight="normal" font-style="normal" >4</text><path d="M625.3,403.6 L625.3,406.40000000000003" stroke="#222" stroke-width="0.8"/><text x="625.30" y="416.50" font-size="10.6" fill="#1a1a1a" text-anchor="middle" font-weight="normal" font-style="normal" >5</text><path d="M449.4,385.8 L446.59999999999997,385.8" stroke="#222" stroke-width="0.8"/><text x="444.60" y="389.30" font-size="10.6" fill="#1a1a1a" text-anchor="end" font-weight="normal" font-style="normal" >0.0</text><path d="M449.4,350.8 L446.59999999999997,350.8" stroke="#222" stroke-width="0.8"/><text x="444.60" y="354.30" font-size="10.6" fill="#1a1a1a" text-anchor="end" font-weight="normal" font-style="normal" >0.2</text><path d="M449.4,315.8 L446.59999999999997,315.8" stroke="#222" stroke-width="0.8"/><text x="444.60" y="319.30" font-size="10.6" fill="#1a1a1a" text-anchor="end" font-weight="normal" font-style="normal" >0.4</text><path d="M449.4,280.8 L446.59999999999997,280.8" stroke="#222" stroke-width="0.8"/><text x="444.60" y="284.30" font-size="10.6" fill="#1a1a1a" text-anchor="end" font-weight="normal" font-style="normal" >0.6</text><path d="M449.4,245.8 L446.59999999999997,245.8" stroke="#222" stroke-width="0.8"/><text x="444.60" y="249.30" font-size="10.6" fill="#1a1a1a" text-anchor="end" font-weight="normal" font-style="normal" >0.8</text><path d="M449.4,403.3 L447.79999999999995,403.3" stroke="#222" stroke-width="0.7"/><path d="M449.4,368.3 L447.79999999999995,368.3" stroke="#222" stroke-width="0.7"/><path d="M449.4,333.3 L447.79999999999995,333.3" stroke="#222" stroke-width="0.7"/><path d="M449.4,298.3 L447.79999999999995,298.3" stroke="#222" stroke-width="0.7"/><path d="M449.4,263.3 L447.79999999999995,263.3" stroke="#222" stroke-width="0.7"/><text x="547.00" y="430.20" font-size="13.3" fill="#1a1a1a" text-anchor="middle" font-weight="normal" font-style="normal" >Atomic layer of Al doping</text><text transform="translate(427.2,324.5) rotate(-90)" font-size="13.7" text-anchor="middle" fill="#1a1a1a">Energy (eV)</text><text x="458.60" y="260.60" font-size="10.8" fill="#1a1a1a" text-anchor="start" font-weight="normal" font-style="normal" >Layer 1</text><text x="484.00" y="334.80" font-size="10.8" fill="#1a1a1a" text-anchor="start" font-weight="normal" font-style="normal" >Layer 2</text><text x="535.70" y="326.80" font-size="10.8" fill="#1a1a1a" text-anchor="start" font-weight="normal" font-style="normal" >Layer 3</text><text x="574.00" y="270.50" font-size="10.8" fill="#1a1a1a" text-anchor="start" font-weight="normal" font-style="normal" >Layer 4</text><text x="605.40" y="325.70" font-size="10.8" fill="#1a1a1a" text-anchor="start" font-weight="normal" font-style="normal" >Layer 5</text><circle cx="574.30" cy="254.60" r="4.20" fill="url(#g_cd)" /><text x="581.60" y="258.20" font-size="10.7" fill="#1a1a1a" text-anchor="start" font-weight="normal" font-style="normal" >Cd</text><circle cx="602.60" cy="254.60" r="3.80" fill="url(#g_al)" /><text x="610.20" y="258.20" font-size="10.7" fill="#1a1a1a" text-anchor="start" font-weight="normal" font-style="normal" >Al</text><circle cx="629.20" cy="254.80" r="3.50" fill="url(#g_s)" /><text x="635.50" y="258.20" font-size="10.7" fill="#1a1a1a" text-anchor="start" font-weight="normal" font-style="normal" >S</text>
</g>
<g id="p_f">
<clipPath id="clipf1"><rect x="16.2" y="440.3" width="87.7" height="87.6"/></clipPath><g clip-path="url(#clipf1)"><rect x="16.2" y="440.3" width="87.7" height="87.6" fill="#060606"/><rect x="16.2" y="440.3" width="87.7" height="87.6" filter="url(#noiseCy)" opacity="0.14"/><path d="M36.7,451.6 L74.3,515.0 L81.5,510.7 L43.9,447.3 Z" fill="#26c8ca" stroke="#26c8ca" stroke-width="4" stroke-linejoin="round" opacity="0.95" filter="url(#blur08)"/><clipPath id="cliprf1"><path d="M34.0,450.9 L73.6,517.8 L84.2,511.4 L44.6,444.5 Z"/></clipPath><g clip-path="url(#cliprf1)"><rect x="16.2" y="440.3" width="87.7" height="87.6" filter="url(#noiseDark)" opacity="0.12"/></g></g><text x="101.60" y="525.50" font-size="15" fill="#22c2c8" text-anchor="end" font-weight="normal" font-style="normal" >Cd</text><path d="M31.6,440.3 L38.3,440.3 L37.5,441.6 L32.2,441.4 Z" fill="#26c8ca"/><clipPath id="clipf2"><rect x="109.2" y="440.3" width="88.7" height="87.6"/></clipPath><g clip-path="url(#clipf2)"><rect x="109.2" y="440.3" width="88.7" height="87.6" fill="#060606"/><rect x="109.2" y="440.3" width="88.7" height="87.6" filter="url(#noiseYe)" opacity="0.2"/><path d="M130.1,452.8 L167.9,516.5 L174.8,512.4 L137.0,448.7 Z" fill="#c8c822" stroke="#c8c822" stroke-width="4" stroke-linejoin="round" opacity="0.92" filter="url(#blur08)"/><clipPath id="cliprf2"><path d="M127.3,452.1 L167.2,519.3 L177.6,513.1 L137.7,445.9 Z"/></clipPath><g clip-path="url(#cliprf2)"><rect x="109.2" y="440.3" width="88.7" height="87.6" filter="url(#noiseDark)" opacity="0.15"/></g></g><text x="195.20" y="525.50" font-size="15" fill="#cfcb24" text-anchor="end" font-weight="normal" font-style="normal" >S</text><path d="M125.5,440.3 L131,440.3 L130,441.8 Z" fill="#c8c822"/><clipPath id="clipf3"><rect x="16.2" y="532.9" width="87.7" height="87.6"/></clipPath><g clip-path="url(#clipf3)"><rect x="16.2" y="532.9" width="87.7" height="87.6" fill="#060606"/><rect x="16.2" y="532.9" width="87.7" height="87.6" filter="url(#noiseRe)" opacity="0.12"/><path d="M39.5,546.1 L71.6,605.5 L78.2,602.0 L46.1,542.6 Z" fill="#b01414" stroke="#b01414" stroke-width="4" stroke-linejoin="round" opacity="0.2" filter="url(#blur08)"/><clipPath id="cliprf3"><path d="M36.8,545.3 L70.7,608.2 L80.9,602.8 L47.0,539.9 Z"/></clipPath><g clip-path="url(#cliprf3)" filter="url(#blur05)"><rect x="16.2" y="532.9" width="87.7" height="87.6" filter="url(#noiseReD)" opacity="0.36"/></g></g><text x="102.60" y="618.10" font-size="15" fill="#c41a1a" text-anchor="end" font-weight="normal" font-style="normal" >Rh</text><clipPath id="clipf4"><rect x="109.2" y="532.9" width="88.7" height="87.6"/></clipPath><g clip-path="url(#clipf4)"><rect x="109.2" y="532.9" width="88.7" height="87.6" fill="#060606"/><rect x="109.2" y="532.9" width="88.7" height="87.6" filter="url(#noiseMa)" opacity="0.12"/><path d="M130.6,546.2 L166.8,608.8 L173.3,605.1 L137.1,542.5 Z" fill="#9420a8" stroke="#9420a8" stroke-width="4" stroke-linejoin="round" opacity="0.24" filter="url(#blur08)"/><clipPath id="cliprf4"><path d="M127.9,545.5 L166.0,611.6 L176.0,605.8 L137.9,539.7 Z"/></clipPath><g clip-path="url(#cliprf4)" filter="url(#blur05)"><rect x="109.2" y="532.9" width="88.7" height="87.6" filter="url(#noiseMaD)" opacity="0.4"/></g></g><text x="196.20" y="618.10" font-size="15" fill="#a428b4" text-anchor="end" font-weight="normal" font-style="normal" >Al</text><rect x="18.2" y="524.6" width="57.5" height="2.1" fill="#fff"/><text x="22.60" y="521.80" font-size="10.1" fill="#fff" text-anchor="start" font-weight="bold" font-style="normal" >100 nm</text><text x="19.00" y="456.60" font-size="19" fill="#fff" text-anchor="start" font-weight="normal" font-style="normal" >f</text>
</g>
<g id="p_g">
<clipPath id="clipG"><rect x="202.5" y="440.6" width="180.3" height="179.8"/></clipPath><g clip-path="url(#clipG)"><rect x="202.5" y="440.6" width="180.3" height="179.8" fill="#050505"/><mask id="maskDome" maskUnits="userSpaceOnUse" x="202.5" y="440.6" width="180.3" height="179.8"><rect x="202.5" y="440.6" width="180.3" height="179.8" fill="#000"/><path d="M203,626 Q206,598 222,572 Q238,542 262,523 Q286,508 312,507 Q345,508 387,518 L387,626 Z" fill="#fff" filter="url(#blur3)"/></mask><clipPath id="clipDome"><path d="M203,626 Q206,598 222,572 Q238,542 262,523 Q286,508 312,507 Q345,508 387,518 L387,626 Z"/></clipPath><g mask="url(#maskDome)"><g filter="url(#blur05)"><rect x="202.5" y="440.6" width="180.3" height="179.8" fill="url(#stripeG)"/></g><rect x="202.5" y="440.6" width="180.3" height="179.8" fill="url(#domeShade)"/></g><circle cx="312.5" cy="506" r="2.2" fill="#e8e8e8" opacity="0.55" filter="url(#blur1)"/><circle cx="283" cy="514" r="2.2" fill="#e8e8e8" opacity="0.55" filter="url(#blur1)"/><circle cx="300" cy="513" r="1.8" fill="#e8e8e8" opacity="0.55" filter="url(#blur1)"/><circle cx="254" cy="530" r="2" fill="#e8e8e8" opacity="0.55" filter="url(#blur1)"/><circle cx="258" cy="538" r="1.6" fill="#e8e8e8" opacity="0.55" filter="url(#blur1)"/><circle cx="233" cy="555" r="1.6" fill="#e8e8e8" opacity="0.55" filter="url(#blur1)"/><circle cx="226" cy="572" r="2" fill="#e8e8e8" opacity="0.55" filter="url(#blur1)"/><circle cx="284" cy="557" r="2.2" fill="#e8e8e8" opacity="0.55" filter="url(#blur1)"/><circle cx="306" cy="554" r="2.6" fill="#e8e8e8" opacity="0.55" filter="url(#blur1)"/><circle cx="315" cy="558" r="3" fill="#e8e8e8" opacity="0.55" filter="url(#blur1)"/><circle cx="322" cy="556" r="2.2" fill="#e8e8e8" opacity="0.55" filter="url(#blur1)"/><circle cx="330" cy="572" r="2.2" fill="#e8e8e8" opacity="0.55" filter="url(#blur1)"/><circle cx="327" cy="566" r="1.8" fill="#e8e8e8" opacity="0.55" filter="url(#blur1)"/><circle cx="345" cy="524" r="2" fill="#e8e8e8" opacity="0.55" filter="url(#blur1)"/><circle cx="350" cy="533" r="1.8" fill="#e8e8e8" opacity="0.55" filter="url(#blur1)"/><circle cx="372" cy="517" r="2" fill="#e8e8e8" opacity="0.55" filter="url(#blur1)"/><circle cx="250" cy="575" r="1.8" fill="#e8e8e8" opacity="0.55" filter="url(#blur1)"/><circle cx="218" cy="593" r="1.6" fill="#e8e8e8" opacity="0.55" filter="url(#blur1)"/><g clip-path="url(#clipDome)"><rect x="202.5" y="440.6" width="180.3" height="179.8" filter="url(#noiseG)" opacity="0.15"/></g></g><rect x="204.4" y="616.6" width="51.6" height="1.3" fill="#9a9a9a"/><text x="204.3" y="614.4" font-size="8.2" fill="#e8e8e8" style="font-family:'Liberation Sans',sans-serif">5 nm</text><text x="206.00" y="454.40" font-size="19" fill="#fff" text-anchor="start" font-weight="normal" font-style="normal" >g</text>
</g>
<g id="p_h">
<clipPath id="cliph"><rect x="386.6" y="440.4" width="129.69999999999993" height="180.10000000000002"/></clipPath><g clip-path="url(#cliph)"><rect x="386.6" y="440.4" width="129.69999999999993" height="180.10000000000002" fill="#3a62e6"/><g filter="url(#blur4)" opacity="0.85"><circle cx="410.5" cy="450" r="25.5" fill="#3ad4f4"/><circle cx="500" cy="450" r="25.5" fill="#3ad4f4"/><circle cx="454" cy="506.5" r="28.5" fill="#3ad4f4"/><circle cx="403" cy="541" r="31" fill="#3ad4f4"/><circle cx="498.5" cy="542.5" r="31" fill="#3ad4f4"/><circle cx="453.5" cy="600" r="32" fill="#3ad4f4"/><circle cx="402" cy="625" r="19" fill="#3ad4f4"/><circle cx="422.7" cy="509.7" r="13" fill="#38ccf4"/><circle cx="462.3" cy="534.4" r="13" fill="#38ccf4"/><circle cx="509.6" cy="511.2" r="13" fill="#38ccf4"/><circle cx="416.6" cy="601.5" r="13" fill="#38ccf4"/><circle cx="509.6" cy="606.2" r="13" fill="#38ccf4"/><circle cx="466" cy="438" r="13" fill="#38ccf4"/></g><g stroke="#3438d0" stroke-width="3" fill="none" opacity="0.75" filter="url(#blur1)"><path d="M451.7,457.0 L427.1,452.8"/><path d="M451.7,457.0 L483.3,452.4"/><path d="M451.7,457.0 L453.1,487.4"/><path d="M405.0,490.8 L408.2,466.7"/><path d="M405.0,490.8 L435.8,500.7"/><path d="M405.0,490.8 L403.8,520.0"/><path d="M495.3,490.8 L498.1,466.8"/><path d="M495.3,490.8 L471.9,499.7"/><path d="M495.3,490.8 L497.2,521.5"/><path d="M495.8,586.6 L497.2,563.5"/><path d="M495.8,586.6 L474.2,593.4"/><path d="M405.0,586.6 L403.9,562.0"/><path d="M405.0,586.6 L432.5,594.2"/></g><ellipse cx="410.5" cy="450" rx="22.5" ry="22.5" fill="url(#elf)" transform="rotate(0 410.5 450)"/><ellipse cx="500" cy="450" rx="22.5" ry="22.5" fill="url(#elf)" transform="rotate(0 500 450)"/><ellipse cx="454" cy="506.5" rx="25.5" ry="25.5" fill="url(#elf)" transform="rotate(0 454 506.5)"/><ellipse cx="403" cy="541" rx="28.0" ry="28.0" fill="url(#elf)" transform="rotate(0 403 541)"/><ellipse cx="498.5" cy="542.5" rx="28.0" ry="28.0" fill="url(#elf)" transform="rotate(0 498.5 542.5)"/><ellipse cx="453.5" cy="600" rx="29.0" ry="29.0" fill="url(#elf)" transform="rotate(0 453.5 600)"/><ellipse cx="402" cy="625" rx="16.0" ry="16.0" fill="url(#elf)" transform="rotate(0 402 625)"/><circle cx="451.7" cy="457" r="5" fill="#2a86b4" opacity="0.85"/><circle cx="405" cy="490.8" r="5" fill="#2a86b4" opacity="0.85"/><circle cx="495.3" cy="490.8" r="5" fill="#2a86b4" opacity="0.85"/><circle cx="495.8" cy="586.6" r="5" fill="#2a86b4" opacity="0.85"/><circle cx="405" cy="586.6" r="5" fill="#2a86b4" opacity="0.85"/><path d="M422.7,509.7 L437.5,506.2" stroke="#d63ec6" stroke-width="1.6" stroke-linecap="round"/><path d="M437.5,506.2 L452.3,502.7" stroke="#d8d828" stroke-width="1.6" stroke-linecap="round"/><path d="M462.3,534.4 L457.3,518.55" stroke="#d63ec6" stroke-width="1.6" stroke-linecap="round"/><path d="M457.3,518.55 L452.3,502.7" stroke="#d8d828" stroke-width="1.6" stroke-linecap="round"/><path d="M462.3,534.4 L479.55,537.3" stroke="#d63ec6" stroke-width="1.6" stroke-linecap="round"/><path d="M479.55,537.3 L496.8,540.2" stroke="#d8d828" stroke-width="1.6" stroke-linecap="round"/><path d="M509.6,511.2 L503.20000000000005,525.7" stroke="#d63ec6" stroke-width="1.6" stroke-linecap="round"/><path d="M503.20000000000005,525.7 L496.8,540.2" stroke="#d8d828" stroke-width="1.6" stroke-linecap="round"/><path d="M416.6,601.5 L435.20000000000005,601.35" stroke="#d63ec6" stroke-width="1.6" stroke-linecap="round"/><path d="M435.20000000000005,601.35 L453.8,601.2" stroke="#d8d828" stroke-width="1.6" stroke-linecap="round"/><path d="M462.3,534.4 L455.0,544.65" stroke="#d63ec6" stroke-width="1.6" stroke-linecap="round"/><path d="M455.0,544.65 L447.7,554.9" stroke="#e07a14" stroke-width="1.6" stroke-linecap="round"/><path d="M405.9,538.7 L413.1,545.25" stroke="#d8d828" stroke-width="1.6" stroke-linecap="round"/><path d="M413.1,545.25 L420.3,551.8" stroke="#e07a14" stroke-width="1.6" stroke-linecap="round"/><path d="M416.6,601.5 L429.55,594.6" stroke="#d63ec6" stroke-width="1.6" stroke-linecap="round"/><path d="M429.55,594.6 L442.5,587.7" stroke="#e07a14" stroke-width="1.6" stroke-linecap="round"/><path d="M453.8,601.2 L448.15,594.45" stroke="#d8d828" stroke-width="1.6" stroke-linecap="round"/><path d="M448.15,594.45 L442.5,587.7" stroke="#e07a14" stroke-width="1.6" stroke-linecap="round"/><path d="M405.9,538.7 L395.95,536.35" stroke="#d8d828" stroke-width="1.4" stroke-linecap="round"/><path d="M395.95,536.35 L386,534" stroke="#d8d828" stroke-width="1.4" stroke-linecap="round"/><path d="M407.4,445.7 L396.7,444.85" stroke="#d8d828" stroke-width="1.4" stroke-linecap="round"/><path d="M396.7,444.85 L386,444" stroke="#d8d828" stroke-width="1.4" stroke-linecap="round"/><path d="M496.2,445.7 L487.1,443.85" stroke="#d8d828" stroke-width="1.4" stroke-linecap="round"/><path d="M487.1,443.85 L478,442" stroke="#d8d828" stroke-width="1.4" stroke-linecap="round"/><path d="M496.8,540.2 L506.9,539.1" stroke="#d8d828" stroke-width="1.4" stroke-linecap="round"/><path d="M506.9,539.1 L517,538" stroke="#d8d828" stroke-width="1.4" stroke-linecap="round"/><path d="M416.6,601.5 L413.3,611.75" stroke="#d63ec6" stroke-width="1.4" stroke-linecap="round"/><path d="M413.3,611.75 L410,622" stroke="#d63ec6" stroke-width="1.4" stroke-linecap="round"/><path d="M453.8,601.2 L456.9,611.6" stroke="#d8d828" stroke-width="1.4" stroke-linecap="round"/><path d="M456.9,611.6 L460,622" stroke="#d8d828" stroke-width="1.4" stroke-linecap="round"/><path d="M509.6,606.2 L507.3,614.1" stroke="#d63ec6" stroke-width="1.4" stroke-linecap="round"/><path d="M507.3,614.1 L505,622" stroke="#d63ec6" stroke-width="1.4" stroke-linecap="round"/><g stroke="#e07a14" stroke-width="2" stroke-linecap="round"><path d="M420.3,551.8 L447.7,554.9"/><path d="M420.3,551.8 L416,564.8"/><path d="M420.3,551.8 L444,573.8"/><path d="M420.3,551.8 L415,584.4"/><path d="M447.7,554.9 L416,564.8"/><path d="M447.7,554.9 L444,573.8"/><path d="M447.7,554.9 L442.5,587.7"/><path d="M416,564.8 L444,573.8"/><path d="M416,564.8 L415,584.4"/><path d="M416,564.8 L442.5,587.7"/><path d="M444,573.8 L415,584.4"/><path d="M444,573.8 L442.5,587.7"/><path d="M415,584.4 L442.5,587.7"/></g><circle cx="444" cy="521" r="31" fill="none" stroke="#e8202c" stroke-width="2.3" stroke-dasharray="9,4.5"/><circle cx="407.40" cy="445.70" r="4.40" fill="url(#g_s)" /><circle cx="496.20" cy="445.70" r="4.40" fill="url(#g_s)" /><circle cx="452.30" cy="502.70" r="4.40" fill="url(#g_s)" /><circle cx="405.90" cy="538.70" r="4.40" fill="url(#g_s)" /><circle cx="496.80" cy="540.20" r="4.40" fill="url(#g_s)" /><circle cx="453.80" cy="601.20" r="4.40" fill="url(#g_s)" /><circle cx="422.70" cy="509.70" r="6.20" fill="url(#g_cd)" /><circle cx="462.30" cy="534.40" r="6.20" fill="url(#g_cd)" /><circle cx="509.60" cy="511.20" r="6.20" fill="url(#g_cd)" /><circle cx="416.60" cy="601.50" r="6.20" fill="url(#g_cd)" /><circle cx="509.60" cy="606.20" r="6.20" fill="url(#g_cd)" /><circle cx="466.00" cy="438.00" r="6.20" fill="url(#g_cd)" /><circle cx="420.30" cy="551.80" r="6.20" fill="url(#g_rh)" /><circle cx="447.70" cy="554.90" r="6.20" fill="url(#g_rh)" /><circle cx="416.00" cy="564.80" r="6.20" fill="url(#g_rh)" /><circle cx="444.00" cy="573.80" r="6.20" fill="url(#g_rh)" /><circle cx="415.00" cy="584.40" r="6.20" fill="url(#g_rh)" /><circle cx="442.50" cy="587.70" r="6.20" fill="url(#g_rh)" /></g><path d="M452.3,503.6 L470.5,492.5" stroke="#e8202c" stroke-width="2.4"/><path d="M465.2,489.6 L475.5,489.3 L470.4,498.2 Z" fill="#e8202c"/><text x="447.60" y="485.40" font-size="16.6" fill="#e02230" text-anchor="start" font-weight="normal" font-style="normal" >2.55</text><text x="488.00" y="485.40" font-size="15.5" fill="#e02230" text-anchor="start" font-weight="normal" font-style="normal" >Å</text><text x="395.00" y="511.30" font-size="14.4" fill="#e02230" text-anchor="start" font-weight="normal" font-style="normal" >Cd</text><text x="442.30" y="520.00" font-size="14.4" fill="#e02230" text-anchor="start" font-weight="normal" font-style="normal" >S</text><text x="467.60" y="554.20" font-size="14.4" fill="#e02230" text-anchor="start" font-weight="normal" font-style="normal" >Cd</text><text x="390.50" y="458.00" font-size="20" fill="#000" text-anchor="start" font-weight="normal" font-style="normal" >h</text>
</g>
<g id="p_i">
<clipPath id="clipi"><rect x="520.8" y="440.4" width="125.80000000000007" height="180.10000000000002"/></clipPath><g clip-path="url(#clipi)"><rect x="520.8" y="440.4" width="125.80000000000007" height="180.10000000000002" fill="#3a62e6"/><g filter="url(#blur4)" opacity="0.85"><circle cx="543.5" cy="451.5" r="25.5" fill="#3ad4f4"/><circle cx="631" cy="451" r="25.5" fill="#3ad4f4"/><circle cx="579.6" cy="504.5" r="32.5" fill="#3ad4f4"/><circle cx="539.5" cy="534" r="31" fill="#3ad4f4"/><circle cx="627" cy="543.5" r="28.5" fill="#3ad4f4"/><circle cx="589" cy="601" r="31" fill="#3ad4f4"/><circle cx="600" cy="630" r="20" fill="#3ad4f4"/><circle cx="639" cy="513.7" r="13" fill="#38ccf4"/><circle cx="589.7" cy="541.9" r="13" fill="#38ccf4"/><circle cx="547.6" cy="602.1" r="13" fill="#38ccf4"/><circle cx="639.7" cy="605.8" r="13" fill="#38ccf4"/><circle cx="598" cy="438" r="13" fill="#38ccf4"/></g><g stroke="#3438d0" stroke-width="3" fill="none" opacity="0.75" filter="url(#blur1)"><path d="M582.4,457.7 L560.2,454.2"/><path d="M582.4,457.7 L614.3,453.3"/><path d="M582.4,457.7 L580.9,482.4"/><path d="M538.8,492.5 L541.6,468.3"/><path d="M538.8,492.5 L558.4,498.3"/><path d="M538.8,492.5 L539.1,513.0"/><path d="M627.0,491.0 L629.3,467.8"/><path d="M627.0,491.0 L600.9,498.4"/><path d="M627.0,491.0 L627.0,524.4"/><path d="M628.0,587.0 L627.4,562.6"/><path d="M628.0,587.0 L608.8,593.9"/><path d="M536.7,587.0 L538.4,555.0"/><path d="M536.7,587.0 L568.7,595.6"/></g><ellipse cx="543.5" cy="451.5" rx="22.5" ry="22.5" fill="url(#elf)" transform="rotate(0 543.5 451.5)"/><ellipse cx="631" cy="451" rx="22.5" ry="22.5" fill="url(#elf)" transform="rotate(0 631 451)"/><ellipse cx="579.6" cy="504.5" rx="29.5" ry="29.5" fill="url(#elf)" transform="rotate(0 579.6 504.5)"/><ellipse cx="539.5" cy="534" rx="28.0" ry="28.0" fill="url(#elf)" transform="rotate(0 539.5 534)"/><ellipse cx="627" cy="543.5" rx="25.5" ry="25.5" fill="url(#elf)" transform="rotate(0 627 543.5)"/><ellipse cx="589" cy="601" rx="28.0" ry="28.0" fill="url(#elf)" transform="rotate(0 589 601)"/><ellipse cx="600" cy="630" rx="17.0" ry="17.0" fill="url(#elf)" transform="rotate(0 600 630)"/><circle cx="597" cy="482.8" r="5.2" fill="#3236d4" opacity="0.9" filter="url(#blur05)"/><circle cx="582.4" cy="457.7" r="5" fill="#2a86b4" opacity="0.85"/><circle cx="538.8" cy="492.5" r="5" fill="#2a86b4" opacity="0.85"/><circle cx="627" cy="491" r="5" fill="#2a86b4" opacity="0.85"/><circle cx="628" cy="587" r="5" fill="#2a86b4" opacity="0.85"/><circle cx="536.7" cy="587" r="5" fill="#2a86b4" opacity="0.85"/><path d="M553.7,511.9 L567.1,509.6" stroke="#9ab0d0" stroke-width="1.4" stroke-linecap="round"/><path d="M567.1,509.6 L580.5,507.3" stroke="#d8d828" stroke-width="1.4" stroke-linecap="round"/><path d="M589.7,541.9 L585.1,524.6" stroke="#d63ec6" stroke-width="1.6" stroke-linecap="round"/><path d="M585.1,524.6 L580.5,507.3" stroke="#d8d828" stroke-width="1.6" stroke-linecap="round"/><path d="M589.7,541.9 L607.05,541.8" stroke="#d63ec6" stroke-width="1.6" stroke-linecap="round"/><path d="M607.05,541.8 L624.4,541.7" stroke="#d8d828" stroke-width="1.6" stroke-linecap="round"/><path d="M639,513.7 L631.7,527.7" stroke="#d63ec6" stroke-width="1.6" stroke-linecap="round"/><path d="M631.7,527.7 L624.4,541.7" stroke="#d8d828" stroke-width="1.6" stroke-linecap="round"/><path d="M547.6,602.1 L568.6500000000001,602.1" stroke="#d63ec6" stroke-width="1.6" stroke-linecap="round"/><path d="M568.6500000000001,602.1 L589.7,602.1" stroke="#d8d828" stroke-width="1.6" stroke-linecap="round"/><path d="M589.7,541.9 L586.2,549.15" stroke="#d63ec6" stroke-width="1.6" stroke-linecap="round"/><path d="M586.2,549.15 L582.7,556.4" stroke="#e07a14" stroke-width="1.6" stroke-linecap="round"/><path d="M540,537.2 L545.3,544.5" stroke="#d8d828" stroke-width="1.6" stroke-linecap="round"/><path d="M545.3,544.5 L550.6,551.8" stroke="#e07a14" stroke-width="1.6" stroke-linecap="round"/><path d="M547.6,602.1 L561.3,594.9000000000001" stroke="#d63ec6" stroke-width="1.6" stroke-linecap="round"/><path d="M561.3,594.9000000000001 L575,587.7" stroke="#e07a14" stroke-width="1.6" stroke-linecap="round"/><path d="M589.7,602.1 L582.35,594.9000000000001" stroke="#d8d828" stroke-width="1.6" stroke-linecap="round"/><path d="M582.35,594.9000000000001 L575,587.7" stroke="#e07a14" stroke-width="1.6" stroke-linecap="round"/><path d="M540,537.2 L530.5,535.6" stroke="#d8d828" stroke-width="1.4" stroke-linecap="round"/><path d="M530.5,535.6 L521,534" stroke="#d8d828" stroke-width="1.4" stroke-linecap="round"/><path d="M540,446.6 L530.5,445.8" stroke="#d8d828" stroke-width="1.4" stroke-linecap="round"/><path d="M530.5,445.8 L521,445" stroke="#d8d828" stroke-width="1.4" stroke-linecap="round"/><path d="M627.8,446.6 L617.9,444.8" stroke="#d8d828" stroke-width="1.4" stroke-linecap="round"/><path d="M617.9,444.8 L608,443" stroke="#d8d828" stroke-width="1.4" stroke-linecap="round"/><path d="M547.6,602.1 L545.3,612.05" stroke="#d63ec6" stroke-width="1.4" stroke-linecap="round"/><path d="M545.3,612.05 L543,622" stroke="#d63ec6" stroke-width="1.4" stroke-linecap="round"/><path d="M589.7,602.1 L591.85,612.05" stroke="#d8d828" stroke-width="1.4" stroke-linecap="round"/><path d="M591.85,612.05 L594,622" stroke="#d8d828" stroke-width="1.4" stroke-linecap="round"/><g stroke="#e07a14" stroke-width="2" stroke-linecap="round"><path d="M550.6,551.8 L559.8,558.5"/><path d="M550.6,551.8 L582.7,556.4"/><path d="M550.6,551.8 L541.5,581.4"/><path d="M550.6,551.8 L567.4,580.8"/><path d="M559.8,558.5 L582.7,556.4"/><path d="M559.8,558.5 L541.5,581.4"/><path d="M559.8,558.5 L567.4,580.8"/><path d="M559.8,558.5 L575,587.7"/><path d="M582.7,556.4 L567.4,580.8"/><path d="M582.7,556.4 L575,587.7"/><path d="M541.5,581.4 L567.4,580.8"/><path d="M541.5,581.4 L575,587.7"/><path d="M567.4,580.8 L575,587.7"/></g><circle cx="577.8" cy="519.8" r="33.5" fill="none" stroke="#e8202c" stroke-width="2.3" stroke-dasharray="9,4.5"/><circle cx="540.00" cy="446.60" r="4.40" fill="url(#g_s)" /><circle cx="627.80" cy="446.60" r="4.40" fill="url(#g_s)" /><circle cx="580.50" cy="507.30" r="4.40" fill="url(#g_s)" /><circle cx="540.00" cy="537.20" r="4.40" fill="url(#g_s)" /><circle cx="624.40" cy="541.70" r="4.40" fill="url(#g_s)" /><circle cx="589.70" cy="602.10" r="4.40" fill="url(#g_s)" /><circle cx="639.00" cy="513.70" r="6.20" fill="url(#g_cd)" /><circle cx="589.70" cy="541.90" r="6.20" fill="url(#g_cd)" /><circle cx="547.60" cy="602.10" r="6.20" fill="url(#g_cd)" /><circle cx="639.70" cy="605.80" r="6.20" fill="url(#g_cd)" /><circle cx="598.00" cy="438.00" r="6.20" fill="url(#g_cd)" /><circle cx="553.7" cy="511.9" r="5" fill="#2468e0"/><circle cx="553.7" cy="511.9" r="2.3" fill="#e8f4ff"/><circle cx="550.60" cy="551.80" r="6.20" fill="url(#g_rh)" /><circle cx="559.80" cy="558.50" r="6.20" fill="url(#g_rh)" /><circle cx="582.70" cy="556.40" r="6.20" fill="url(#g_rh)" /><circle cx="541.50" cy="581.40" r="6.20" fill="url(#g_rh)" /><circle cx="567.40" cy="580.80" r="6.20" fill="url(#g_rh)" /><circle cx="575.00" cy="587.70" r="6.20" fill="url(#g_rh)" /></g><path d="M585.7,523.4 L602.6,488.5" stroke="#e8202c" stroke-width="2.4"/><circle cx="603" cy="487.8" r="2.4" fill="#e8202c"/><text x="582.60" y="477.20" font-size="16.4" fill="#e02230" text-anchor="start" font-weight="normal" font-style="normal" >2.84</text><text x="619.00" y="477.20" font-size="15.5" fill="#e02230" text-anchor="start" font-weight="normal" font-style="normal" >Å</text><text x="528.50" y="509.20" font-size="14.4" fill="#e02230" text-anchor="start" font-weight="normal" font-style="normal" >Al</text><text x="570.30" y="523.60" font-size="14.4" fill="#e02230" text-anchor="start" font-weight="normal" font-style="normal" >S</text><text x="594.70" y="561.80" font-size="14.4" fill="#e02230" text-anchor="start" font-weight="normal" font-style="normal" >Cd</text><text x="523.50" y="457.50" font-size="20" fill="#000" text-anchor="start" font-weight="normal" font-style="normal" >i</text>
</g>
<text x="5.30" y="14.60" font-size="18.5" fill="#000" text-anchor="start" font-weight="normal" font-style="normal" >a</text>
<rect x="650.1" y="0" width="0.9" height="626" fill="#000"/><rect x="0" y="624.4" width="651" height="1.6" fill="#000"/>
</svg>
</body></html>
